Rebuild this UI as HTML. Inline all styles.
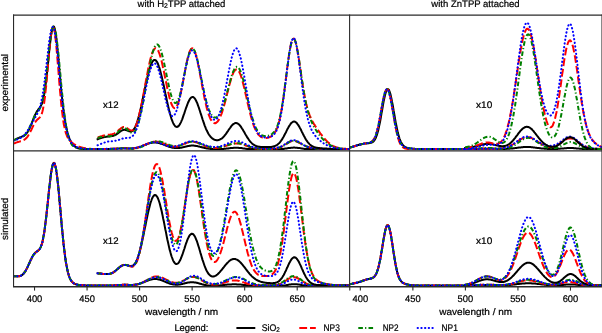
<!DOCTYPE html>
<html><head><meta charset="utf-8"><style>
html,body{margin:0;padding:0;background:#fff;width:602px;height:333px;overflow:hidden}
svg{display:block;will-change:transform}
text{font-family:"Liberation Sans",sans-serif;text-rendering:geometricPrecision}
</style></head><body>
<svg width="602" height="333" viewBox="0 0 602 333">
<defs>
<clipPath id="cTL"><rect x="13.55" y="15" width="336.05" height="135.95"/></clipPath>
<clipPath id="cBL"><rect x="13.55" y="150.95" width="336.05" height="135.5"/></clipPath>
<clipPath id="cTR"><rect x="349.6" y="15" width="252.4" height="135.95"/></clipPath>
<clipPath id="cBR"><rect x="349.6" y="150.95" width="252.4" height="135.5"/></clipPath>
</defs>
<rect width="602" height="333" fill="#fff"/>
<path d="M13.5,140.5 14.0,140.2 14.6,139.9 15.1,139.6 15.6,139.4 16.1,139.1 16.7,138.8 17.2,138.6 17.7,138.3 18.2,138.1 18.8,137.9 19.3,137.7 19.8,137.5 20.3,137.3 20.9,137.1 21.4,136.9 21.9,136.6 22.4,136.4 23.0,136.2 23.5,135.9 24.0,135.6 24.5,135.2 25.1,134.8 25.6,134.4 26.1,133.8 26.6,133.2 27.2,132.6 27.7,131.8 28.2,130.9 28.7,130.0 29.3,129.0 29.8,127.9 30.3,126.7 30.8,125.5 31.4,124.2 31.9,122.8 32.4,121.5 32.9,120.1 33.5,118.8 34.0,117.5 34.5,116.2 35.0,115.0 35.6,113.9 36.1,112.9 36.6,112.0 37.1,111.1 37.7,110.3 38.2,109.6 38.7,108.9 39.2,108.3 39.8,107.6 40.3,106.8 40.8,105.9 41.3,104.9 41.9,103.6 42.4,102.1 42.9,100.3 43.4,98.1 44.0,95.6 44.5,92.6 45.0,89.2 45.5,85.4 46.1,81.3 46.6,76.7 47.1,71.9 47.7,66.8 48.2,61.6 48.7,56.4 49.2,51.2 49.8,46.2 50.3,41.6 50.8,37.4 51.3,33.7 51.9,30.7 52.4,28.4 52.9,27.0 53.4,26.4 54.0,26.7 54.5,27.9 55.0,29.9 55.5,32.7 56.1,36.3 56.6,40.5 57.1,45.3 57.6,50.5 58.2,56.0 58.7,61.8 59.2,67.6 59.7,73.5 60.3,79.3 60.8,85.0 61.3,90.5 61.8,95.7 62.4,100.6 62.9,105.2 63.4,109.5 63.9,113.5 64.5,117.1 65.0,120.4 65.5,123.4 66.0,126.1 66.6,128.6 67.1,130.9 67.6,132.9 68.1,134.7 68.7,136.3 69.2,137.8 69.7,139.1 70.2,140.3 70.8,141.3 71.3,142.3 71.8,143.1 72.3,143.9 72.9,144.6 73.4,145.2 73.9,145.7 74.4,146.2 75.0,146.6 75.5,146.9 76.0,147.3 76.5,147.5 77.1,147.8 77.6,148.0 78.1,148.2 78.6,148.3 79.2,148.4 79.7,148.6 80.2,148.7 80.8,148.7 81.3,148.8 81.8,148.9 82.3,148.9 82.9,148.9 83.4,149.0 83.9,149.0 84.4,149.0 85.0,149.0 85.5,149.0 86.0,149.1 86.5,149.1 87.1,149.1 87.6,149.1 88.1,149.1 88.6,149.1 89.2,149.1 89.7,149.1 90.2,149.1 90.7,149.1 91.3,149.1 91.8,149.1 92.3,149.1 92.8,149.1 93.4,149.1 93.9,149.1 94.4,149.1 94.9,149.1 95.5,149.1 96.0,149.1 96.5,149.1 97.0,149.1 97.6,149.1 98.1,149.1 98.6,149.1 99.1,149.1 99.7,149.0 100.2,149.0 100.7,149.0 101.2,149.0 101.8,149.0 102.3,149.0 102.8,149.0 103.3,148.9 103.9,148.9 104.4,148.9 104.9,148.9 105.4,148.9 106.0,148.9 106.5,148.9 107.0,148.9 107.5,148.9 108.1,148.9 108.6,148.9 109.1,148.9 109.6,148.9 110.2,148.9 110.7,148.9 111.2,148.9 111.7,148.8 112.3,148.8 112.8,148.8 113.3,148.8 113.9,148.8 114.4,148.8 114.9,148.8 115.4,148.7 116.0,148.7 116.5,148.7 117.0,148.7 117.5,148.6 118.1,148.6 118.6,148.6 119.1,148.5 119.6,148.5 120.2,148.5 120.7,148.4 121.2,148.4 121.7,148.4 122.3,148.4 122.8,148.3 123.3,148.3 123.8,148.3 124.4,148.3 124.9,148.3 125.4,148.3 125.9,148.3 126.5,148.4 127.0,148.4 127.5,148.4 128.0,148.4 128.6,148.4 129.1,148.4 129.6,148.4 130.1,148.5 130.7,148.5 131.2,148.4 131.7,148.4 132.2,148.4 132.8,148.4 133.3,148.3 133.8,148.3 134.3,148.2 134.9,148.1 135.4,148.1 135.9,148.0 136.4,147.8 137.0,147.7 137.5,147.6 138.0,147.4 138.5,147.3 139.1,147.1 139.6,146.9 140.1,146.8 140.6,146.6 141.2,146.4 141.7,146.2 142.2,146.0 142.7,145.8 143.3,145.6 143.8,145.3 144.3,145.1 144.8,144.9 145.4,144.7 145.9,144.5 146.4,144.3 147.0,144.1 147.5,143.9 148.0,143.7 148.5,143.6 149.1,143.4 149.6,143.2 150.1,143.1 150.6,143.0 151.2,142.9 151.7,142.8 152.2,142.7 152.7,142.6 153.3,142.5 153.8,142.5 154.3,142.5 154.8,142.5 155.4,142.5 155.9,142.5 156.4,142.6 156.9,142.7 157.5,142.7 158.0,142.8 158.5,142.9 159.0,143.1 159.6,143.2 160.1,143.4 160.6,143.5 161.1,143.7 161.7,143.9 162.2,144.1 162.7,144.2 163.2,144.4 163.8,144.6 164.3,144.9 164.8,145.1 165.3,145.3 165.9,145.5 166.4,145.7 166.9,145.9 167.4,146.1 168.0,146.3 168.5,146.5 169.0,146.7 169.5,146.8 170.1,147.0 170.6,147.1 171.1,147.3 171.6,147.4 172.2,147.5 172.7,147.7 173.2,147.8 173.7,147.8 174.3,147.9 174.8,148.0 175.3,148.0 175.8,148.1 176.4,148.1 176.9,148.1 177.4,148.1 178.0,148.0 178.5,148.0 179.0,148.0 179.5,147.9 180.1,147.8 180.6,147.7 181.1,147.7 181.6,147.5 182.2,147.4 182.7,147.3 183.2,147.2 183.7,147.1 184.3,146.9 184.8,146.8 185.3,146.7 185.8,146.6 186.4,146.4 186.9,146.3 187.4,146.2 187.9,146.1 188.5,146.0 189.0,145.9 189.5,145.8 190.0,145.7 190.6,145.7 191.1,145.6 191.6,145.6 192.1,145.6 192.7,145.6 193.2,145.6 193.7,145.6 194.2,145.7 194.8,145.7 195.3,145.8 195.8,145.9 196.3,145.9 196.9,146.0 197.4,146.1 197.9,146.3 198.4,146.4 199.0,146.5 199.5,146.6 200.0,146.8 200.5,146.9 201.1,147.0 201.6,147.2 202.1,147.3 202.6,147.5 203.2,147.6 203.7,147.7 204.2,147.8 204.7,148.0 205.3,148.1 205.8,148.2 206.3,148.3 206.8,148.4 207.4,148.5 207.9,148.6 208.4,148.6 208.9,148.7 209.5,148.8 210.0,148.8 210.5,148.9 211.1,148.9 211.6,149.0 212.1,149.0 212.6,149.1 213.2,149.1 213.7,149.1 214.2,149.1 214.7,149.1 215.3,149.1 215.8,149.1 216.3,149.1 216.8,149.1 217.4,149.1 217.9,149.1 218.4,149.1 218.9,149.1 219.5,149.1 220.0,149.1 220.5,149.1 221.0,149.1 221.6,149.0 222.1,149.0 222.6,149.0 223.1,148.9 223.7,148.9 224.2,148.8 224.7,148.8 225.2,148.7 225.8,148.7 226.3,148.6 226.8,148.6 227.3,148.5 227.9,148.4 228.4,148.4 228.9,148.3 229.4,148.2 230.0,148.2 230.5,148.1 231.0,148.0 231.5,148.0 232.1,147.9 232.6,147.9 233.1,147.9 233.6,147.8 234.2,147.8 234.7,147.8 235.2,147.8 235.7,147.8 236.3,147.8 236.8,147.8 237.3,147.8 237.8,147.8 238.4,147.8 238.9,147.9 239.4,147.9 239.9,148.0 240.5,148.0 241.0,148.1 241.5,148.1 242.0,148.2 242.6,148.3 243.1,148.4 243.6,148.4 244.2,148.5 244.7,148.6 245.2,148.7 245.7,148.7 246.3,148.8 246.8,148.9 247.3,149.0 247.8,149.0 248.4,149.1 248.9,149.1 249.4,149.1 249.9,149.1 250.5,149.1 251.0,149.1 251.5,149.1 252.0,149.1 252.6,149.1 253.1,149.1 253.6,149.1 254.1,149.1 254.7,149.1 255.2,149.1 255.7,149.1 256.2,149.1 256.8,149.1 257.3,149.1 257.8,149.1 258.3,149.1 258.9,149.1 259.4,149.1 259.9,149.1 260.4,149.1 261.0,149.1 261.5,149.1 262.0,149.1 262.5,149.1 263.1,149.1 263.6,149.1 264.1,149.1 264.6,149.1 265.2,149.1 265.7,149.1 266.2,149.1 266.7,149.1 267.3,149.1 267.8,149.1 268.3,149.1 268.8,149.1 269.4,149.1 269.9,149.1 270.4,149.1 270.9,149.1 271.5,149.1 272.0,149.1 272.5,149.1 273.0,149.1 273.6,149.1 274.1,149.1 274.6,149.1 275.1,149.1 275.7,149.1 276.2,149.1 276.7,149.1 277.3,149.1 277.8,149.1 278.3,149.1 278.8,149.1 279.4,149.1 279.9,149.1 280.4,149.1 280.9,149.1 281.5,149.1 282.0,149.1 282.5,149.0 283.0,149.0 283.6,148.9 284.1,148.8 284.6,148.7 285.1,148.6 285.7,148.6 286.2,148.5 286.7,148.4 287.2,148.3 287.8,148.2 288.3,148.1 288.8,148.1 289.3,148.0 289.9,147.9 290.4,147.9 290.9,147.8 291.4,147.7 292.0,147.7 292.5,147.7 293.0,147.7 293.5,147.6 294.1,147.6 294.6,147.6 295.1,147.7 295.6,147.7 296.2,147.7 296.7,147.8 297.2,147.8 297.7,147.9 298.3,147.9 298.8,148.0 299.3,148.1 299.8,148.1 300.4,148.2 300.9,148.3 301.4,148.4 301.9,148.5 302.5,148.6 303.0,148.7 303.5,148.8 304.0,148.8 304.6,148.9 305.1,149.0 305.6,149.1 306.1,149.1 306.7,149.1 307.2,149.1 307.7,149.1 308.2,149.1 308.8,149.1 309.3,149.1 309.8,149.1 310.4,149.1 310.9,149.1 311.4,149.1 311.9,149.1 312.5,149.1 313.0,149.1 313.5,149.1 314.0,149.1 314.6,149.1 315.1,149.1 315.6,149.1 316.1,149.1 316.7,149.1 317.2,149.1 317.7,149.1 318.2,149.1 318.8,149.1 319.3,149.1 319.8,149.1 320.3,149.1 320.9,149.1 321.4,149.1 321.9,149.1 322.4,149.1 323.0,149.1 323.5,149.1 324.0,149.1 324.5,149.1 325.1,149.1 325.6,149.1 326.1,149.1 326.6,149.1 327.2,149.1 327.7,149.1 328.2,149.1 328.7,149.1 329.3,149.1 329.8,149.1 330.3,149.1 330.8,149.1 331.4,149.1 331.9,149.1 332.4,149.1 332.9,149.1 333.5,149.1 334.0,149.1 334.5,149.1 335.0,149.1 335.6,149.1 336.1,149.1 336.6,149.1 337.1,149.1 337.7,149.1 338.2,149.1 338.7,149.1 339.2,149.1 339.8,149.1 340.3,149.1 340.8,149.1 341.3,149.1 341.9,149.1 342.4,149.1 342.9,149.1 343.5,149.1 344.0,149.1 344.5,149.1 345.0,149.1 345.6,149.1 346.1,149.1 346.6,149.1 347.1,149.1 347.7,149.1 348.2,149.1 348.7,149.1 349.2,149.1 349.8,149.1" stroke="#000000" stroke-width="2.0" fill="none" stroke-linecap="square" stroke-linejoin="round" clip-path="url(#cTL)"/>
<path d="M13.5,143.6 14.0,143.4 14.6,143.2 15.1,143.0 15.6,142.8 16.1,142.6 16.7,142.4 17.2,142.2 17.7,142.1 18.2,141.9 18.8,141.8 19.3,141.6 19.8,141.5 20.3,141.3 20.9,141.2 21.4,141.0 21.9,140.8 22.4,140.6 23.0,140.4 23.5,140.2 24.0,139.9 24.5,139.5 25.1,139.2 25.6,138.7 26.1,138.2 26.6,137.7 27.2,137.1 27.7,136.4 28.2,135.6 28.7,134.7 29.3,133.8 29.8,132.9 30.3,131.8 30.8,130.8 31.4,129.7 31.9,128.6 32.4,127.5 32.9,126.4 33.5,125.3 34.0,124.3 34.5,123.4 35.0,122.5 35.6,121.7 36.1,121.0 36.6,120.4 37.1,119.8 37.7,119.3 38.2,118.9 38.7,118.4 39.2,117.9 39.8,117.4 40.3,116.7 40.8,115.8 41.3,114.7 41.9,113.4 42.4,111.6 42.9,109.5 43.4,106.9 44.0,103.9 44.5,100.3 45.0,96.3 45.5,91.7 46.1,86.7 46.6,81.3 47.1,75.6 47.7,69.6 48.2,63.5 48.7,57.5 49.2,51.6 49.8,46.0 50.3,41.0 50.8,36.5 51.3,32.8 51.9,30.0 52.4,28.1 52.9,27.3 53.4,27.5 54.0,28.8 54.5,31.2 55.0,34.4 55.5,38.6 56.1,43.5 56.6,49.1 57.1,55.1 57.6,61.5 58.2,68.0 58.7,74.6 59.2,81.2 59.7,87.6 60.3,93.6 60.8,99.4 61.3,104.7 61.8,109.6 62.4,114.1 62.9,118.1 63.4,121.6 63.9,124.7 64.5,127.4 65.0,129.8 65.5,131.8 66.0,133.5 66.6,135.0 67.1,136.3 67.6,137.4 68.1,138.3 68.7,139.2 69.2,139.9 69.7,140.5 70.2,141.1 70.8,141.6 71.3,142.1 71.8,142.5 72.3,143.0 72.9,143.3 73.4,143.7 73.9,144.1 74.4,144.4 75.0,144.7 75.5,145.0 76.0,145.3 76.5,145.5 77.1,145.8 77.6,146.0 78.1,146.3 78.6,146.5 79.2,146.7 79.7,146.9 80.2,147.1 80.8,147.2 81.3,147.4 81.8,147.5 82.3,147.7 82.9,147.8 83.4,147.9 83.9,148.0 84.4,148.1 85.0,148.2 85.5,148.3 86.0,148.4 86.5,148.4 87.1,148.5 87.6,148.6 88.1,148.6 88.6,148.7 89.2,148.7 89.7,148.8 90.2,148.8 90.7,148.8 91.3,148.9 91.8,148.9 92.3,148.9 92.8,148.9 93.4,149.0 93.9,149.0 94.4,149.0 94.9,149.0 95.5,149.0 96.0,149.0 96.5,149.0 97.0,149.0 97.6,149.1 98.1,149.0 98.6,149.0 99.1,149.0 99.7,149.0 100.2,149.0 100.7,149.0 101.2,149.0 101.8,149.0 102.3,148.9 102.8,148.9 103.3,148.9 103.9,148.9 104.4,148.9 104.9,148.9 105.4,148.9 106.0,148.9 106.5,148.9 107.0,148.9 107.5,148.9 108.1,148.9 108.6,148.9 109.1,148.9 109.6,148.8 110.2,148.8 110.7,148.8 111.2,148.8 111.7,148.8 112.3,148.8 112.8,148.8 113.3,148.8 113.9,148.8 114.4,148.7 114.9,148.7 115.4,148.7 116.0,148.7 116.5,148.6 117.0,148.6 117.5,148.6 118.1,148.5 118.6,148.5 119.1,148.4 119.6,148.4 120.2,148.4 120.7,148.3 121.2,148.3 121.7,148.3 122.3,148.3 122.8,148.2 123.3,148.2 123.8,148.2 124.4,148.2 124.9,148.2 125.4,148.2 125.9,148.3 126.5,148.3 127.0,148.3 127.5,148.3 128.0,148.4 128.6,148.4 129.1,148.4 129.6,148.5 130.1,148.5 130.7,148.5 131.2,148.5 131.7,148.5 132.2,148.5 132.8,148.5 133.3,148.4 133.8,148.4 134.3,148.3 134.9,148.3 135.4,148.2 135.9,148.1 136.4,148.0 137.0,147.9 137.5,147.7 138.0,147.6 138.5,147.4 139.1,147.3 139.6,147.1 140.1,146.9 140.6,146.7 141.2,146.5 141.7,146.3 142.2,146.0 142.7,145.8 143.3,145.6 143.8,145.3 144.3,145.1 144.8,144.9 145.4,144.6 145.9,144.4 146.4,144.1 147.0,143.9 147.5,143.7 148.0,143.5 148.5,143.2 149.1,143.0 149.6,142.8 150.1,142.7 150.6,142.5 151.2,142.3 151.7,142.2 152.2,142.1 152.7,141.9 153.3,141.8 153.8,141.8 154.3,141.7 154.8,141.7 155.4,141.6 155.9,141.6 156.4,141.7 156.9,141.7 157.5,141.7 158.0,141.8 158.5,141.9 159.0,142.0 159.6,142.1 160.1,142.3 160.6,142.4 161.1,142.6 161.7,142.8 162.2,142.9 162.7,143.1 163.2,143.3 163.8,143.5 164.3,143.8 164.8,144.0 165.3,144.2 165.9,144.4 166.4,144.6 166.9,144.8 167.4,145.0 168.0,145.2 168.5,145.4 169.0,145.6 169.5,145.8 170.1,145.9 170.6,146.1 171.1,146.2 171.6,146.3 172.2,146.4 172.7,146.5 173.2,146.6 173.7,146.6 174.3,146.6 174.8,146.6 175.3,146.6 175.8,146.6 176.4,146.5 176.9,146.5 177.4,146.4 178.0,146.3 178.5,146.1 179.0,146.0 179.5,145.8 180.1,145.7 180.6,145.5 181.1,145.3 181.6,145.0 182.2,144.8 182.7,144.6 183.2,144.4 183.7,144.1 184.3,143.9 184.8,143.7 185.3,143.4 185.8,143.2 186.4,143.0 186.9,142.8 187.4,142.6 187.9,142.4 188.5,142.2 189.0,142.1 189.5,142.0 190.0,141.9 190.6,141.8 191.1,141.7 191.6,141.7 192.1,141.7 192.7,141.7 193.2,141.7 193.7,141.7 194.2,141.8 194.8,141.9 195.3,142.0 195.8,142.2 196.3,142.3 196.9,142.5 197.4,142.7 197.9,142.9 198.4,143.1 199.0,143.3 199.5,143.6 200.0,143.8 200.5,144.0 201.1,144.3 201.6,144.5 202.1,144.8 202.6,145.0 203.2,145.2 203.7,145.5 204.2,145.7 204.7,145.9 205.3,146.1 205.8,146.3 206.3,146.5 206.8,146.6 207.4,146.8 207.9,147.0 208.4,147.1 208.9,147.2 209.5,147.3 210.0,147.4 210.5,147.5 211.1,147.6 211.6,147.7 212.1,147.8 212.6,147.8 213.2,147.8 213.7,147.9 214.2,147.9 214.7,147.9 215.3,147.9 215.8,147.9 216.3,147.9 216.8,147.8 217.4,147.8 217.9,147.7 218.4,147.7 218.9,147.6 219.5,147.5 220.0,147.4 220.5,147.3 221.0,147.2 221.6,147.1 222.1,147.0 222.6,146.8 223.1,146.7 223.7,146.6 224.2,146.4 224.7,146.2 225.2,146.1 225.8,145.9 226.3,145.7 226.8,145.6 227.3,145.4 227.9,145.2 228.4,145.0 228.9,144.9 229.4,144.7 230.0,144.5 230.5,144.4 231.0,144.2 231.5,144.1 232.1,144.0 232.6,143.9 233.1,143.7 233.6,143.7 234.2,143.6 234.7,143.5 235.2,143.5 235.7,143.4 236.3,143.4 236.8,143.4 237.3,143.4 237.8,143.5 238.4,143.5 238.9,143.6 239.4,143.6 239.9,143.7 240.5,143.9 241.0,144.0 241.5,144.1 242.0,144.3 242.6,144.4 243.1,144.6 243.6,144.8 244.2,144.9 244.7,145.1 245.2,145.3 245.7,145.5 246.3,145.7 246.8,145.9 247.3,146.1 247.8,146.3 248.4,146.5 248.9,146.7 249.4,146.8 249.9,147.0 250.5,147.2 251.0,147.3 251.5,147.5 252.0,147.7 252.6,147.8 253.1,147.9 253.6,148.1 254.1,148.2 254.7,148.3 255.2,148.4 255.7,148.5 256.2,148.6 256.8,148.6 257.3,148.7 257.8,148.8 258.3,148.8 258.9,148.9 259.4,148.9 259.9,149.0 260.4,149.0 261.0,149.0 261.5,149.1 262.0,149.1 262.5,149.1 263.1,149.1 263.6,149.1 264.1,149.1 264.6,149.1 265.2,149.1 265.7,149.1 266.2,149.1 266.7,149.1 267.3,149.1 267.8,149.1 268.3,149.1 268.8,149.1 269.4,149.1 269.9,149.0 270.4,149.0 270.9,149.0 271.5,149.0 272.0,148.9 272.5,148.9 273.0,148.9 273.6,148.8 274.1,148.8 274.6,148.7 275.1,148.6 275.7,148.6 276.2,148.5 276.7,148.4 277.3,148.3 277.8,148.1 278.3,148.0 278.8,147.8 279.4,147.7 279.9,147.5 280.4,147.3 280.9,147.1 281.5,146.8 282.0,146.6 282.5,146.3 283.0,146.0 283.6,145.7 284.1,145.4 284.6,145.0 285.1,144.7 285.7,144.3 286.2,144.0 286.7,143.6 287.2,143.3 287.8,143.0 288.3,142.6 288.8,142.3 289.3,142.0 289.9,141.8 290.4,141.5 290.9,141.3 291.4,141.2 292.0,141.0 292.5,140.9 293.0,140.9 293.5,140.8 294.1,140.9 294.6,140.9 295.1,141.0 295.6,141.1 296.2,141.3 296.7,141.5 297.2,141.7 297.7,142.0 298.3,142.2 298.8,142.5 299.3,142.8 299.8,143.1 300.4,143.4 300.9,143.7 301.4,144.0 301.9,144.3 302.5,144.6 303.0,144.9 303.5,145.1 304.0,145.4 304.6,145.6 305.1,145.8 305.6,146.0 306.1,146.2 306.7,146.4 307.2,146.6 307.7,146.8 308.2,146.9 308.8,147.0 309.3,147.2 309.8,147.3 310.4,147.4 310.9,147.5 311.4,147.6 311.9,147.7 312.5,147.7 313.0,147.8 313.5,147.9 314.0,148.0 314.6,148.0 315.1,148.1 315.6,148.2 316.1,148.2 316.7,148.3 317.2,148.4 317.7,148.4 318.2,148.5 318.8,148.6 319.3,148.6 319.8,148.7 320.3,148.7 320.9,148.8 321.4,148.9 321.9,148.9 322.4,149.0 323.0,149.0 323.5,149.1 324.0,149.1 324.5,149.1 325.1,149.1 325.6,149.1 326.1,149.1 326.6,149.1 327.2,149.1 327.7,149.1 328.2,149.1 328.7,149.1 329.3,149.1 329.8,149.1 330.3,149.1 330.8,149.1 331.4,149.1 331.9,149.1 332.4,149.1 332.9,149.1 333.5,149.1 334.0,149.1 334.5,149.1 335.0,149.1 335.6,149.1 336.1,149.1 336.6,149.1 337.1,149.1 337.7,149.1 338.2,149.1 338.7,149.1 339.2,149.1 339.8,149.1 340.3,149.1 340.8,149.1 341.3,149.1 341.9,149.1 342.4,149.1 342.9,149.1 343.5,149.1 344.0,149.1 344.5,149.1 345.0,149.1 345.6,149.1 346.1,149.1 346.6,149.1 347.1,149.1 347.7,149.1 348.2,149.1 348.7,149.1 349.2,149.1 349.8,149.1" stroke="#ff0000" stroke-width="2.0" fill="none" stroke-dasharray="7.8 2.9" stroke-linecap="butt" clip-path="url(#cTL)"/>
<path d="M13.5,140.4 14.0,140.1 14.6,139.8 15.1,139.6 15.6,139.4 16.1,139.2 16.7,139.0 17.2,138.8 17.7,138.6 18.2,138.4 18.8,138.2 19.3,138.1 19.8,137.9 20.3,137.7 20.9,137.5 21.4,137.4 21.9,137.1 22.4,136.9 23.0,136.6 23.5,136.3 24.0,135.9 24.5,135.5 25.1,135.0 25.6,134.5 26.1,133.8 26.6,133.1 27.2,132.3 27.7,131.4 28.2,130.4 28.7,129.4 29.3,128.3 29.8,127.1 30.3,125.9 30.8,124.7 31.4,123.4 31.9,122.1 32.4,120.9 32.9,119.7 33.5,118.5 34.0,117.4 34.5,116.4 35.0,115.5 35.6,114.6 36.1,113.8 36.6,113.1 37.1,112.4 37.7,111.8 38.2,111.1 38.7,110.4 39.2,109.6 39.8,108.8 40.3,107.7 40.8,106.4 41.3,104.9 41.9,103.2 42.4,101.1 42.9,98.7 43.4,95.9 44.0,92.8 44.5,89.3 45.0,85.4 45.5,81.3 46.1,76.9 46.6,72.3 47.1,67.5 47.7,62.7 48.2,57.8 48.7,53.0 49.2,48.3 49.8,43.9 50.3,39.9 50.8,36.2 51.3,33.1 51.9,30.5 52.4,28.5 52.9,27.3 53.4,26.7 54.0,26.8 54.5,27.6 55.0,29.2 55.5,31.5 56.1,34.4 56.6,37.9 57.1,42.0 57.6,46.5 58.2,51.4 58.7,56.7 59.2,62.2 59.7,67.8 60.3,73.5 60.8,79.3 61.3,85.0 61.8,90.5 62.4,95.9 62.9,101.0 63.4,105.9 63.9,110.5 64.5,114.8 65.0,118.7 65.5,122.4 66.0,125.7 66.6,128.7 67.1,131.3 67.6,133.7 68.1,135.8 68.7,137.7 69.2,139.3 69.7,140.7 70.2,141.9 70.8,142.9 71.3,143.8 71.8,144.6 72.3,145.2 72.9,145.8 73.4,146.2 73.9,146.6 74.4,146.9 75.0,147.2 75.5,147.4 76.0,147.6 76.5,147.8 77.1,148.0 77.6,148.1 78.1,148.2 78.6,148.3 79.2,148.4 79.7,148.5 80.2,148.5 80.8,148.6 81.3,148.6 81.8,148.7 82.3,148.7 82.9,148.8 83.4,148.8 83.9,148.8 84.4,148.9 85.0,148.9 85.5,148.9 86.0,148.9 86.5,148.9 87.1,149.0 87.6,149.0 88.1,149.0 88.6,149.0 89.2,149.0 89.7,149.0 90.2,149.0 90.7,149.0 91.3,149.0 91.8,149.1 92.3,149.1 92.8,149.1 93.4,149.1 93.9,149.1 94.4,149.1 94.9,149.1 95.5,149.1 96.0,149.1 96.5,149.1 97.0,149.1 97.6,149.1 98.1,149.1 98.6,149.1 99.1,149.1 99.7,149.0 100.2,149.0 100.7,149.0 101.2,149.0 101.8,149.0 102.3,149.0 102.8,149.0 103.3,149.0 103.9,149.0 104.4,149.0 104.9,149.0 105.4,149.0 106.0,149.0 106.5,149.0 107.0,149.0 107.5,149.0 108.1,149.0 108.6,149.0 109.1,148.9 109.6,148.9 110.2,148.9 110.7,148.9 111.2,148.9 111.7,148.9 112.3,148.9 112.8,148.9 113.3,148.9 113.9,148.9 114.4,148.8 114.9,148.8 115.4,148.8 116.0,148.7 116.5,148.7 117.0,148.7 117.5,148.6 118.1,148.6 118.6,148.5 119.1,148.5 119.6,148.5 120.2,148.4 120.7,148.4 121.2,148.3 121.7,148.3 122.3,148.3 122.8,148.3 123.3,148.3 123.8,148.3 124.4,148.3 124.9,148.3 125.4,148.3 125.9,148.3 126.5,148.3 127.0,148.4 127.5,148.4 128.0,148.4 128.6,148.5 129.1,148.5 129.6,148.6 130.1,148.6 130.7,148.6 131.2,148.6 131.7,148.7 132.2,148.7 132.8,148.7 133.3,148.7 133.8,148.6 134.3,148.6 134.9,148.5 135.4,148.5 135.9,148.4 136.4,148.3 137.0,148.2 137.5,148.1 138.0,148.0 138.5,147.8 139.1,147.7 139.6,147.5 140.1,147.3 140.6,147.1 141.2,146.9 141.7,146.7 142.2,146.5 142.7,146.3 143.3,146.1 143.8,145.8 144.3,145.6 144.8,145.3 145.4,145.1 145.9,144.8 146.4,144.6 147.0,144.3 147.5,144.1 148.0,143.8 148.5,143.6 149.1,143.3 149.6,143.1 150.1,142.9 150.6,142.7 151.2,142.5 151.7,142.3 152.2,142.1 152.7,142.0 153.3,141.8 153.8,141.7 154.3,141.6 154.8,141.5 155.4,141.4 155.9,141.4 156.4,141.3 156.9,141.3 157.5,141.3 158.0,141.3 158.5,141.4 159.0,141.4 159.6,141.5 160.1,141.6 160.6,141.7 161.1,141.9 161.7,142.0 162.2,142.2 162.7,142.3 163.2,142.5 163.8,142.7 164.3,142.9 164.8,143.1 165.3,143.3 165.9,143.6 166.4,143.8 166.9,144.0 167.4,144.2 168.0,144.4 168.5,144.6 169.0,144.8 169.5,145.0 170.1,145.2 170.6,145.4 171.1,145.5 171.6,145.7 172.2,145.8 172.7,145.9 173.2,146.0 173.7,146.1 174.3,146.1 174.8,146.2 175.3,146.2 175.8,146.2 176.4,146.2 176.9,146.1 177.4,146.0 178.0,146.0 178.5,145.9 179.0,145.7 179.5,145.6 180.1,145.4 180.6,145.3 181.1,145.1 181.6,144.9 182.2,144.7 182.7,144.5 183.2,144.3 183.7,144.1 184.3,143.8 184.8,143.6 185.3,143.4 185.8,143.2 186.4,143.0 186.9,142.8 187.4,142.6 187.9,142.4 188.5,142.2 189.0,142.1 189.5,142.0 190.0,141.9 190.6,141.8 191.1,141.7 191.6,141.7 192.1,141.6 192.7,141.6 193.2,141.7 193.7,141.7 194.2,141.8 194.8,141.9 195.3,142.0 195.8,142.1 196.3,142.2 196.9,142.4 197.4,142.6 197.9,142.8 198.4,143.0 199.0,143.2 199.5,143.4 200.0,143.6 200.5,143.8 201.1,144.0 201.6,144.3 202.1,144.5 202.6,144.7 203.2,144.9 203.7,145.1 204.2,145.3 204.7,145.5 205.3,145.7 205.8,145.9 206.3,146.1 206.8,146.2 207.4,146.4 207.9,146.5 208.4,146.6 208.9,146.7 209.5,146.9 210.0,146.9 210.5,147.0 211.1,147.1 211.6,147.2 212.1,147.2 212.6,147.3 213.2,147.3 213.7,147.4 214.2,147.4 214.7,147.4 215.3,147.4 215.8,147.4 216.3,147.4 216.8,147.4 217.4,147.3 217.9,147.3 218.4,147.2 218.9,147.2 219.5,147.1 220.0,147.0 220.5,147.0 221.0,146.9 221.6,146.8 222.1,146.7 222.6,146.6 223.1,146.4 223.7,146.3 224.2,146.2 224.7,146.0 225.2,145.9 225.8,145.7 226.3,145.6 226.8,145.4 227.3,145.2 227.9,145.1 228.4,144.9 228.9,144.7 229.4,144.6 230.0,144.4 230.5,144.2 231.0,144.1 231.5,144.0 232.1,143.8 232.6,143.7 233.1,143.6 233.6,143.5 234.2,143.4 234.7,143.3 235.2,143.3 235.7,143.2 236.3,143.2 236.8,143.2 237.3,143.2 237.8,143.2 238.4,143.2 238.9,143.3 239.4,143.3 239.9,143.4 240.5,143.5 241.0,143.6 241.5,143.8 242.0,143.9 242.6,144.1 243.1,144.2 243.6,144.4 244.2,144.6 244.7,144.8 245.2,144.9 245.7,145.1 246.3,145.3 246.8,145.5 247.3,145.7 247.8,145.9 248.4,146.1 248.9,146.3 249.4,146.5 249.9,146.7 250.5,146.9 251.0,147.0 251.5,147.2 252.0,147.3 252.6,147.5 253.1,147.6 253.6,147.8 254.1,147.9 254.7,148.0 255.2,148.1 255.7,148.2 256.2,148.3 256.8,148.4 257.3,148.5 257.8,148.5 258.3,148.6 258.9,148.7 259.4,148.7 259.9,148.7 260.4,148.8 261.0,148.8 261.5,148.8 262.0,148.9 262.5,148.9 263.1,148.9 263.6,148.9 264.1,148.9 264.6,148.9 265.2,148.9 265.7,148.9 266.2,148.9 266.7,148.9 267.3,148.9 267.8,148.9 268.3,148.9 268.8,148.9 269.4,148.9 269.9,148.9 270.4,148.8 270.9,148.8 271.5,148.8 272.0,148.8 272.5,148.7 273.0,148.7 273.6,148.6 274.1,148.6 274.6,148.5 275.1,148.5 275.7,148.4 276.2,148.3 276.7,148.2 277.3,148.1 277.8,148.0 278.3,147.9 278.8,147.7 279.4,147.5 279.9,147.4 280.4,147.2 280.9,147.0 281.5,146.7 282.0,146.5 282.5,146.2 283.0,145.9 283.6,145.6 284.1,145.3 284.6,145.0 285.1,144.6 285.7,144.3 286.2,144.0 286.7,143.6 287.2,143.3 287.8,142.9 288.3,142.6 288.8,142.3 289.3,142.0 289.9,141.8 290.4,141.5 290.9,141.3 291.4,141.2 292.0,141.0 292.5,140.9 293.0,140.8 293.5,140.8 294.1,140.8 294.6,140.9 295.1,141.0 295.6,141.1 296.2,141.3 296.7,141.4 297.2,141.7 297.7,141.9 298.3,142.2 298.8,142.4 299.3,142.7 299.8,143.0 300.4,143.3 300.9,143.6 301.4,143.9 301.9,144.2 302.5,144.5 303.0,144.8 303.5,145.1 304.0,145.3 304.6,145.6 305.1,145.8 305.6,146.1 306.1,146.3 306.7,146.5 307.2,146.6 307.7,146.8 308.2,147.0 308.8,147.1 309.3,147.3 309.8,147.4 310.4,147.5 310.9,147.6 311.4,147.7 311.9,147.8 312.5,147.9 313.0,148.0 313.5,148.1 314.0,148.2 314.6,148.2 315.1,148.3 315.6,148.4 316.1,148.5 316.7,148.5 317.2,148.6 317.7,148.6 318.2,148.7 318.8,148.8 319.3,148.8 319.8,148.9 320.3,148.9 320.9,149.0 321.4,149.0 321.9,149.1 322.4,149.1 323.0,149.1 323.5,149.1 324.0,149.1 324.5,149.1 325.1,149.1 325.6,149.1 326.1,149.1 326.6,149.1 327.2,149.1 327.7,149.1 328.2,149.1 328.7,149.1 329.3,149.1 329.8,149.1 330.3,149.1 330.8,149.1 331.4,149.1 331.9,149.1 332.4,149.1 332.9,149.1 333.5,149.1 334.0,149.1 334.5,149.1 335.0,149.1 335.6,149.1 336.1,149.1 336.6,149.1 337.1,149.1 337.7,149.1 338.2,149.1 338.7,149.1 339.2,149.1 339.8,149.1 340.3,149.1 340.8,149.1 341.3,149.1 341.9,149.1 342.4,149.1 342.9,149.1 343.5,149.1 344.0,149.1 344.5,149.1 345.0,149.1 345.6,149.1 346.1,149.1 346.6,149.1 347.1,149.1 347.7,149.1 348.2,149.1 348.7,149.1 349.2,149.1 349.8,149.1" stroke="#008000" stroke-width="2.0" fill="none" stroke-dasharray="4.6 2.2 1.2 2.2" stroke-linecap="butt" clip-path="url(#cTL)"/>
<path d="M13.5,140.7 14.0,140.6 14.6,140.4 15.1,140.2 15.6,140.1 16.1,139.9 16.7,139.7 17.2,139.5 17.7,139.3 18.2,139.1 18.8,138.9 19.3,138.7 19.8,138.4 20.3,138.1 20.9,137.8 21.4,137.5 21.9,137.1 22.4,136.7 23.0,136.3 23.5,135.8 24.0,135.3 24.5,134.7 25.1,134.1 25.6,133.5 26.1,132.8 26.6,132.1 27.2,131.3 27.7,130.5 28.2,129.6 28.7,128.8 29.3,127.9 29.8,126.9 30.3,126.0 30.8,125.1 31.4,124.1 31.9,123.2 32.4,122.3 32.9,121.3 33.5,120.4 34.0,119.5 34.5,118.6 35.0,117.7 35.6,116.8 36.1,115.9 36.6,115.0 37.1,114.0 37.7,112.9 38.2,111.7 38.7,110.4 39.2,109.0 39.8,107.4 40.3,105.6 40.8,103.6 41.3,101.3 41.9,98.7 42.4,95.9 42.9,92.7 43.4,89.3 44.0,85.6 44.5,81.6 45.0,77.4 45.5,73.0 46.1,68.4 46.6,63.7 47.1,58.9 47.7,54.3 48.2,49.7 48.7,45.3 49.2,41.2 49.8,37.5 50.3,34.3 50.8,31.5 51.3,29.4 51.9,27.9 52.4,27.1 52.9,26.9 53.4,27.5 54.0,28.9 54.5,30.9 55.0,33.6 55.5,36.9 56.1,40.7 56.6,45.1 57.1,49.9 57.6,55.0 58.2,60.3 58.7,65.8 59.2,71.4 59.7,77.0 60.3,82.5 60.8,88.0 61.3,93.2 61.8,98.2 62.4,103.0 62.9,107.5 63.4,111.6 63.9,115.5 64.5,119.0 65.0,122.3 65.5,125.2 66.0,127.9 66.6,130.2 67.1,132.4 67.6,134.2 68.1,135.9 68.7,137.4 69.2,138.7 69.7,139.9 70.2,140.9 70.8,141.8 71.3,142.6 71.8,143.3 72.3,143.9 72.9,144.5 73.4,145.0 73.9,145.4 74.4,145.8 75.0,146.2 75.5,146.5 76.0,146.8 76.5,147.0 77.1,147.3 77.6,147.5 78.1,147.7 78.6,147.8 79.2,148.0 79.7,148.1 80.2,148.2 80.8,148.3 81.3,148.4 81.8,148.5 82.3,148.6 82.9,148.7 83.4,148.7 83.9,148.8 84.4,148.8 85.0,148.9 85.5,148.9 86.0,148.9 86.5,148.9 87.1,149.0 87.6,149.0 88.1,149.0 88.6,149.0 89.2,149.0 89.7,149.0 90.2,149.1 90.7,149.1 91.3,149.1 91.8,149.1 92.3,149.1 92.8,149.1 93.4,149.1 93.9,149.1 94.4,149.1 94.9,149.1 95.5,149.1 96.0,149.1 96.5,149.1 97.0,149.1 97.6,149.1 98.1,149.1 98.6,149.1 99.1,149.0 99.7,149.0 100.2,149.0 100.7,149.0 101.2,149.0 101.8,149.0 102.3,148.9 102.8,148.9 103.3,148.9 103.9,148.9 104.4,148.9 104.9,148.9 105.4,148.8 106.0,148.8 106.5,148.8 107.0,148.8 107.5,148.8 108.1,148.8 108.6,148.8 109.1,148.8 109.6,148.8 110.2,148.8 110.7,148.8 111.2,148.8 111.7,148.8 112.3,148.8 112.8,148.8 113.3,148.7 113.9,148.7 114.4,148.7 114.9,148.7 115.4,148.7 116.0,148.7 116.5,148.7 117.0,148.7 117.5,148.7 118.1,148.7 118.6,148.7 119.1,148.6 119.6,148.6 120.2,148.6 120.7,148.6 121.2,148.6 121.7,148.6 122.3,148.5 122.8,148.5 123.3,148.5 123.8,148.5 124.4,148.5 124.9,148.5 125.4,148.5 125.9,148.5 126.5,148.5 127.0,148.5 127.5,148.5 128.0,148.5 128.6,148.5 129.1,148.5 129.6,148.5 130.1,148.5 130.7,148.4 131.2,148.4 131.7,148.4 132.2,148.4 132.8,148.3 133.3,148.3 133.8,148.2 134.3,148.1 134.9,148.1 135.4,148.0 135.9,147.9 136.4,147.8 137.0,147.6 137.5,147.5 138.0,147.4 138.5,147.2 139.1,147.1 139.6,146.9 140.1,146.7 140.6,146.5 141.2,146.3 141.7,146.1 142.2,145.9 142.7,145.7 143.3,145.5 143.8,145.2 144.3,145.0 144.8,144.8 145.4,144.6 145.9,144.4 146.4,144.1 147.0,143.9 147.5,143.7 148.0,143.5 148.5,143.3 149.1,143.2 149.6,143.0 150.1,142.9 150.6,142.7 151.2,142.6 151.7,142.5 152.2,142.4 152.7,142.4 153.3,142.3 153.8,142.3 154.3,142.3 154.8,142.3 155.4,142.3 155.9,142.3 156.4,142.4 156.9,142.5 157.5,142.6 158.0,142.7 158.5,142.8 159.0,142.9 159.6,143.1 160.1,143.3 160.6,143.4 161.1,143.6 161.7,143.8 162.2,144.0 162.7,144.2 163.2,144.4 163.8,144.6 164.3,144.8 164.8,145.0 165.3,145.2 165.9,145.4 166.4,145.5 166.9,145.7 167.4,145.9 168.0,146.0 168.5,146.1 169.0,146.3 169.5,146.4 170.1,146.5 170.6,146.5 171.1,146.6 171.6,146.6 172.2,146.7 172.7,146.7 173.2,146.7 173.7,146.6 174.3,146.6 174.8,146.5 175.3,146.4 175.8,146.3 176.4,146.2 176.9,146.1 177.4,146.0 178.0,145.8 178.5,145.6 179.0,145.4 179.5,145.2 180.1,145.0 180.6,144.8 181.1,144.6 181.6,144.4 182.2,144.1 182.7,143.9 183.2,143.7 183.7,143.5 184.3,143.2 184.8,143.0 185.3,142.8 185.8,142.6 186.4,142.4 186.9,142.2 187.4,142.0 187.9,141.9 188.5,141.7 189.0,141.6 189.5,141.5 190.0,141.4 190.6,141.3 191.1,141.2 191.6,141.2 192.1,141.2 192.7,141.2 193.2,141.2 193.7,141.3 194.2,141.3 194.8,141.4 195.3,141.5 195.8,141.6 196.3,141.8 196.9,141.9 197.4,142.1 197.9,142.3 198.4,142.4 199.0,142.6 199.5,142.8 200.0,143.0 200.5,143.3 201.1,143.5 201.6,143.7 202.1,143.9 202.6,144.1 203.2,144.3 203.7,144.5 204.2,144.7 204.7,144.9 205.3,145.1 205.8,145.3 206.3,145.5 206.8,145.7 207.4,145.8 207.9,146.0 208.4,146.1 208.9,146.3 209.5,146.4 210.0,146.5 210.5,146.6 211.1,146.7 211.6,146.8 212.1,146.8 212.6,146.9 213.2,146.9 213.7,146.9 214.2,147.0 214.7,147.0 215.3,147.0 215.8,147.0 216.3,146.9 216.8,146.9 217.4,146.8 217.9,146.8 218.4,146.7 218.9,146.6 219.5,146.5 220.0,146.4 220.5,146.2 221.0,146.1 221.6,145.9 222.1,145.8 222.6,145.6 223.1,145.4 223.7,145.2 224.2,145.0 224.7,144.8 225.2,144.5 225.8,144.3 226.3,144.1 226.8,143.8 227.3,143.6 227.9,143.4 228.4,143.1 228.9,142.9 229.4,142.7 230.0,142.4 230.5,142.2 231.0,142.0 231.5,141.9 232.1,141.7 232.6,141.5 233.1,141.4 233.6,141.3 234.2,141.2 234.7,141.1 235.2,141.1 235.7,141.0 236.3,141.0 236.8,141.0 237.3,141.1 237.8,141.1 238.4,141.2 238.9,141.3 239.4,141.4 239.9,141.6 240.5,141.8 241.0,141.9 241.5,142.1 242.0,142.4 242.6,142.6 243.1,142.8 243.6,143.1 244.2,143.3 244.7,143.6 245.2,143.8 245.7,144.1 246.3,144.3 246.8,144.6 247.3,144.9 247.8,145.1 248.4,145.4 248.9,145.6 249.4,145.8 249.9,146.0 250.5,146.3 251.0,146.5 251.5,146.6 252.0,146.8 252.6,147.0 253.1,147.1 253.6,147.3 254.1,147.4 254.7,147.5 255.2,147.7 255.7,147.8 256.2,147.9 256.8,147.9 257.3,148.0 257.8,148.1 258.3,148.1 258.9,148.2 259.4,148.2 259.9,148.3 260.4,148.3 261.0,148.3 261.5,148.4 262.0,148.4 262.5,148.4 263.1,148.4 263.6,148.4 264.1,148.4 264.6,148.4 265.2,148.4 265.7,148.4 266.2,148.4 266.7,148.4 267.3,148.4 267.8,148.4 268.3,148.4 268.8,148.4 269.4,148.4 269.9,148.4 270.4,148.4 270.9,148.4 271.5,148.3 272.0,148.3 272.5,148.3 273.0,148.3 273.6,148.2 274.1,148.2 274.6,148.1 275.1,148.1 275.7,148.0 276.2,147.9 276.7,147.8 277.3,147.7 277.8,147.6 278.3,147.5 278.8,147.3 279.4,147.2 279.9,147.0 280.4,146.8 280.9,146.5 281.5,146.3 282.0,146.0 282.5,145.8 283.0,145.5 283.6,145.2 284.1,144.8 284.6,144.5 285.1,144.1 285.7,143.8 286.2,143.4 286.7,143.1 287.2,142.7 287.8,142.4 288.3,142.0 288.8,141.7 289.3,141.4 289.9,141.1 290.4,140.9 290.9,140.7 291.4,140.5 292.0,140.3 292.5,140.2 293.0,140.2 293.5,140.2 294.1,140.2 294.6,140.2 295.1,140.4 295.6,140.5 296.2,140.7 296.7,140.9 297.2,141.1 297.7,141.4 298.3,141.7 298.8,142.0 299.3,142.3 299.8,142.6 300.4,143.0 300.9,143.3 301.4,143.7 301.9,144.0 302.5,144.3 303.0,144.6 303.5,145.0 304.0,145.3 304.6,145.5 305.1,145.8 305.6,146.0 306.1,146.3 306.7,146.5 307.2,146.7 307.7,146.9 308.2,147.0 308.8,147.2 309.3,147.3 309.8,147.5 310.4,147.6 310.9,147.7 311.4,147.8 311.9,147.9 312.5,148.0 313.0,148.0 313.5,148.1 314.0,148.2 314.6,148.2 315.1,148.3 315.6,148.3 316.1,148.4 316.7,148.4 317.2,148.5 317.7,148.5 318.2,148.6 318.8,148.6 319.3,148.7 319.8,148.7 320.3,148.7 320.9,148.8 321.4,148.8 321.9,148.8 322.4,148.9 323.0,148.9 323.5,148.9 324.0,149.0 324.5,149.0 325.1,149.0 325.6,149.0 326.1,149.1 326.6,149.1 327.2,149.1 327.7,149.1 328.2,149.1 328.7,149.1 329.3,149.1 329.8,149.1 330.3,149.1 330.8,149.1 331.4,149.1 331.9,149.1 332.4,149.1 332.9,149.1 333.5,149.1 334.0,149.1 334.5,149.1 335.0,149.1 335.6,149.1 336.1,149.1 336.6,149.1 337.1,149.1 337.7,149.1 338.2,149.1 338.7,149.1 339.2,149.1 339.8,149.1 340.3,149.1 340.8,149.1 341.3,149.1 341.9,149.1 342.4,149.1 342.9,149.1 343.5,149.1 344.0,149.1 344.5,149.1 345.0,149.1 345.6,149.1 346.1,149.1 346.6,149.1 347.1,149.1 347.7,149.1 348.2,149.1 348.7,149.1 349.2,149.1 349.8,149.1" stroke="#0000ff" stroke-width="2.0" fill="none" stroke-dasharray="0.35 3.35" stroke-linecap="round" clip-path="url(#cTL)"/>
<path d="M97.6,139.2 98.1,139.0 98.6,138.8 99.1,138.6 99.7,138.4 100.2,138.3 100.7,138.1 101.2,137.9 101.8,137.8 102.3,137.6 102.8,137.5 103.3,137.3 103.9,137.2 104.4,137.1 104.9,137.0 105.4,136.9 106.0,136.8 106.5,136.7 107.0,136.7 107.5,136.6 108.1,136.6 108.6,136.5 109.1,136.5 109.6,136.4 110.2,136.3 110.7,136.3 111.2,136.2 111.7,136.1 112.3,136.0 112.8,135.9 113.3,135.8 113.9,135.6 114.4,135.4 114.9,135.2 115.4,134.9 116.0,134.6 116.5,134.3 117.0,133.9 117.5,133.6 118.1,133.2 118.6,132.8 119.1,132.4 119.6,131.9 120.2,131.6 120.7,131.2 121.2,130.8 121.7,130.5 122.3,130.3 122.8,130.1 123.3,129.9 123.8,129.8 124.4,129.8 124.9,129.8 125.4,129.9 125.9,130.0 126.5,130.2 127.0,130.4 127.5,130.6 128.0,130.8 128.6,131.0 129.1,131.2 129.6,131.3 130.1,131.4 130.7,131.5 131.2,131.4 131.7,131.2 132.2,131.0 132.8,130.6 133.3,130.0 133.8,129.4 134.3,128.6 134.9,127.7 135.4,126.6 135.9,125.4 136.4,124.1 137.0,122.6 137.5,121.0 138.0,119.2 138.5,117.4 139.1,115.4 139.6,113.3 140.1,111.1 140.6,108.9 141.2,106.5 141.7,104.1 142.2,101.7 142.7,99.1 143.3,96.6 143.8,94.1 144.3,91.5 144.8,89.0 145.4,86.4 145.9,84.0 146.4,81.5 147.0,79.2 147.5,76.9 148.0,74.7 148.5,72.6 149.1,70.6 149.6,68.8 150.1,67.1 150.6,65.6 151.2,64.2 151.7,63.0 152.2,62.0 152.7,61.2 153.3,60.6 153.8,60.2 154.3,59.9 154.8,59.9 155.4,60.1 155.9,60.5 156.4,61.1 156.9,61.8 157.5,62.8 158.0,64.0 158.5,65.3 159.0,66.8 159.6,68.4 160.1,70.2 160.6,72.2 161.1,74.2 161.7,76.4 162.2,78.6 162.7,80.9 163.2,83.3 163.8,85.8 164.3,88.2 164.8,90.7 165.3,93.2 165.9,95.7 166.4,98.2 166.9,100.7 167.4,103.1 168.0,105.4 168.5,107.7 169.0,109.8 169.5,111.9 170.1,113.9 170.6,115.8 171.1,117.5 171.6,119.1 172.2,120.6 172.7,121.9 173.2,123.1 173.7,124.1 174.3,125.0 174.8,125.7 175.3,126.3 175.8,126.6 176.4,126.8 176.9,126.9 177.4,126.8 178.0,126.5 178.5,126.1 179.0,125.5 179.5,124.8 180.1,123.9 180.6,122.9 181.1,121.8 181.6,120.6 182.2,119.3 182.7,117.9 183.2,116.4 183.7,114.9 184.3,113.4 184.8,111.8 185.3,110.3 185.8,108.7 186.4,107.2 186.9,105.7 187.4,104.3 187.9,103.0 188.5,101.8 189.0,100.7 189.5,99.7 190.0,98.9 190.6,98.2 191.1,97.6 191.6,97.3 192.1,97.0 192.7,97.0 193.2,97.1 193.7,97.4 194.2,97.9 194.8,98.5 195.3,99.3 195.8,100.2 196.3,101.3 196.9,102.4 197.4,103.7 197.9,105.1 198.4,106.5 199.0,108.1 199.5,109.7 200.0,111.3 200.5,112.9 201.1,114.6 201.6,116.3 202.1,117.9 202.6,119.5 203.2,121.1 203.7,122.7 204.2,124.1 204.7,125.6 205.3,127.0 205.8,128.3 206.3,129.5 206.8,130.6 207.4,131.7 207.9,132.7 208.4,133.7 208.9,134.5 209.5,135.3 210.0,136.0 210.5,136.7 211.1,137.3 211.6,137.8 212.1,138.3 212.6,138.7 213.2,139.0 213.7,139.3 214.2,139.6 214.7,139.8 215.3,140.0 215.8,140.1 216.3,140.2 216.8,140.2 217.4,140.2 217.9,140.2 218.4,140.1 218.9,139.9 219.5,139.7 220.0,139.5 220.5,139.2 221.0,138.9 221.6,138.6 222.1,138.2 222.6,137.7 223.1,137.2 223.7,136.7 224.2,136.1 224.7,135.4 225.2,134.8 225.8,134.1 226.3,133.4 226.8,132.6 227.3,131.9 227.9,131.1 228.4,130.3 228.9,129.5 229.4,128.8 230.0,128.0 230.5,127.3 231.0,126.6 231.5,125.9 232.1,125.3 232.6,124.8 233.1,124.3 233.6,123.9 234.2,123.6 234.7,123.3 235.2,123.1 235.7,123.1 236.3,123.1 236.8,123.2 237.3,123.3 237.8,123.6 238.4,124.0 238.9,124.4 239.4,124.9 239.9,125.5 240.5,126.2 241.0,126.9 241.5,127.7 242.0,128.5 242.6,129.3 243.1,130.2 243.6,131.1 244.2,132.0 244.7,132.9 245.2,133.9 245.7,134.8 246.3,135.7 246.8,136.6 247.3,137.4 247.8,138.2 248.4,139.0 248.9,139.8 249.4,140.5 249.9,141.2 250.5,141.8 251.0,142.4 251.5,142.9 252.0,143.4 252.6,143.9 253.1,144.3 253.6,144.7 254.1,145.0 254.7,145.3 255.2,145.6 255.7,145.8 256.2,146.0 256.8,146.2 257.3,146.4 257.8,146.5 258.3,146.6 258.9,146.7 259.4,146.8 259.9,146.8 260.4,146.9 261.0,146.9 261.5,147.0 262.0,147.0 262.5,147.0 263.1,147.0 263.6,147.1 264.1,147.1 264.6,147.1 265.2,147.1 265.7,147.1 266.2,147.1 266.7,147.1 267.3,147.1 267.8,147.1 268.3,147.1 268.8,147.0 269.4,147.0 269.9,147.0 270.4,147.0 270.9,146.9 271.5,146.9 272.0,146.8 272.5,146.7 273.0,146.6 273.6,146.5 274.1,146.3 274.6,146.1 275.1,145.9 275.7,145.7 276.2,145.4 276.7,145.1 277.3,144.8 277.8,144.4 278.3,143.9 278.8,143.4 279.4,142.9 279.9,142.3 280.4,141.7 280.9,141.0 281.5,140.2 282.0,139.4 282.5,138.6 283.0,137.7 283.6,136.8 284.1,135.8 284.6,134.8 285.1,133.8 285.7,132.7 286.2,131.7 286.7,130.6 287.2,129.6 287.8,128.6 288.3,127.6 288.8,126.7 289.3,125.8 289.9,125.0 290.4,124.2 290.9,123.5 291.4,122.9 292.0,122.5 292.5,122.1 293.0,121.8 293.5,121.6 294.1,121.6 294.6,121.6 295.1,121.8 295.6,122.1 296.2,122.5 296.7,123.0 297.2,123.6 297.7,124.3 298.3,125.1 298.8,125.9 299.3,126.8 299.8,127.7 300.4,128.7 300.9,129.8 301.4,130.8 301.9,131.9 302.5,132.9 303.0,134.0 303.5,135.0 304.0,136.0 304.6,137.0 305.1,138.0 305.6,138.9 306.1,139.8 306.7,140.6 307.2,141.3 307.7,142.1 308.2,142.7 308.8,143.3 309.3,143.9 309.8,144.4 310.4,144.9 310.9,145.3 311.4,145.7 311.9,146.0 312.5,146.3 313.0,146.6 313.5,146.8 314.0,147.0 314.6,147.2 315.1,147.4 315.6,147.5 316.1,147.6 316.7,147.7 317.2,147.8 317.7,147.9 318.2,148.0 318.8,148.1 319.3,148.1 319.8,148.2 320.3,148.2 320.9,148.3 321.4,148.3 321.9,148.3 322.4,148.4 323.0,148.4 323.5,148.5 324.0,148.5 324.5,148.5 325.1,148.6 325.6,148.6 326.1,148.6 326.6,148.6 327.2,148.7 327.7,148.7 328.2,148.7 328.7,148.8 329.3,148.8 329.8,148.8 330.3,148.8 330.8,148.9 331.4,148.9 331.9,148.9 332.4,148.9 332.9,148.9 333.5,148.9 334.0,149.0 334.5,149.0 335.0,149.0 335.6,149.0 336.1,149.0 336.6,149.0 337.1,149.0 337.7,149.0 338.2,149.0 338.7,149.1 339.2,149.1 339.8,149.1 340.3,149.1 340.8,149.1 341.3,149.1 341.9,149.1 342.4,149.1 342.9,149.1 343.5,149.1 344.0,149.1 344.5,149.1 345.0,149.1 345.6,149.1 346.1,149.1 346.6,149.1 347.1,149.1 347.7,149.1 348.2,149.1 348.7,149.1 349.2,149.1 349.8,149.1" stroke="#000000" stroke-width="2.0" fill="none" stroke-linecap="square" stroke-linejoin="round" clip-path="url(#cTL)"/>
<path d="M97.6,137.7 98.1,137.5 98.6,137.2 99.1,137.0 99.7,136.8 100.2,136.7 100.7,136.5 101.2,136.3 101.8,136.1 102.3,136.0 102.8,135.8 103.3,135.7 103.9,135.5 104.4,135.4 104.9,135.3 105.4,135.2 106.0,135.1 106.5,135.0 107.0,135.0 107.5,134.9 108.1,134.8 108.6,134.8 109.1,134.7 109.6,134.7 110.2,134.6 110.7,134.5 111.2,134.5 111.7,134.4 112.3,134.2 112.8,134.1 113.3,133.9 113.9,133.7 114.4,133.5 114.9,133.2 115.4,132.9 116.0,132.5 116.5,132.1 117.0,131.7 117.5,131.3 118.1,130.8 118.6,130.3 119.1,129.8 119.6,129.4 120.2,128.9 120.7,128.5 121.2,128.1 121.7,127.8 122.3,127.5 122.8,127.3 123.3,127.1 123.8,127.1 124.4,127.1 124.9,127.2 125.4,127.3 125.9,127.5 126.5,127.8 127.0,128.1 127.5,128.5 128.0,128.9 128.6,129.2 129.1,129.6 129.6,129.9 130.1,130.2 130.7,130.4 131.2,130.5 131.7,130.5 132.2,130.4 132.8,130.1 133.3,129.7 133.8,129.2 134.3,128.6 134.9,127.7 135.4,126.7 135.9,125.6 136.4,124.3 137.0,122.8 137.5,121.2 138.0,119.4 138.5,117.5 139.1,115.5 139.6,113.3 140.1,111.0 140.6,108.6 141.2,106.1 141.7,103.5 142.2,100.8 142.7,98.1 143.3,95.3 143.8,92.4 144.3,89.6 144.8,86.7 145.4,83.8 145.9,80.9 146.4,78.1 147.0,75.3 147.5,72.6 148.0,69.9 148.5,67.3 149.1,64.9 149.6,62.5 150.1,60.3 150.6,58.3 151.2,56.4 151.7,54.6 152.2,53.1 152.7,51.8 153.3,50.6 153.8,49.7 154.3,49.0 154.8,48.5 155.4,48.2 155.9,48.2 156.4,48.4 156.9,48.8 157.5,49.5 158.0,50.3 158.5,51.4 159.0,52.6 159.6,54.1 160.1,55.7 160.6,57.5 161.1,59.4 161.7,61.5 162.2,63.7 162.7,66.1 163.2,68.5 163.8,71.0 164.3,73.5 164.8,76.1 165.3,78.6 165.9,81.2 166.4,83.8 166.9,86.3 167.4,88.8 168.0,91.1 168.5,93.4 169.0,95.6 169.5,97.7 170.1,99.6 170.6,101.3 171.1,102.9 171.6,104.3 172.2,105.5 172.7,106.5 173.2,107.2 173.7,107.8 174.3,108.1 174.8,108.2 175.3,108.0 175.8,107.6 176.4,107.0 176.9,106.1 177.4,105.0 178.0,103.7 178.5,102.1 179.0,100.4 179.5,98.5 180.1,96.3 180.6,94.1 181.1,91.6 181.6,89.1 182.2,86.4 182.7,83.7 183.2,80.9 183.7,78.0 184.3,75.2 184.8,72.4 185.3,69.6 185.8,66.9 186.4,64.3 186.9,61.8 187.4,59.4 187.9,57.3 188.5,55.3 189.0,53.5 189.5,52.0 190.0,50.7 190.6,49.7 191.1,48.9 191.6,48.5 192.1,48.3 192.7,48.4 193.2,48.7 193.7,49.4 194.2,50.3 194.8,51.5 195.3,52.9 195.8,54.5 196.3,56.4 196.9,58.5 197.4,60.7 197.9,63.1 198.4,65.7 199.0,68.3 199.5,71.1 200.0,73.9 200.5,76.8 201.1,79.7 201.6,82.6 202.1,85.5 202.6,88.3 203.2,91.1 203.7,93.9 204.2,96.5 204.7,99.1 205.3,101.5 205.8,103.9 206.3,106.1 206.8,108.2 207.4,110.1 207.9,112.0 208.4,113.7 208.9,115.2 209.5,116.6 210.0,117.9 210.5,119.0 211.1,120.0 211.6,120.8 212.1,121.5 212.6,122.1 213.2,122.6 213.7,122.9 214.2,123.1 214.7,123.2 215.3,123.2 215.8,123.0 216.3,122.7 216.8,122.3 217.4,121.8 217.9,121.2 218.4,120.4 218.9,119.6 219.5,118.6 220.0,117.5 220.5,116.3 221.0,115.0 221.6,113.6 222.1,112.1 222.6,110.5 223.1,108.9 223.7,107.1 224.2,105.3 224.7,103.4 225.2,101.4 225.8,99.4 226.3,97.3 226.8,95.2 227.3,93.1 227.9,91.1 228.4,89.0 228.9,86.9 229.4,84.9 230.0,83.0 230.5,81.1 231.0,79.3 231.5,77.7 232.1,76.1 232.6,74.7 233.1,73.4 233.6,72.3 234.2,71.3 234.7,70.6 235.2,70.0 235.7,69.6 236.3,69.4 236.8,69.4 237.3,69.5 237.8,69.9 238.4,70.5 238.9,71.3 239.4,72.3 239.9,73.4 240.5,74.7 241.0,76.2 241.5,77.8 242.0,79.6 242.6,81.4 243.1,83.4 243.6,85.5 244.2,87.7 244.7,89.9 245.2,92.2 245.7,94.5 246.3,96.8 246.8,99.2 247.3,101.5 247.8,103.8 248.4,106.1 248.9,108.3 249.4,110.5 249.9,112.6 250.5,114.7 251.0,116.6 251.5,118.5 252.0,120.3 252.6,122.0 253.1,123.6 253.6,125.1 254.1,126.6 254.7,127.9 255.2,129.1 255.7,130.2 256.2,131.2 256.8,132.2 257.3,133.0 257.8,133.8 258.3,134.5 258.9,135.1 259.4,135.6 259.9,136.1 260.4,136.5 261.0,136.9 261.5,137.2 262.0,137.4 262.5,137.6 263.1,137.8 263.6,137.9 264.1,138.0 264.6,138.0 265.2,138.1 265.7,138.0 266.2,138.0 266.7,138.0 267.3,137.9 267.8,137.7 268.3,137.6 268.8,137.4 269.4,137.2 269.9,137.0 270.4,136.8 270.9,136.5 271.5,136.1 272.0,135.8 272.5,135.3 273.0,134.8 273.6,134.3 274.1,133.6 274.6,132.9 275.1,132.1 275.7,131.1 276.2,130.1 276.7,128.9 277.3,127.6 277.8,126.1 278.3,124.4 278.8,122.6 279.4,120.5 279.9,118.3 280.4,115.8 280.9,113.2 281.5,110.3 282.0,107.2 282.5,103.9 283.0,100.4 283.6,96.7 284.1,92.9 284.6,88.9 285.1,84.8 285.7,80.6 286.2,76.4 286.7,72.2 287.2,68.1 287.8,64.1 288.3,60.2 288.8,56.4 289.3,53.0 289.9,49.8 290.4,47.0 290.9,44.5 291.4,42.4 292.0,40.8 292.5,39.6 293.0,38.9 293.5,38.6 294.1,38.8 294.6,39.5 295.1,40.7 295.6,42.2 296.2,44.2 296.7,46.5 297.2,49.1 297.7,52.1 298.3,55.2 298.8,58.5 299.3,62.0 299.8,65.6 300.4,69.2 300.9,72.8 301.4,76.4 301.9,79.9 302.5,83.4 303.0,86.7 303.5,89.9 304.0,92.9 304.6,95.8 305.1,98.5 305.6,101.0 306.1,103.4 306.7,105.6 307.2,107.7 307.7,109.5 308.2,111.3 308.8,112.9 309.3,114.4 309.8,115.7 310.4,117.0 310.9,118.2 311.4,119.3 311.9,120.4 312.5,121.4 313.0,122.3 313.5,123.2 314.0,124.1 314.6,124.9 315.1,125.8 315.6,126.6 316.1,127.4 316.7,128.1 317.2,128.9 317.7,129.7 318.2,130.4 318.8,131.2 319.3,131.9 319.8,132.6 320.3,133.3 320.9,134.0 321.4,134.7 321.9,135.4 322.4,136.1 323.0,136.8 323.5,137.4 324.0,138.0 324.5,138.7 325.1,139.3 325.6,139.8 326.1,140.4 326.6,140.9 327.2,141.5 327.7,142.0 328.2,142.4 328.7,142.9 329.3,143.3 329.8,143.8 330.3,144.1 330.8,144.5 331.4,144.9 331.9,145.2 332.4,145.5 332.9,145.8 333.5,146.1 334.0,146.3 334.5,146.6 335.0,146.8 335.6,147.0 336.1,147.2 336.6,147.4 337.1,147.5 337.7,147.7 338.2,147.8 338.7,147.9 339.2,148.1 339.8,148.2 340.3,148.3 340.8,148.3 341.3,148.4 341.9,148.5 342.4,148.6 342.9,148.6 343.5,148.7 344.0,148.7 344.5,148.8 345.0,148.8 345.6,148.8 346.1,148.9 346.6,148.9 347.1,148.9 347.7,148.9 348.2,149.0 348.7,149.0 349.2,149.0 349.8,149.0" stroke="#ff0000" stroke-width="2.0" fill="none" stroke-dasharray="7.8 2.9" stroke-linecap="butt" clip-path="url(#cTL)"/>
<path d="M97.6,138.0 98.1,137.9 98.6,137.7 99.1,137.6 99.7,137.5 100.2,137.3 100.7,137.2 101.2,137.1 101.8,137.0 102.3,136.9 102.8,136.8 103.3,136.7 103.9,136.7 104.4,136.6 104.9,136.5 105.4,136.5 106.0,136.4 106.5,136.4 107.0,136.4 107.5,136.3 108.1,136.3 108.6,136.3 109.1,136.2 109.6,136.2 110.2,136.2 110.7,136.1 111.2,136.0 111.7,135.9 112.3,135.8 112.8,135.6 113.3,135.4 113.9,135.2 114.4,134.9 114.9,134.6 115.4,134.2 116.0,133.8 116.5,133.4 117.0,132.9 117.5,132.4 118.1,131.9 118.6,131.4 119.1,130.9 119.6,130.4 120.2,129.9 120.7,129.4 121.2,129.0 121.7,128.6 122.3,128.3 122.8,128.1 123.3,128.0 123.8,127.9 124.4,127.9 124.9,128.0 125.4,128.2 125.9,128.5 126.5,128.9 127.0,129.3 127.5,129.7 128.0,130.2 128.6,130.7 129.1,131.1 129.6,131.6 130.1,132.0 130.7,132.4 131.2,132.6 131.7,132.8 132.2,132.9 132.8,132.9 133.3,132.7 133.8,132.4 134.3,131.9 134.9,131.3 135.4,130.6 135.9,129.7 136.4,128.6 137.0,127.3 137.5,125.9 138.0,124.4 138.5,122.7 139.1,120.8 139.6,118.8 140.1,116.7 140.6,114.4 141.2,112.1 141.7,109.6 142.2,107.0 142.7,104.3 143.3,101.5 143.8,98.7 144.3,95.7 144.8,92.8 145.4,89.8 145.9,86.8 146.4,83.7 147.0,80.7 147.5,77.7 148.0,74.7 148.5,71.8 149.1,69.0 149.6,66.2 150.1,63.6 150.6,61.0 151.2,58.6 151.7,56.4 152.2,54.3 152.7,52.3 153.3,50.6 153.8,49.1 154.3,47.7 154.8,46.6 155.4,45.7 155.9,45.1 156.4,44.7 156.9,44.5 157.5,44.5 158.0,44.8 158.5,45.3 159.0,46.1 159.6,47.1 160.1,48.2 160.6,49.6 161.1,51.2 161.7,53.0 162.2,54.9 162.7,57.0 163.2,59.2 163.8,61.5 164.3,63.9 164.8,66.4 165.3,68.9 165.9,71.5 166.4,74.2 166.9,76.8 167.4,79.3 168.0,81.9 168.5,84.4 169.0,86.8 169.5,89.1 170.1,91.2 170.6,93.3 171.1,95.1 171.6,96.8 172.2,98.4 172.7,99.7 173.2,100.8 173.7,101.7 174.3,102.4 174.8,102.8 175.3,103.0 175.8,103.0 176.4,102.7 176.9,102.2 177.4,101.4 178.0,100.4 178.5,99.2 179.0,97.7 179.5,96.1 180.1,94.2 180.6,92.2 181.1,90.0 181.6,87.7 182.2,85.3 182.7,82.7 183.2,80.1 183.7,77.5 184.3,74.8 184.8,72.1 185.3,69.5 185.8,66.9 186.4,64.4 186.9,62.0 187.4,59.7 187.9,57.6 188.5,55.7 189.0,54.0 189.5,52.5 190.0,51.2 190.6,50.2 191.1,49.4 191.6,48.9 192.1,48.6 192.7,48.6 193.2,48.9 193.7,49.5 194.2,50.3 194.8,51.3 195.3,52.6 195.8,54.1 196.3,55.8 196.9,57.7 197.4,59.8 197.9,62.0 198.4,64.4 199.0,66.8 199.5,69.4 200.0,72.0 200.5,74.6 201.1,77.3 201.6,80.0 202.1,82.6 202.6,85.2 203.2,87.8 203.7,90.3 204.2,92.7 204.7,95.1 205.3,97.3 205.8,99.4 206.3,101.5 206.8,103.4 207.4,105.2 207.9,106.8 208.4,108.4 208.9,109.8 209.5,111.1 210.0,112.2 210.5,113.3 211.1,114.2 211.6,115.0 212.1,115.7 212.6,116.3 213.2,116.7 213.7,117.1 214.2,117.4 214.7,117.5 215.3,117.6 215.8,117.5 216.3,117.4 216.8,117.1 217.4,116.7 217.9,116.3 218.4,115.7 218.9,115.1 219.5,114.3 220.0,113.4 220.5,112.4 221.0,111.3 221.6,110.2 222.1,108.9 222.6,107.5 223.1,106.0 223.7,104.4 224.2,102.8 224.7,101.1 225.2,99.3 225.8,97.4 226.3,95.5 226.8,93.5 227.3,91.6 227.9,89.6 228.4,87.5 228.9,85.6 229.4,83.6 230.0,81.7 230.5,79.8 231.0,78.0 231.5,76.3 232.1,74.7 232.6,73.2 233.1,71.8 233.6,70.6 234.2,69.5 234.7,68.6 235.2,67.9 235.7,67.3 236.3,67.0 236.8,66.8 237.3,66.9 237.8,67.1 238.4,67.5 238.9,68.2 239.4,69.0 239.9,70.0 240.5,71.2 241.0,72.6 241.5,74.1 242.0,75.7 242.6,77.6 243.1,79.5 243.6,81.5 244.2,83.6 244.7,85.8 245.2,88.1 245.7,90.4 246.3,92.8 246.8,95.1 247.3,97.5 247.8,99.9 248.4,102.2 248.9,104.5 249.4,106.7 249.9,108.9 250.5,111.1 251.0,113.1 251.5,115.1 252.0,117.0 252.6,118.7 253.1,120.4 253.6,122.0 254.1,123.5 254.7,124.9 255.2,126.2 255.7,127.4 256.2,128.5 256.8,129.5 257.3,130.5 257.8,131.3 258.3,132.0 258.9,132.7 259.4,133.3 259.9,133.8 260.4,134.3 261.0,134.7 261.5,135.0 262.0,135.3 262.5,135.5 263.1,135.7 263.6,135.8 264.1,135.9 264.6,136.0 265.2,136.1 265.7,136.1 266.2,136.0 266.7,136.0 267.3,135.9 267.8,135.8 268.3,135.7 268.8,135.6 269.4,135.4 269.9,135.2 270.4,134.9 270.9,134.7 271.5,134.3 272.0,134.0 272.5,133.6 273.0,133.1 273.6,132.6 274.1,132.0 274.6,131.3 275.1,130.5 275.7,129.6 276.2,128.6 276.7,127.4 277.3,126.2 277.8,124.7 278.3,123.1 278.8,121.3 279.4,119.4 279.9,117.2 280.4,114.8 280.9,112.3 281.5,109.5 282.0,106.5 282.5,103.2 283.0,99.8 283.6,96.3 284.1,92.5 284.6,88.6 285.1,84.6 285.7,80.5 286.2,76.4 286.7,72.3 287.2,68.2 287.8,64.2 288.3,60.4 288.8,56.7 289.3,53.2 289.9,50.1 290.4,47.2 290.9,44.8 291.4,42.7 292.0,41.0 292.5,39.8 293.0,39.0 293.5,38.7 294.1,38.9 294.6,39.5 295.1,40.6 295.6,42.1 296.2,44.0 296.7,46.2 297.2,48.8 297.7,51.7 298.3,54.8 298.8,58.1 299.3,61.6 299.8,65.1 300.4,68.8 300.9,72.4 301.4,76.0 301.9,79.6 302.5,83.1 303.0,86.6 303.5,89.8 304.0,93.0 304.6,96.0 305.1,98.8 305.6,101.5 306.1,104.0 306.7,106.3 307.2,108.5 307.7,110.6 308.2,112.5 308.8,114.2 309.3,115.9 309.8,117.4 310.4,118.8 310.9,120.2 311.4,121.4 311.9,122.6 312.5,123.7 313.0,124.8 313.5,125.8 314.0,126.7 314.6,127.7 315.1,128.6 315.6,129.4 316.1,130.3 316.7,131.1 317.2,131.9 317.7,132.6 318.2,133.4 318.8,134.1 319.3,134.8 319.8,135.5 320.3,136.2 320.9,136.8 321.4,137.4 321.9,138.1 322.4,138.6 323.0,139.2 323.5,139.8 324.0,140.3 324.5,140.8 325.1,141.3 325.6,141.8 326.1,142.2 326.6,142.7 327.2,143.1 327.7,143.5 328.2,143.9 328.7,144.2 329.3,144.6 329.8,144.9 330.3,145.2 330.8,145.5 331.4,145.8 331.9,146.0 332.4,146.2 332.9,146.5 333.5,146.7 334.0,146.9 334.5,147.1 335.0,147.2 335.6,147.4 336.1,147.5 336.6,147.7 337.1,147.8 337.7,147.9 338.2,148.0 338.7,148.1 339.2,148.2 339.8,148.3 340.3,148.4 340.8,148.4 341.3,148.5 341.9,148.6 342.4,148.6 342.9,148.7 343.5,148.7 344.0,148.8 344.5,148.8 345.0,148.8 345.6,148.9 346.1,148.9 346.6,148.9 347.1,148.9 347.7,148.9 348.2,149.0 348.7,149.0 349.2,149.0 349.8,149.0" stroke="#008000" stroke-width="2.0" fill="none" stroke-dasharray="4.6 2.2 1.2 2.2" stroke-linecap="butt" clip-path="url(#cTL)"/>
<path d="M97.6,145.3 98.1,145.1 98.6,144.9 99.1,144.7 99.7,144.4 100.2,144.2 100.7,144.0 101.2,143.8 101.8,143.6 102.3,143.4 102.8,143.2 103.3,143.0 103.9,142.8 104.4,142.6 104.9,142.4 105.4,142.3 106.0,142.1 106.5,142.0 107.0,141.9 107.5,141.7 108.1,141.6 108.6,141.6 109.1,141.5 109.6,141.4 110.2,141.3 110.7,141.3 111.2,141.2 111.7,141.2 112.3,141.2 112.8,141.1 113.3,141.1 113.9,141.0 114.4,140.9 114.9,140.9 115.4,140.8 116.0,140.7 116.5,140.6 117.0,140.4 117.5,140.3 118.1,140.1 118.6,140.0 119.1,139.8 119.6,139.6 120.2,139.4 120.7,139.2 121.2,139.0 121.7,138.8 122.3,138.7 122.8,138.5 123.3,138.4 123.8,138.3 124.4,138.2 124.9,138.1 125.4,138.0 125.9,138.0 126.5,137.9 127.0,137.9 127.5,137.9 128.0,137.9 128.6,137.9 129.1,137.8 129.6,137.7 130.1,137.6 130.7,137.4 131.2,137.2 131.7,136.8 132.2,136.4 132.8,135.9 133.3,135.3 133.8,134.6 134.3,133.8 134.9,132.9 135.4,131.8 135.9,130.6 136.4,129.3 137.0,127.8 137.5,126.2 138.0,124.5 138.5,122.7 139.1,120.7 139.6,118.7 140.1,116.5 140.6,114.2 141.2,111.8 141.7,109.4 142.2,106.9 142.7,104.3 143.3,101.7 143.8,99.0 144.3,96.3 144.8,93.7 145.4,91.0 145.9,88.4 146.4,85.8 147.0,83.3 147.5,80.9 148.0,78.5 148.5,76.3 149.1,74.2 149.6,72.3 150.1,70.5 150.6,68.9 151.2,67.4 151.7,66.2 152.2,65.1 152.7,64.3 153.3,63.7 153.8,63.3 154.3,63.2 154.8,63.3 155.4,63.6 155.9,64.1 156.4,64.8 156.9,65.8 157.5,66.9 158.0,68.2 158.5,69.8 159.0,71.4 159.6,73.3 160.1,75.2 160.6,77.3 161.1,79.5 161.7,81.7 162.2,84.1 162.7,86.4 163.2,88.8 163.8,91.2 164.3,93.6 164.8,95.9 165.3,98.2 165.9,100.4 166.4,102.5 166.9,104.5 167.4,106.4 168.0,108.2 168.5,109.8 169.0,111.3 169.5,112.6 170.1,113.7 170.6,114.6 171.1,115.3 171.6,115.8 172.2,116.1 172.7,116.2 173.2,116.1 173.7,115.7 174.3,115.2 174.8,114.4 175.3,113.4 175.8,112.3 176.4,110.9 176.9,109.3 177.4,107.6 178.0,105.7 178.5,103.6 179.0,101.4 179.5,99.0 180.1,96.6 180.6,94.0 181.1,91.4 181.6,88.6 182.2,85.9 182.7,83.1 183.2,80.3 183.7,77.5 184.3,74.8 184.8,72.1 185.3,69.5 185.8,67.0 186.4,64.6 186.9,62.4 187.4,60.3 187.9,58.3 188.5,56.6 189.0,55.0 189.5,53.7 190.0,52.6 190.6,51.7 191.1,51.0 191.6,50.6 192.1,50.5 192.7,50.5 193.2,50.9 193.7,51.4 194.2,52.2 194.8,53.2 195.3,54.4 195.8,55.8 196.3,57.4 196.9,59.2 197.4,61.1 197.9,63.2 198.4,65.4 199.0,67.7 199.5,70.1 200.0,72.6 200.5,75.1 201.1,77.7 201.6,80.3 202.1,82.9 202.6,85.5 203.2,88.0 203.7,90.5 204.2,93.0 204.7,95.4 205.3,97.7 205.8,99.9 206.3,102.1 206.8,104.1 207.4,106.0 207.9,107.9 208.4,109.6 208.9,111.2 209.5,112.6 210.0,113.9 210.5,115.1 211.1,116.2 211.6,117.1 212.1,117.9 212.6,118.6 213.2,119.1 213.7,119.5 214.2,119.7 214.7,119.8 215.3,119.8 215.8,119.6 216.3,119.2 216.8,118.7 217.4,118.0 217.9,117.2 218.4,116.3 218.9,115.1 219.5,113.9 220.0,112.4 220.5,110.8 221.0,109.1 221.6,107.2 222.1,105.2 222.6,103.0 223.1,100.7 223.7,98.3 224.2,95.8 224.7,93.2 225.2,90.5 225.8,87.8 226.3,84.9 226.8,82.1 227.3,79.2 227.9,76.4 228.4,73.5 228.9,70.8 229.4,68.0 230.0,65.4 230.5,62.9 231.0,60.5 231.5,58.3 232.1,56.3 232.6,54.4 233.1,52.8 233.6,51.4 234.2,50.2 234.7,49.3 235.2,48.7 235.7,48.4 236.3,48.3 236.8,48.5 237.3,48.9 237.8,49.7 238.4,50.7 238.9,52.0 239.4,53.5 239.9,55.3 240.5,57.2 241.0,59.4 241.5,61.8 242.0,64.4 242.6,67.1 243.1,69.9 243.6,72.8 244.2,75.8 244.7,78.9 245.2,82.0 245.7,85.1 246.3,88.2 246.8,91.3 247.3,94.4 247.8,97.4 248.4,100.3 248.9,103.2 249.4,105.9 249.9,108.6 250.5,111.1 251.0,113.5 251.5,115.8 252.0,118.0 252.6,120.0 253.1,121.9 253.6,123.6 254.1,125.2 254.7,126.7 255.2,128.1 255.7,129.3 256.2,130.4 256.8,131.4 257.3,132.3 257.8,133.1 258.3,133.8 258.9,134.5 259.4,135.0 259.9,135.5 260.4,135.9 261.0,136.2 261.5,136.5 262.0,136.8 262.5,136.9 263.1,137.1 263.6,137.2 264.1,137.3 264.6,137.4 265.2,137.4 265.7,137.4 266.2,137.4 266.7,137.4 267.3,137.4 267.8,137.3 268.3,137.2 268.8,137.1 269.4,137.0 269.9,136.9 270.4,136.7 270.9,136.5 271.5,136.3 272.0,136.0 272.5,135.7 273.0,135.3 273.6,134.8 274.1,134.3 274.6,133.7 275.1,132.9 275.7,132.1 276.2,131.2 276.7,130.1 277.3,128.8 277.8,127.4 278.3,125.8 278.8,124.0 279.4,122.0 279.9,119.8 280.4,117.4 280.9,114.7 281.5,111.8 282.0,108.7 282.5,105.3 283.0,101.8 283.6,98.0 284.1,94.1 284.6,90.1 285.1,85.9 285.7,81.6 286.2,77.3 286.7,72.9 287.2,68.7 287.8,64.5 288.3,60.4 288.8,56.6 289.3,53.0 289.9,49.7 290.4,46.7 290.9,44.1 291.4,42.0 292.0,40.3 292.5,39.0 293.0,38.3 293.5,38.0 294.1,38.3 294.6,39.1 295.1,40.3 295.6,42.0 296.2,44.2 296.7,46.7 297.2,49.6 297.7,52.8 298.3,56.3 298.8,60.0 299.3,63.9 299.8,67.8 300.4,71.9 300.9,76.0 301.4,80.1 301.9,84.1 302.5,88.1 303.0,91.9 303.5,95.6 304.0,99.1 304.6,102.5 305.1,105.6 305.6,108.6 306.1,111.3 306.7,113.9 307.2,116.3 307.7,118.5 308.2,120.5 308.8,122.4 309.3,124.0 309.8,125.6 310.4,127.0 310.9,128.3 311.4,129.5 311.9,130.6 312.5,131.5 313.0,132.5 313.5,133.3 314.0,134.1 314.6,134.9 315.1,135.5 315.6,136.2 316.1,136.8 316.7,137.4 317.2,138.0 317.7,138.5 318.2,139.0 318.8,139.5 319.3,140.0 319.8,140.4 320.3,140.9 320.9,141.3 321.4,141.7 321.9,142.1 322.4,142.5 323.0,142.9 323.5,143.2 324.0,143.6 324.5,143.9 325.1,144.2 325.6,144.5 326.1,144.8 326.6,145.1 327.2,145.3 327.7,145.6 328.2,145.8 328.7,146.0 329.3,146.3 329.8,146.5 330.3,146.7 330.8,146.8 331.4,147.0 331.9,147.2 332.4,147.3 332.9,147.4 333.5,147.6 334.0,147.7 334.5,147.8 335.0,147.9 335.6,148.0 336.1,148.1 336.6,148.2 337.1,148.3 337.7,148.3 338.2,148.4 338.7,148.5 339.2,148.5 339.8,148.6 340.3,148.6 340.8,148.7 341.3,148.7 341.9,148.8 342.4,148.8 342.9,148.8 343.5,148.9 344.0,148.9 344.5,148.9 345.0,148.9 345.6,148.9 346.1,149.0 346.6,149.0 347.1,149.0 347.7,149.0 348.2,149.0 348.7,149.0 349.2,149.0 349.8,149.0" stroke="#0000ff" stroke-width="2.0" fill="none" stroke-dasharray="0.35 3.35" stroke-linecap="round" clip-path="url(#cTL)"/>
<path d="M13.5,276.2 14.0,276.2 14.6,276.2 15.1,276.2 15.6,276.2 16.1,276.3 16.7,276.3 17.2,276.3 17.7,276.3 18.2,276.3 18.8,276.3 19.3,276.2 19.8,276.1 20.3,275.9 20.9,275.7 21.4,275.4 21.9,275.1 22.4,274.7 23.0,274.3 23.5,273.7 24.0,273.1 24.5,272.4 25.1,271.6 25.6,270.8 26.1,269.9 26.6,268.9 27.2,267.8 27.7,266.7 28.2,265.6 28.7,264.4 29.3,263.3 29.8,262.1 30.3,260.9 30.8,259.8 31.4,258.7 31.9,257.6 32.4,256.7 32.9,255.8 33.5,254.9 34.0,254.2 34.5,253.6 35.0,253.0 35.6,252.5 36.1,252.1 36.6,251.7 37.1,251.3 37.7,250.9 38.2,250.5 38.7,250.1 39.2,249.5 39.8,248.8 40.3,247.9 40.8,246.8 41.3,245.5 41.9,243.8 42.4,241.9 42.9,239.6 43.4,236.9 44.0,233.9 44.5,230.5 45.0,226.7 45.5,222.6 46.1,218.2 46.6,213.5 47.1,208.6 47.7,203.6 48.2,198.5 48.7,193.5 49.2,188.5 49.8,183.7 50.3,179.3 50.8,175.2 51.3,171.6 51.9,168.5 52.4,166.0 52.9,164.3 53.4,163.2 54.0,162.9 54.5,163.4 55.0,164.7 55.5,166.6 56.1,169.3 56.6,172.7 57.1,176.7 57.6,181.2 58.2,186.2 58.7,191.5 59.2,197.1 59.7,203.0 60.3,208.9 60.8,214.8 61.3,220.7 61.8,226.5 62.4,232.1 62.9,237.4 63.4,242.5 63.9,247.2 64.5,251.6 65.0,255.7 65.5,259.4 66.0,262.8 66.6,265.9 67.1,268.6 67.6,270.9 68.1,273.0 68.7,274.9 69.2,276.5 69.7,277.8 70.2,279.0 70.8,280.0 71.3,280.8 71.8,281.5 72.3,282.1 72.9,282.6 73.4,283.1 73.9,283.4 74.4,283.7 75.0,283.9 75.5,284.2 76.0,284.3 76.5,284.5 77.1,284.6 77.6,284.7 78.1,284.8 78.6,284.9 79.2,284.9 79.7,285.0 80.2,285.1 80.8,285.1 81.3,285.1 81.8,285.2 82.3,285.2 82.9,285.2 83.4,285.3 83.9,285.3 84.4,285.3 85.0,285.3 85.5,285.4 86.0,285.4 86.5,285.4 87.1,285.4 87.6,285.4 88.1,285.4 88.6,285.4 89.2,285.4 89.7,285.4 90.2,285.4 90.7,285.4 91.3,285.4 91.8,285.5 92.3,285.5 92.8,285.5 93.4,285.5 93.9,285.5 94.4,285.5 94.9,285.5 95.5,285.5 96.0,285.5 96.5,285.5 97.0,285.5 97.6,285.5 98.1,285.5 98.6,285.5 99.1,285.5 99.7,285.5 100.2,285.5 100.7,285.5 101.2,285.5 101.8,285.5 102.3,285.5 102.8,285.5 103.3,285.5 103.9,285.5 104.4,285.5 104.9,285.5 105.4,285.5 106.0,285.5 106.5,285.5 107.0,285.5 107.5,285.5 108.1,285.5 108.6,285.5 109.1,285.5 109.6,285.5 110.2,285.5 110.7,285.5 111.2,285.5 111.7,285.5 112.3,285.5 112.8,285.4 113.3,285.4 113.9,285.4 114.4,285.4 114.9,285.3 115.4,285.3 116.0,285.3 116.5,285.2 117.0,285.2 117.5,285.1 118.1,285.1 118.6,285.1 119.1,285.0 119.6,285.0 120.2,285.0 120.7,284.9 121.2,284.9 121.7,284.9 122.3,284.8 122.8,284.8 123.3,284.8 123.8,284.8 124.4,284.8 124.9,284.8 125.4,284.8 125.9,284.8 126.5,284.8 127.0,284.8 127.5,284.8 128.0,284.8 128.6,284.9 129.1,284.9 129.6,284.9 130.1,284.9 130.7,284.9 131.2,284.9 131.7,284.9 132.2,284.9 132.8,284.9 133.3,284.8 133.8,284.8 134.3,284.8 134.9,284.7 135.4,284.6 135.9,284.6 136.4,284.5 137.0,284.4 137.5,284.3 138.0,284.1 138.5,284.0 139.1,283.9 139.6,283.7 140.1,283.6 140.6,283.4 141.2,283.2 141.7,283.0 142.2,282.8 142.7,282.6 143.3,282.4 143.8,282.2 144.3,282.0 144.8,281.8 145.4,281.5 145.9,281.3 146.4,281.1 147.0,280.9 147.5,280.7 148.0,280.5 148.5,280.3 149.1,280.1 149.6,279.9 150.1,279.8 150.6,279.6 151.2,279.5 151.7,279.4 152.2,279.2 152.7,279.2 153.3,279.1 153.8,279.0 154.3,279.0 154.8,279.0 155.4,279.0 155.9,279.0 156.4,279.0 156.9,279.1 157.5,279.2 158.0,279.3 158.5,279.4 159.0,279.5 159.6,279.6 160.1,279.8 160.6,280.0 161.1,280.1 161.7,280.3 162.2,280.5 162.7,280.7 163.2,280.9 163.8,281.2 164.3,281.4 164.8,281.6 165.3,281.8 165.9,282.1 166.4,282.3 166.9,282.5 167.4,282.7 168.0,282.9 168.5,283.1 169.0,283.3 169.5,283.5 170.1,283.7 170.6,283.8 171.1,284.0 171.6,284.1 172.2,284.2 172.7,284.3 173.2,284.4 173.7,284.5 174.3,284.6 174.8,284.6 175.3,284.7 175.8,284.7 176.4,284.7 176.9,284.7 177.4,284.7 178.0,284.7 178.5,284.6 179.0,284.6 179.5,284.5 180.1,284.4 180.6,284.3 181.1,284.2 181.6,284.1 182.2,284.0 182.7,283.9 183.2,283.7 183.7,283.6 184.3,283.5 184.8,283.3 185.3,283.2 185.8,283.1 186.4,283.0 186.9,282.8 187.4,282.7 187.9,282.6 188.5,282.5 189.0,282.4 189.5,282.4 190.0,282.3 190.6,282.3 191.1,282.2 191.6,282.2 192.1,282.2 192.7,282.2 193.2,282.3 193.7,282.3 194.2,282.4 194.8,282.4 195.3,282.5 195.8,282.6 196.3,282.7 196.9,282.8 197.4,283.0 197.9,283.1 198.4,283.2 199.0,283.4 199.5,283.5 200.0,283.7 200.5,283.8 201.1,284.0 201.6,284.1 202.1,284.3 202.6,284.4 203.2,284.5 203.7,284.7 204.2,284.8 204.7,284.9 205.3,285.0 205.8,285.1 206.3,285.2 206.8,285.3 207.4,285.4 207.9,285.5 208.4,285.5 208.9,285.5 209.5,285.5 210.0,285.5 210.5,285.5 211.1,285.5 211.6,285.5 212.1,285.5 212.6,285.5 213.2,285.5 213.7,285.5 214.2,285.5 214.7,285.5 215.3,285.5 215.8,285.5 216.3,285.5 216.8,285.5 217.4,285.5 217.9,285.5 218.4,285.5 218.9,285.5 219.5,285.4 220.0,285.4 220.5,285.3 221.0,285.3 221.6,285.2 222.1,285.2 222.6,285.1 223.1,285.1 223.7,285.0 224.2,284.9 224.7,284.9 225.2,284.8 225.8,284.8 226.3,284.7 226.8,284.7 227.3,284.6 227.9,284.6 228.4,284.5 228.9,284.5 229.4,284.5 230.0,284.4 230.5,284.4 231.0,284.4 231.5,284.4 232.1,284.3 232.6,284.3 233.1,284.3 233.6,284.3 234.2,284.3 234.7,284.3 235.2,284.3 235.7,284.3 236.3,284.3 236.8,284.4 237.3,284.4 237.8,284.4 238.4,284.4 238.9,284.5 239.4,284.5 239.9,284.6 240.5,284.6 241.0,284.6 241.5,284.7 242.0,284.7 242.6,284.8 243.1,284.9 243.6,284.9 244.2,285.0 244.7,285.0 245.2,285.1 245.7,285.1 246.3,285.2 246.8,285.3 247.3,285.3 247.8,285.4 248.4,285.4 248.9,285.5 249.4,285.5 249.9,285.5 250.5,285.5 251.0,285.5 251.5,285.5 252.0,285.5 252.6,285.5 253.1,285.5 253.6,285.5 254.1,285.5 254.7,285.5 255.2,285.5 255.7,285.5 256.2,285.5 256.8,285.5 257.3,285.5 257.8,285.5 258.3,285.5 258.9,285.5 259.4,285.5 259.9,285.5 260.4,285.5 261.0,285.5 261.5,285.5 262.0,285.5 262.5,285.5 263.1,285.5 263.6,285.5 264.1,285.5 264.6,285.5 265.2,285.5 265.7,285.5 266.2,285.5 266.7,285.5 267.3,285.5 267.8,285.5 268.3,285.5 268.8,285.5 269.4,285.5 269.9,285.5 270.4,285.5 270.9,285.5 271.5,285.5 272.0,285.5 272.5,285.5 273.0,285.5 273.6,285.5 274.1,285.5 274.6,285.5 275.1,285.5 275.7,285.5 276.2,285.5 276.7,285.5 277.3,285.5 277.8,285.5 278.3,285.5 278.8,285.5 279.4,285.5 279.9,285.5 280.4,285.5 280.9,285.5 281.5,285.5 282.0,285.5 282.5,285.5 283.0,285.5 283.6,285.5 284.1,285.5 284.6,285.5 285.1,285.4 285.7,285.3 286.2,285.2 286.7,285.1 287.2,285.0 287.8,284.9 288.3,284.8 288.8,284.7 289.3,284.6 289.9,284.6 290.4,284.5 290.9,284.4 291.4,284.3 292.0,284.3 292.5,284.2 293.0,284.2 293.5,284.2 294.1,284.2 294.6,284.2 295.1,284.2 295.6,284.2 296.2,284.2 296.7,284.3 297.2,284.3 297.7,284.4 298.3,284.5 298.8,284.5 299.3,284.6 299.8,284.7 300.4,284.8 300.9,284.9 301.4,285.0 301.9,285.1 302.5,285.2 303.0,285.3 303.5,285.4 304.0,285.5 304.6,285.5 305.1,285.5 305.6,285.5 306.1,285.5 306.7,285.5 307.2,285.5 307.7,285.5 308.2,285.5 308.8,285.5 309.3,285.5 309.8,285.5 310.4,285.5 310.9,285.5 311.4,285.5 311.9,285.5 312.5,285.5 313.0,285.5 313.5,285.5 314.0,285.5 314.6,285.5 315.1,285.5 315.6,285.5 316.1,285.5 316.7,285.5 317.2,285.5 317.7,285.5 318.2,285.5 318.8,285.5 319.3,285.5 319.8,285.5 320.3,285.5 320.9,285.5 321.4,285.5 321.9,285.5 322.4,285.5 323.0,285.5 323.5,285.5 324.0,285.5 324.5,285.5 325.1,285.5 325.6,285.5 326.1,285.5 326.6,285.5 327.2,285.5 327.7,285.5 328.2,285.5 328.7,285.5 329.3,285.5 329.8,285.5 330.3,285.5 330.8,285.5 331.4,285.5 331.9,285.5 332.4,285.5 332.9,285.5 333.5,285.5 334.0,285.5 334.5,285.5 335.0,285.5 335.6,285.5 336.1,285.5 336.6,285.5 337.1,285.5 337.7,285.5 338.2,285.5 338.7,285.5 339.2,285.5 339.8,285.5 340.3,285.5 340.8,285.5 341.3,285.5 341.9,285.5 342.4,285.5 342.9,285.5 343.5,285.5 344.0,285.5 344.5,285.5 345.0,285.5 345.6,285.5 346.1,285.5 346.6,285.5 347.1,285.5 347.7,285.5 348.2,285.5 348.7,285.5 349.2,285.5 349.8,285.5" stroke="#000000" stroke-width="2.0" fill="none" stroke-linecap="square" stroke-linejoin="round" clip-path="url(#cBL)"/>
<path d="M13.5,276.2 14.0,276.2 14.6,276.2 15.1,276.2 15.6,276.2 16.1,276.3 16.7,276.3 17.2,276.3 17.7,276.3 18.2,276.3 18.8,276.3 19.3,276.2 19.8,276.1 20.3,275.9 20.9,275.7 21.4,275.4 21.9,275.1 22.4,274.7 23.0,274.3 23.5,273.7 24.0,273.1 24.5,272.4 25.1,271.6 25.6,270.8 26.1,269.9 26.6,268.9 27.2,267.8 27.7,266.7 28.2,265.6 28.7,264.4 29.3,263.3 29.8,262.1 30.3,260.9 30.8,259.8 31.4,258.7 31.9,257.6 32.4,256.7 32.9,255.8 33.5,254.9 34.0,254.2 34.5,253.6 35.0,253.0 35.6,252.5 36.1,252.1 36.6,251.7 37.1,251.3 37.7,250.9 38.2,250.5 38.7,250.1 39.2,249.5 39.8,248.8 40.3,247.9 40.8,246.8 41.3,245.5 41.9,243.8 42.4,241.9 42.9,239.6 43.4,236.9 44.0,233.9 44.5,230.5 45.0,226.7 45.5,222.6 46.1,218.2 46.6,213.5 47.1,208.6 47.7,203.6 48.2,198.5 48.7,193.5 49.2,188.5 49.8,183.7 50.3,179.3 50.8,175.2 51.3,171.6 51.9,168.5 52.4,166.0 52.9,164.3 53.4,163.2 54.0,162.9 54.5,163.4 55.0,164.7 55.5,166.6 56.1,169.3 56.6,172.7 57.1,176.7 57.6,181.2 58.2,186.2 58.7,191.5 59.2,197.1 59.7,203.0 60.3,208.9 60.8,214.8 61.3,220.7 61.8,226.5 62.4,232.1 62.9,237.4 63.4,242.5 63.9,247.2 64.5,251.6 65.0,255.7 65.5,259.4 66.0,262.8 66.6,265.9 67.1,268.6 67.6,270.9 68.1,273.0 68.7,274.9 69.2,276.5 69.7,277.8 70.2,279.0 70.8,280.0 71.3,280.8 71.8,281.5 72.3,282.1 72.9,282.6 73.4,283.1 73.9,283.4 74.4,283.7 75.0,283.9 75.5,284.2 76.0,284.3 76.5,284.5 77.1,284.6 77.6,284.7 78.1,284.8 78.6,284.9 79.2,284.9 79.7,285.0 80.2,285.1 80.8,285.1 81.3,285.1 81.8,285.2 82.3,285.2 82.9,285.2 83.4,285.3 83.9,285.3 84.4,285.3 85.0,285.3 85.5,285.4 86.0,285.4 86.5,285.4 87.1,285.4 87.6,285.4 88.1,285.4 88.6,285.4 89.2,285.4 89.7,285.4 90.2,285.4 90.7,285.4 91.3,285.4 91.8,285.4 92.3,285.5 92.8,285.5 93.4,285.5 93.9,285.5 94.4,285.5 94.9,285.5 95.5,285.5 96.0,285.5 96.5,285.5 97.0,285.5 97.6,285.5 98.1,285.5 98.6,285.5 99.1,285.5 99.7,285.5 100.2,285.5 100.7,285.5 101.2,285.5 101.8,285.5 102.3,285.5 102.8,285.5 103.3,285.5 103.9,285.5 104.4,285.5 104.9,285.5 105.4,285.5 106.0,285.5 106.5,285.5 107.0,285.5 107.5,285.5 108.1,285.5 108.6,285.5 109.1,285.5 109.6,285.5 110.2,285.5 110.7,285.5 111.2,285.5 111.7,285.5 112.3,285.5 112.8,285.5 113.3,285.4 113.9,285.4 114.4,285.4 114.9,285.3 115.4,285.3 116.0,285.3 116.5,285.2 117.0,285.2 117.5,285.2 118.1,285.1 118.6,285.1 119.1,285.0 119.6,285.0 120.2,285.0 120.7,284.9 121.2,284.9 121.7,284.9 122.3,284.8 122.8,284.8 123.3,284.8 123.8,284.8 124.4,284.8 124.9,284.8 125.4,284.8 125.9,284.8 126.5,284.8 127.0,284.8 127.5,284.8 128.0,284.8 128.6,284.9 129.1,284.9 129.6,284.9 130.1,284.9 130.7,284.9 131.2,284.9 131.7,285.0 132.2,285.0 132.8,284.9 133.3,284.9 133.8,284.9 134.3,284.9 134.9,284.8 135.4,284.8 135.9,284.7 136.4,284.6 137.0,284.5 137.5,284.4 138.0,284.3 138.5,284.1 139.1,284.0 139.6,283.8 140.1,283.6 140.6,283.4 141.2,283.2 141.7,282.9 142.2,282.7 142.7,282.4 143.3,282.2 143.8,281.9 144.3,281.6 144.8,281.3 145.4,281.0 145.9,280.7 146.4,280.4 147.0,280.1 147.5,279.8 148.0,279.5 148.5,279.2 149.1,278.9 149.6,278.6 150.1,278.3 150.6,278.0 151.2,277.8 151.7,277.6 152.2,277.3 152.7,277.1 153.3,277.0 153.8,276.8 154.3,276.7 154.8,276.6 155.4,276.5 155.9,276.4 156.4,276.4 156.9,276.4 157.5,276.4 158.0,276.5 158.5,276.5 159.0,276.6 159.6,276.8 160.1,276.9 160.6,277.1 161.1,277.2 161.7,277.4 162.2,277.7 162.7,277.9 163.2,278.1 163.8,278.4 164.3,278.6 164.8,278.9 165.3,279.2 165.9,279.5 166.4,279.7 166.9,280.0 167.4,280.3 168.0,280.5 168.5,280.8 169.0,281.0 169.5,281.3 170.1,281.5 170.6,281.7 171.1,281.9 171.6,282.1 172.2,282.2 172.7,282.4 173.2,282.5 173.7,282.6 174.3,282.7 174.8,282.8 175.3,282.8 175.8,282.8 176.4,282.8 176.9,282.8 177.4,282.7 178.0,282.6 178.5,282.5 179.0,282.4 179.5,282.2 180.1,282.1 180.6,281.9 181.1,281.7 181.6,281.5 182.2,281.2 182.7,281.0 183.2,280.7 183.7,280.4 184.3,280.1 184.8,279.8 185.3,279.6 185.8,279.3 186.4,279.0 186.9,278.7 187.4,278.4 187.9,278.2 188.5,278.0 189.0,277.7 189.5,277.5 190.0,277.4 190.6,277.2 191.1,277.1 191.6,277.0 192.1,276.9 192.7,276.9 193.2,276.9 193.7,276.9 194.2,277.0 194.8,277.1 195.3,277.2 195.8,277.3 196.3,277.5 196.9,277.7 197.4,277.9 197.9,278.2 198.4,278.4 199.0,278.7 199.5,279.0 200.0,279.3 200.5,279.6 201.1,279.9 201.6,280.2 202.1,280.6 202.6,280.9 203.2,281.2 203.7,281.5 204.2,281.8 204.7,282.0 205.3,282.3 205.8,282.6 206.3,282.8 206.8,283.0 207.4,283.3 207.9,283.5 208.4,283.6 208.9,283.8 209.5,283.9 210.0,284.1 210.5,284.2 211.1,284.3 211.6,284.4 212.1,284.4 212.6,284.5 213.2,284.5 213.7,284.6 214.2,284.6 214.7,284.6 215.3,284.6 215.8,284.5 216.3,284.5 216.8,284.4 217.4,284.4 217.9,284.3 218.4,284.2 218.9,284.1 219.5,284.0 220.0,283.9 220.5,283.8 221.0,283.7 221.6,283.5 222.1,283.4 222.6,283.2 223.1,283.1 223.7,282.9 224.2,282.7 224.7,282.6 225.2,282.4 225.8,282.2 226.3,282.0 226.8,281.9 227.3,281.7 227.9,281.5 228.4,281.4 228.9,281.2 229.4,281.1 230.0,281.0 230.5,280.8 231.0,280.7 231.5,280.6 232.1,280.6 232.6,280.5 233.1,280.4 233.6,280.4 234.2,280.4 234.7,280.4 235.2,280.4 235.7,280.4 236.3,280.5 236.8,280.5 237.3,280.6 237.8,280.7 238.4,280.8 238.9,280.9 239.4,281.0 239.9,281.2 240.5,281.3 241.0,281.5 241.5,281.7 242.0,281.8 242.6,282.0 243.1,282.2 243.6,282.4 244.2,282.6 244.7,282.8 245.2,283.0 245.7,283.2 246.3,283.3 246.8,283.5 247.3,283.7 247.8,283.9 248.4,284.0 248.9,284.2 249.4,284.3 249.9,284.5 250.5,284.6 251.0,284.7 251.5,284.8 252.0,284.9 252.6,285.0 253.1,285.1 253.6,285.2 254.1,285.3 254.7,285.3 255.2,285.4 255.7,285.4 256.2,285.5 256.8,285.5 257.3,285.5 257.8,285.5 258.3,285.5 258.9,285.5 259.4,285.5 259.9,285.5 260.4,285.5 261.0,285.5 261.5,285.5 262.0,285.5 262.5,285.5 263.1,285.5 263.6,285.5 264.1,285.5 264.6,285.5 265.2,285.5 265.7,285.5 266.2,285.5 266.7,285.5 267.3,285.5 267.8,285.5 268.3,285.5 268.8,285.5 269.4,285.5 269.9,285.5 270.4,285.5 270.9,285.5 271.5,285.5 272.0,285.5 272.5,285.5 273.0,285.5 273.6,285.5 274.1,285.4 274.6,285.4 275.1,285.3 275.7,285.2 276.2,285.1 276.7,285.0 277.3,284.9 277.8,284.7 278.3,284.6 278.8,284.4 279.4,284.2 279.9,284.0 280.4,283.8 280.9,283.6 281.5,283.3 282.0,283.0 282.5,282.7 283.0,282.4 283.6,282.1 284.1,281.8 284.6,281.4 285.1,281.1 285.7,280.7 286.2,280.4 286.7,280.0 287.2,279.7 287.8,279.3 288.3,279.0 288.8,278.7 289.3,278.4 289.9,278.2 290.4,277.9 290.9,277.7 291.4,277.5 292.0,277.4 292.5,277.3 293.0,277.2 293.5,277.2 294.1,277.2 294.6,277.2 295.1,277.3 295.6,277.4 296.2,277.6 296.7,277.8 297.2,278.0 297.7,278.2 298.3,278.5 298.8,278.8 299.3,279.1 299.8,279.4 300.4,279.8 300.9,280.1 301.4,280.5 301.9,280.9 302.5,281.2 303.0,281.6 303.5,281.9 304.0,282.2 304.6,282.6 305.1,282.9 305.6,283.2 306.1,283.4 306.7,283.7 307.2,284.0 307.7,284.2 308.2,284.4 308.8,284.6 309.3,284.8 309.8,284.9 310.4,285.1 310.9,285.2 311.4,285.4 311.9,285.5 312.5,285.5 313.0,285.5 313.5,285.5 314.0,285.5 314.6,285.5 315.1,285.5 315.6,285.5 316.1,285.5 316.7,285.5 317.2,285.5 317.7,285.5 318.2,285.5 318.8,285.5 319.3,285.5 319.8,285.5 320.3,285.5 320.9,285.5 321.4,285.5 321.9,285.5 322.4,285.5 323.0,285.5 323.5,285.5 324.0,285.5 324.5,285.5 325.1,285.5 325.6,285.5 326.1,285.5 326.6,285.5 327.2,285.5 327.7,285.5 328.2,285.5 328.7,285.5 329.3,285.5 329.8,285.5 330.3,285.5 330.8,285.5 331.4,285.5 331.9,285.5 332.4,285.5 332.9,285.5 333.5,285.5 334.0,285.5 334.5,285.5 335.0,285.5 335.6,285.5 336.1,285.5 336.6,285.5 337.1,285.5 337.7,285.5 338.2,285.5 338.7,285.5 339.2,285.5 339.8,285.5 340.3,285.5 340.8,285.5 341.3,285.5 341.9,285.5 342.4,285.5 342.9,285.5 343.5,285.5 344.0,285.5 344.5,285.5 345.0,285.5 345.6,285.5 346.1,285.5 346.6,285.5 347.1,285.5 347.7,285.5 348.2,285.5 348.7,285.5 349.2,285.5 349.8,285.5" stroke="#ff0000" stroke-width="2.0" fill="none" stroke-dasharray="7.8 2.9" stroke-linecap="butt" clip-path="url(#cBL)"/>
<path d="M13.5,276.2 14.0,276.2 14.6,276.2 15.1,276.2 15.6,276.2 16.1,276.3 16.7,276.3 17.2,276.3 17.7,276.3 18.2,276.3 18.8,276.3 19.3,276.2 19.8,276.1 20.3,275.9 20.9,275.7 21.4,275.4 21.9,275.1 22.4,274.7 23.0,274.3 23.5,273.7 24.0,273.1 24.5,272.4 25.1,271.6 25.6,270.8 26.1,269.9 26.6,268.9 27.2,267.8 27.7,266.7 28.2,265.6 28.7,264.4 29.3,263.3 29.8,262.1 30.3,260.9 30.8,259.8 31.4,258.7 31.9,257.6 32.4,256.7 32.9,255.8 33.5,254.9 34.0,254.2 34.5,253.6 35.0,253.0 35.6,252.5 36.1,252.1 36.6,251.7 37.1,251.3 37.7,250.9 38.2,250.5 38.7,250.1 39.2,249.5 39.8,248.8 40.3,247.9 40.8,246.8 41.3,245.5 41.9,243.8 42.4,241.9 42.9,239.6 43.4,236.9 44.0,233.9 44.5,230.5 45.0,226.7 45.5,222.6 46.1,218.2 46.6,213.5 47.1,208.6 47.7,203.6 48.2,198.5 48.7,193.5 49.2,188.5 49.8,183.7 50.3,179.3 50.8,175.2 51.3,171.6 51.9,168.5 52.4,166.0 52.9,164.3 53.4,163.2 54.0,162.9 54.5,163.4 55.0,164.7 55.5,166.6 56.1,169.3 56.6,172.7 57.1,176.7 57.6,181.2 58.2,186.2 58.7,191.5 59.2,197.1 59.7,203.0 60.3,208.9 60.8,214.8 61.3,220.7 61.8,226.5 62.4,232.1 62.9,237.4 63.4,242.5 63.9,247.2 64.5,251.6 65.0,255.7 65.5,259.4 66.0,262.8 66.6,265.9 67.1,268.6 67.6,270.9 68.1,273.0 68.7,274.9 69.2,276.5 69.7,277.8 70.2,279.0 70.8,280.0 71.3,280.8 71.8,281.5 72.3,282.1 72.9,282.6 73.4,283.1 73.9,283.4 74.4,283.7 75.0,283.9 75.5,284.2 76.0,284.3 76.5,284.5 77.1,284.6 77.6,284.7 78.1,284.8 78.6,284.9 79.2,284.9 79.7,285.0 80.2,285.1 80.8,285.1 81.3,285.1 81.8,285.2 82.3,285.2 82.9,285.2 83.4,285.3 83.9,285.3 84.4,285.3 85.0,285.3 85.5,285.4 86.0,285.4 86.5,285.4 87.1,285.4 87.6,285.4 88.1,285.4 88.6,285.4 89.2,285.4 89.7,285.4 90.2,285.4 90.7,285.4 91.3,285.4 91.8,285.5 92.3,285.5 92.8,285.5 93.4,285.5 93.9,285.5 94.4,285.5 94.9,285.5 95.5,285.5 96.0,285.5 96.5,285.5 97.0,285.5 97.6,285.5 98.1,285.5 98.6,285.5 99.1,285.5 99.7,285.5 100.2,285.5 100.7,285.5 101.2,285.5 101.8,285.5 102.3,285.5 102.8,285.5 103.3,285.5 103.9,285.5 104.4,285.5 104.9,285.5 105.4,285.5 106.0,285.5 106.5,285.5 107.0,285.5 107.5,285.5 108.1,285.5 108.6,285.5 109.1,285.5 109.6,285.5 110.2,285.5 110.7,285.5 111.2,285.5 111.7,285.5 112.3,285.5 112.8,285.4 113.3,285.4 113.9,285.4 114.4,285.4 114.9,285.3 115.4,285.3 116.0,285.3 116.5,285.2 117.0,285.2 117.5,285.1 118.1,285.1 118.6,285.1 119.1,285.0 119.6,285.0 120.2,285.0 120.7,284.9 121.2,284.9 121.7,284.9 122.3,284.8 122.8,284.8 123.3,284.8 123.8,284.8 124.4,284.8 124.9,284.8 125.4,284.8 125.9,284.8 126.5,284.8 127.0,284.8 127.5,284.8 128.0,284.9 128.6,284.9 129.1,284.9 129.6,284.9 130.1,284.9 130.7,284.9 131.2,284.9 131.7,284.9 132.2,284.9 132.8,284.9 133.3,284.9 133.8,284.8 134.3,284.8 134.9,284.7 135.4,284.7 135.9,284.6 136.4,284.5 137.0,284.4 137.5,284.3 138.0,284.2 138.5,284.0 139.1,283.9 139.6,283.7 140.1,283.5 140.6,283.3 141.2,283.1 141.7,282.9 142.2,282.7 142.7,282.4 143.3,282.2 143.8,281.9 144.3,281.7 144.8,281.4 145.4,281.1 145.9,280.9 146.4,280.6 147.0,280.3 147.5,280.0 148.0,279.7 148.5,279.5 149.1,279.2 149.6,279.0 150.1,278.7 150.6,278.5 151.2,278.3 151.7,278.1 152.2,277.9 152.7,277.7 153.3,277.5 153.8,277.4 154.3,277.3 154.8,277.2 155.4,277.1 155.9,277.1 156.4,277.1 156.9,277.1 157.5,277.1 158.0,277.1 158.5,277.2 159.0,277.3 159.6,277.4 160.1,277.6 160.6,277.7 161.1,277.9 161.7,278.1 162.2,278.3 162.7,278.5 163.2,278.7 163.8,279.0 164.3,279.2 164.8,279.5 165.3,279.7 165.9,280.0 166.4,280.3 166.9,280.5 167.4,280.8 168.0,281.0 168.5,281.3 169.0,281.5 169.5,281.7 170.1,282.0 170.6,282.2 171.1,282.3 171.6,282.5 172.2,282.7 172.7,282.8 173.2,282.9 173.7,283.0 174.3,283.1 174.8,283.1 175.3,283.1 175.8,283.1 176.4,283.1 176.9,283.0 177.4,282.9 178.0,282.8 178.5,282.7 179.0,282.6 179.5,282.4 180.1,282.2 180.6,282.0 181.1,281.8 181.6,281.5 182.2,281.3 182.7,281.0 183.2,280.7 183.7,280.4 184.3,280.1 184.8,279.8 185.3,279.5 185.8,279.2 186.4,278.9 186.9,278.7 187.4,278.4 187.9,278.1 188.5,277.9 189.0,277.7 189.5,277.5 190.0,277.3 190.6,277.2 191.1,277.0 191.6,277.0 192.1,276.9 192.7,276.9 193.2,276.9 193.7,276.9 194.2,276.9 194.8,277.0 195.3,277.1 195.8,277.3 196.3,277.4 196.9,277.6 197.4,277.8 197.9,278.1 198.4,278.3 199.0,278.6 199.5,278.8 200.0,279.1 200.5,279.4 201.1,279.7 201.6,280.0 202.1,280.3 202.6,280.6 203.2,280.9 203.7,281.2 204.2,281.5 204.7,281.7 205.3,282.0 205.8,282.2 206.3,282.5 206.8,282.7 207.4,282.9 207.9,283.1 208.4,283.2 208.9,283.4 209.5,283.5 210.0,283.7 210.5,283.8 211.1,283.9 211.6,283.9 212.1,284.0 212.6,284.0 213.2,284.0 213.7,284.1 214.2,284.0 214.7,284.0 215.3,284.0 215.8,283.9 216.3,283.9 216.8,283.8 217.4,283.7 217.9,283.6 218.4,283.4 218.9,283.3 219.5,283.1 220.0,283.0 220.5,282.8 221.0,282.6 221.6,282.4 222.1,282.2 222.6,282.0 223.1,281.7 223.7,281.5 224.2,281.2 224.7,281.0 225.2,280.7 225.8,280.5 226.3,280.2 226.8,279.9 227.3,279.7 227.9,279.4 228.4,279.1 228.9,278.9 229.4,278.7 230.0,278.4 230.5,278.2 231.0,278.0 231.5,277.8 232.1,277.6 232.6,277.5 233.1,277.3 233.6,277.2 234.2,277.1 234.7,277.0 235.2,277.0 235.7,276.9 236.3,276.9 236.8,276.9 237.3,277.0 237.8,277.0 238.4,277.1 238.9,277.2 239.4,277.3 239.9,277.5 240.5,277.7 241.0,277.8 241.5,278.0 242.0,278.3 242.6,278.5 243.1,278.7 243.6,279.0 244.2,279.2 244.7,279.5 245.2,279.8 245.7,280.1 246.3,280.3 246.8,280.6 247.3,280.9 247.8,281.1 248.4,281.4 248.9,281.7 249.4,281.9 249.9,282.2 250.5,282.4 251.0,282.6 251.5,282.8 252.0,283.1 252.6,283.3 253.1,283.4 253.6,283.6 254.1,283.8 254.7,283.9 255.2,284.1 255.7,284.2 256.2,284.3 256.8,284.4 257.3,284.5 257.8,284.6 258.3,284.7 258.9,284.8 259.4,284.9 259.9,284.9 260.4,285.0 261.0,285.0 261.5,285.1 262.0,285.1 262.5,285.1 263.1,285.2 263.6,285.2 264.1,285.2 264.6,285.2 265.2,285.3 265.7,285.3 266.2,285.3 266.7,285.3 267.3,285.3 267.8,285.3 268.3,285.3 268.8,285.3 269.4,285.3 269.9,285.3 270.4,285.3 270.9,285.3 271.5,285.3 272.0,285.3 272.5,285.3 273.0,285.2 273.6,285.2 274.1,285.1 274.6,285.0 275.1,285.0 275.7,284.9 276.2,284.8 276.7,284.6 277.3,284.5 277.8,284.4 278.3,284.2 278.8,284.0 279.4,283.8 279.9,283.5 280.4,283.3 280.9,283.0 281.5,282.7 282.0,282.4 282.5,282.1 283.0,281.8 283.6,281.4 284.1,281.0 284.6,280.7 285.1,280.3 285.7,279.9 286.2,279.5 286.7,279.1 287.2,278.7 287.8,278.4 288.3,278.0 288.8,277.7 289.3,277.4 289.9,277.1 290.4,276.9 290.9,276.7 291.4,276.5 292.0,276.3 292.5,276.2 293.0,276.2 293.5,276.1 294.1,276.2 294.6,276.2 295.1,276.4 295.6,276.5 296.2,276.7 296.7,276.9 297.2,277.2 297.7,277.5 298.3,277.8 298.8,278.1 299.3,278.5 299.8,278.9 300.4,279.2 300.9,279.6 301.4,280.0 301.9,280.4 302.5,280.8 303.0,281.2 303.5,281.6 304.0,282.0 304.6,282.4 305.1,282.7 305.6,283.0 306.1,283.3 306.7,283.6 307.2,283.9 307.7,284.2 308.2,284.4 308.8,284.6 309.3,284.8 309.8,285.0 310.4,285.2 310.9,285.3 311.4,285.4 311.9,285.5 312.5,285.5 313.0,285.5 313.5,285.5 314.0,285.5 314.6,285.5 315.1,285.5 315.6,285.5 316.1,285.5 316.7,285.5 317.2,285.5 317.7,285.5 318.2,285.5 318.8,285.5 319.3,285.5 319.8,285.5 320.3,285.5 320.9,285.5 321.4,285.5 321.9,285.5 322.4,285.5 323.0,285.5 323.5,285.5 324.0,285.5 324.5,285.5 325.1,285.5 325.6,285.5 326.1,285.5 326.6,285.5 327.2,285.5 327.7,285.5 328.2,285.5 328.7,285.5 329.3,285.5 329.8,285.5 330.3,285.5 330.8,285.5 331.4,285.5 331.9,285.5 332.4,285.5 332.9,285.5 333.5,285.5 334.0,285.5 334.5,285.5 335.0,285.5 335.6,285.5 336.1,285.5 336.6,285.5 337.1,285.5 337.7,285.5 338.2,285.5 338.7,285.5 339.2,285.5 339.8,285.5 340.3,285.5 340.8,285.5 341.3,285.5 341.9,285.5 342.4,285.5 342.9,285.5 343.5,285.5 344.0,285.5 344.5,285.5 345.0,285.5 345.6,285.5 346.1,285.5 346.6,285.5 347.1,285.5 347.7,285.5 348.2,285.5 348.7,285.5 349.2,285.5 349.8,285.5" stroke="#008000" stroke-width="2.0" fill="none" stroke-dasharray="4.6 2.2 1.2 2.2" stroke-linecap="butt" clip-path="url(#cBL)"/>
<path d="M13.5,276.2 14.0,276.2 14.6,276.2 15.1,276.2 15.6,276.2 16.1,276.3 16.7,276.3 17.2,276.3 17.7,276.3 18.2,276.3 18.8,276.3 19.3,276.2 19.8,276.1 20.3,275.9 20.9,275.7 21.4,275.4 21.9,275.1 22.4,274.7 23.0,274.3 23.5,273.7 24.0,273.1 24.5,272.4 25.1,271.6 25.6,270.8 26.1,269.9 26.6,268.9 27.2,267.8 27.7,266.7 28.2,265.6 28.7,264.4 29.3,263.3 29.8,262.1 30.3,260.9 30.8,259.8 31.4,258.7 31.9,257.6 32.4,256.7 32.9,255.8 33.5,254.9 34.0,254.2 34.5,253.6 35.0,253.0 35.6,252.5 36.1,252.1 36.6,251.7 37.1,251.3 37.7,250.9 38.2,250.5 38.7,250.1 39.2,249.5 39.8,248.8 40.3,247.9 40.8,246.8 41.3,245.5 41.9,243.8 42.4,241.9 42.9,239.6 43.4,236.9 44.0,233.9 44.5,230.5 45.0,226.7 45.5,222.6 46.1,218.2 46.6,213.5 47.1,208.6 47.7,203.6 48.2,198.5 48.7,193.5 49.2,188.5 49.8,183.7 50.3,179.3 50.8,175.2 51.3,171.6 51.9,168.5 52.4,166.0 52.9,164.3 53.4,163.2 54.0,162.9 54.5,163.4 55.0,164.7 55.5,166.6 56.1,169.3 56.6,172.7 57.1,176.7 57.6,181.2 58.2,186.2 58.7,191.5 59.2,197.1 59.7,203.0 60.3,208.9 60.8,214.8 61.3,220.7 61.8,226.5 62.4,232.1 62.9,237.4 63.4,242.5 63.9,247.2 64.5,251.6 65.0,255.7 65.5,259.4 66.0,262.8 66.6,265.9 67.1,268.6 67.6,270.9 68.1,273.0 68.7,274.9 69.2,276.5 69.7,277.8 70.2,279.0 70.8,280.0 71.3,280.8 71.8,281.5 72.3,282.1 72.9,282.6 73.4,283.1 73.9,283.4 74.4,283.7 75.0,283.9 75.5,284.2 76.0,284.3 76.5,284.5 77.1,284.6 77.6,284.7 78.1,284.8 78.6,284.9 79.2,284.9 79.7,285.0 80.2,285.1 80.8,285.1 81.3,285.1 81.8,285.2 82.3,285.2 82.9,285.2 83.4,285.3 83.9,285.3 84.4,285.3 85.0,285.3 85.5,285.4 86.0,285.4 86.5,285.4 87.1,285.4 87.6,285.4 88.1,285.4 88.6,285.4 89.2,285.4 89.7,285.4 90.2,285.4 90.7,285.4 91.3,285.4 91.8,285.5 92.3,285.5 92.8,285.5 93.4,285.5 93.9,285.5 94.4,285.5 94.9,285.5 95.5,285.5 96.0,285.5 96.5,285.5 97.0,285.5 97.6,285.5 98.1,285.5 98.6,285.5 99.1,285.5 99.7,285.5 100.2,285.5 100.7,285.5 101.2,285.5 101.8,285.5 102.3,285.5 102.8,285.5 103.3,285.5 103.9,285.5 104.4,285.5 104.9,285.5 105.4,285.5 106.0,285.5 106.5,285.5 107.0,285.5 107.5,285.5 108.1,285.5 108.6,285.5 109.1,285.5 109.6,285.5 110.2,285.5 110.7,285.5 111.2,285.5 111.7,285.5 112.3,285.5 112.8,285.4 113.3,285.4 113.9,285.4 114.4,285.4 114.9,285.3 115.4,285.3 116.0,285.3 116.5,285.2 117.0,285.2 117.5,285.1 118.1,285.1 118.6,285.1 119.1,285.0 119.6,285.0 120.2,284.9 120.7,284.9 121.2,284.9 121.7,284.9 122.3,284.8 122.8,284.8 123.3,284.8 123.8,284.8 124.4,284.8 124.9,284.8 125.4,284.8 125.9,284.8 126.5,284.8 127.0,284.8 127.5,284.8 128.0,284.9 128.6,284.9 129.1,284.9 129.6,284.9 130.1,284.9 130.7,284.9 131.2,284.9 131.7,284.9 132.2,284.9 132.8,284.9 133.3,284.9 133.8,284.8 134.3,284.8 134.9,284.7 135.4,284.7 135.9,284.6 136.4,284.5 137.0,284.4 137.5,284.3 138.0,284.1 138.5,284.0 139.1,283.8 139.6,283.7 140.1,283.5 140.6,283.3 141.2,283.1 141.7,282.9 142.2,282.7 142.7,282.4 143.3,282.2 143.8,281.9 144.3,281.7 144.8,281.4 145.4,281.2 145.9,280.9 146.4,280.6 147.0,280.3 147.5,280.1 148.0,279.8 148.5,279.6 149.1,279.3 149.6,279.1 150.1,278.8 150.6,278.6 151.2,278.4 151.7,278.2 152.2,278.0 152.7,277.9 153.3,277.7 153.8,277.6 154.3,277.5 154.8,277.4 155.4,277.4 155.9,277.3 156.4,277.3 156.9,277.3 157.5,277.3 158.0,277.4 158.5,277.5 159.0,277.6 159.6,277.7 160.1,277.8 160.6,278.0 161.1,278.1 161.7,278.3 162.2,278.5 162.7,278.7 163.2,279.0 163.8,279.2 164.3,279.5 164.8,279.7 165.3,280.0 165.9,280.2 166.4,280.5 166.9,280.8 167.4,281.0 168.0,281.3 168.5,281.5 169.0,281.8 169.5,282.0 170.1,282.2 170.6,282.5 171.1,282.7 171.6,282.9 172.2,283.0 172.7,283.2 173.2,283.3 173.7,283.4 174.3,283.5 174.8,283.6 175.3,283.6 175.8,283.7 176.4,283.7 176.9,283.6 177.4,283.6 178.0,283.5 178.5,283.4 179.0,283.3 179.5,283.1 180.1,282.9 180.6,282.7 181.1,282.4 181.6,282.2 182.2,281.9 182.7,281.6 183.2,281.3 183.7,280.9 184.3,280.6 184.8,280.2 185.3,279.8 185.8,279.4 186.4,279.0 186.9,278.7 187.4,278.3 187.9,277.9 188.5,277.6 189.0,277.3 189.5,277.0 190.0,276.7 190.6,276.4 191.1,276.2 191.6,276.0 192.1,275.9 192.7,275.8 193.2,275.7 193.7,275.7 194.2,275.7 194.8,275.7 195.3,275.8 195.8,275.9 196.3,276.1 196.9,276.3 197.4,276.5 197.9,276.7 198.4,277.0 199.0,277.3 199.5,277.6 200.0,278.0 200.5,278.3 201.1,278.7 201.6,279.0 202.1,279.4 202.6,279.7 203.2,280.1 203.7,280.4 204.2,280.7 204.7,281.1 205.3,281.4 205.8,281.6 206.3,281.9 206.8,282.2 207.4,282.4 207.9,282.6 208.4,282.8 208.9,283.0 209.5,283.2 210.0,283.3 210.5,283.4 211.1,283.5 211.6,283.6 212.1,283.7 212.6,283.8 213.2,283.8 213.7,283.8 214.2,283.8 214.7,283.8 215.3,283.8 215.8,283.8 216.3,283.7 216.8,283.7 217.4,283.6 217.9,283.5 218.4,283.4 218.9,283.3 219.5,283.2 220.0,283.1 220.5,282.9 221.0,282.7 221.6,282.6 222.1,282.4 222.6,282.2 223.1,282.0 223.7,281.7 224.2,281.5 224.7,281.3 225.2,281.0 225.8,280.8 226.3,280.5 226.8,280.2 227.3,280.0 227.9,279.7 228.4,279.5 228.9,279.2 229.4,279.0 230.0,278.7 230.5,278.5 231.0,278.3 231.5,278.1 232.1,277.9 232.6,277.7 233.1,277.6 233.6,277.5 234.2,277.4 234.7,277.3 235.2,277.3 235.7,277.2 236.3,277.2 236.8,277.3 237.3,277.3 237.8,277.4 238.4,277.5 238.9,277.6 239.4,277.8 239.9,278.0 240.5,278.1 241.0,278.4 241.5,278.6 242.0,278.8 242.6,279.1 243.1,279.4 243.6,279.7 244.2,279.9 244.7,280.2 245.2,280.5 245.7,280.8 246.3,281.1 246.8,281.4 247.3,281.7 247.8,282.0 248.4,282.2 248.9,282.5 249.4,282.8 249.9,283.0 250.5,283.2 251.0,283.5 251.5,283.7 252.0,283.9 252.6,284.1 253.1,284.2 253.6,284.4 254.1,284.5 254.7,284.7 255.2,284.8 255.7,284.9 256.2,285.0 256.8,285.1 257.3,285.2 257.8,285.3 258.3,285.3 258.9,285.4 259.4,285.4 259.9,285.5 260.4,285.5 261.0,285.5 261.5,285.5 262.0,285.5 262.5,285.5 263.1,285.5 263.6,285.5 264.1,285.5 264.6,285.5 265.2,285.5 265.7,285.5 266.2,285.5 266.7,285.5 267.3,285.5 267.8,285.5 268.3,285.5 268.8,285.5 269.4,285.5 269.9,285.5 270.4,285.5 270.9,285.5 271.5,285.5 272.0,285.5 272.5,285.5 273.0,285.5 273.6,285.5 274.1,285.5 274.6,285.5 275.1,285.5 275.7,285.5 276.2,285.5 276.7,285.5 277.3,285.4 277.8,285.3 278.3,285.2 278.8,285.1 279.4,285.0 279.9,284.9 280.4,284.7 280.9,284.6 281.5,284.4 282.0,284.2 282.5,284.0 283.0,283.7 283.6,283.5 284.1,283.2 284.6,283.0 285.1,282.7 285.7,282.4 286.2,282.1 286.7,281.8 287.2,281.5 287.8,281.2 288.3,281.0 288.8,280.7 289.3,280.5 289.9,280.3 290.4,280.1 290.9,279.9 291.4,279.8 292.0,279.6 292.5,279.6 293.0,279.5 293.5,279.5 294.1,279.6 294.6,279.7 295.1,279.8 295.6,279.9 296.2,280.1 296.7,280.3 297.2,280.5 297.7,280.7 298.3,281.0 298.8,281.3 299.3,281.5 299.8,281.8 300.4,282.1 300.9,282.4 301.4,282.7 301.9,283.0 302.5,283.3 303.0,283.5 303.5,283.8 304.0,284.0 304.6,284.2 305.1,284.4 305.6,284.6 306.1,284.8 306.7,285.0 307.2,285.1 307.7,285.3 308.2,285.4 308.8,285.5 309.3,285.5 309.8,285.5 310.4,285.5 310.9,285.5 311.4,285.5 311.9,285.5 312.5,285.5 313.0,285.5 313.5,285.5 314.0,285.5 314.6,285.5 315.1,285.5 315.6,285.5 316.1,285.5 316.7,285.5 317.2,285.5 317.7,285.5 318.2,285.5 318.8,285.5 319.3,285.5 319.8,285.5 320.3,285.5 320.9,285.5 321.4,285.5 321.9,285.5 322.4,285.5 323.0,285.5 323.5,285.5 324.0,285.5 324.5,285.5 325.1,285.5 325.6,285.5 326.1,285.5 326.6,285.5 327.2,285.5 327.7,285.5 328.2,285.5 328.7,285.5 329.3,285.5 329.8,285.5 330.3,285.5 330.8,285.5 331.4,285.5 331.9,285.5 332.4,285.5 332.9,285.5 333.5,285.5 334.0,285.5 334.5,285.5 335.0,285.5 335.6,285.5 336.1,285.5 336.6,285.5 337.1,285.5 337.7,285.5 338.2,285.5 338.7,285.5 339.2,285.5 339.8,285.5 340.3,285.5 340.8,285.5 341.3,285.5 341.9,285.5 342.4,285.5 342.9,285.5 343.5,285.5 344.0,285.5 344.5,285.5 345.0,285.5 345.6,285.5 346.1,285.5 346.6,285.5 347.1,285.5 347.7,285.5 348.2,285.5 348.7,285.5 349.2,285.5 349.8,285.5" stroke="#0000ff" stroke-width="2.0" fill="none" stroke-dasharray="0.35 3.35" stroke-linecap="round" clip-path="url(#cBL)"/>
<path d="M97.6,273.3 98.1,273.3 98.6,273.4 99.1,273.4 99.7,273.5 100.2,273.6 100.7,273.6 101.2,273.7 101.8,273.7 102.3,273.8 102.8,273.9 103.3,273.9 103.9,274.0 104.4,274.0 104.9,274.1 105.4,274.1 106.0,274.1 106.5,274.1 107.0,274.1 107.5,274.1 108.1,274.1 108.6,274.0 109.1,273.9 109.6,273.8 110.2,273.7 110.7,273.5 111.2,273.4 111.7,273.1 112.3,272.9 112.8,272.6 113.3,272.3 113.9,272.0 114.4,271.6 114.9,271.2 115.4,270.8 116.0,270.4 116.5,269.9 117.0,269.5 117.5,269.0 118.1,268.5 118.6,268.1 119.1,267.6 119.6,267.2 120.2,266.8 120.7,266.4 121.2,266.1 121.7,265.8 122.3,265.5 122.8,265.3 123.3,265.1 123.8,265.0 124.4,264.9 124.9,264.9 125.4,264.9 125.9,265.0 126.5,265.1 127.0,265.2 127.5,265.3 128.0,265.5 128.6,265.6 129.1,265.8 129.6,265.9 130.1,266.0 130.7,266.0 131.2,266.0 131.7,266.0 132.2,265.8 132.8,265.6 133.3,265.3 133.8,264.9 134.3,264.3 134.9,263.7 135.4,262.9 135.9,262.0 136.4,260.9 137.0,259.8 137.5,258.5 138.0,257.0 138.5,255.4 139.1,253.7 139.6,251.9 140.1,249.9 140.6,247.8 141.2,245.7 141.7,243.4 142.2,241.0 142.7,238.6 143.3,236.1 143.8,233.5 144.3,230.9 144.8,228.3 145.4,225.7 145.9,223.1 146.4,220.5 147.0,217.9 147.5,215.4 148.0,213.0 148.5,210.7 149.1,208.5 149.6,206.4 150.1,204.4 150.6,202.6 151.2,201.0 151.7,199.5 152.2,198.2 152.7,197.2 153.3,196.3 153.8,195.6 154.3,195.2 154.8,195.0 155.4,195.0 155.9,195.3 156.4,195.8 156.9,196.5 157.5,197.4 158.0,198.5 158.5,199.8 159.0,201.3 159.6,203.0 160.1,204.9 160.6,206.9 161.1,209.0 161.7,211.3 162.2,213.7 162.7,216.1 163.2,218.7 163.8,221.3 164.3,223.9 164.8,226.6 165.3,229.3 165.9,231.9 166.4,234.6 166.9,237.2 167.4,239.7 168.0,242.2 168.5,244.6 169.0,246.9 169.5,249.1 170.1,251.1 170.6,253.1 171.1,254.9 171.6,256.5 172.2,258.0 172.7,259.4 173.2,260.6 173.7,261.6 174.3,262.4 174.8,263.1 175.3,263.6 175.8,263.9 176.4,264.0 176.9,264.0 177.4,263.7 178.0,263.4 178.5,262.8 179.0,262.1 179.5,261.3 180.1,260.3 180.6,259.2 181.1,258.0 181.6,256.6 182.2,255.2 182.7,253.7 183.2,252.2 183.7,250.6 184.3,249.0 184.8,247.4 185.3,245.8 185.8,244.2 186.4,242.7 186.9,241.2 187.4,239.9 187.9,238.6 188.5,237.5 189.0,236.5 189.5,235.6 190.0,234.9 190.6,234.4 191.1,234.0 191.6,233.8 192.1,233.8 192.7,233.9 193.2,234.3 193.7,234.8 194.2,235.5 194.8,236.4 195.3,237.4 195.8,238.6 196.3,239.8 196.9,241.2 197.4,242.8 197.9,244.4 198.4,246.0 199.0,247.8 199.5,249.5 200.0,251.3 200.5,253.1 201.1,254.9 201.6,256.7 202.1,258.4 202.6,260.1 203.2,261.7 203.7,263.3 204.2,264.8 204.7,266.2 205.3,267.6 205.8,268.8 206.3,270.0 206.8,271.0 207.4,272.0 207.9,272.9 208.4,273.6 208.9,274.3 209.5,274.9 210.0,275.4 210.5,275.7 211.1,276.1 211.6,276.3 212.1,276.4 212.6,276.5 213.2,276.5 213.7,276.5 214.2,276.3 214.7,276.1 215.3,275.9 215.8,275.6 216.3,275.3 216.8,274.9 217.4,274.5 217.9,274.0 218.4,273.5 218.9,273.0 219.5,272.4 220.0,271.8 220.5,271.2 221.0,270.6 221.6,270.0 222.1,269.3 222.6,268.6 223.1,268.0 223.7,267.3 224.2,266.7 224.7,266.0 225.2,265.4 225.8,264.7 226.3,264.1 226.8,263.5 227.3,262.9 227.9,262.4 228.4,261.9 228.9,261.4 229.4,260.9 230.0,260.5 230.5,260.2 231.0,259.8 231.5,259.6 232.1,259.3 232.6,259.2 233.1,259.0 233.6,259.0 234.2,258.9 234.7,259.0 235.2,259.0 235.7,259.2 236.3,259.4 236.8,259.6 237.3,259.9 237.8,260.2 238.4,260.6 238.9,261.0 239.4,261.4 239.9,261.9 240.5,262.5 241.0,263.0 241.5,263.6 242.0,264.2 242.6,264.9 243.1,265.5 243.6,266.2 244.2,266.9 244.7,267.5 245.2,268.2 245.7,268.9 246.3,269.6 246.8,270.3 247.3,271.0 247.8,271.6 248.4,272.3 248.9,272.9 249.4,273.6 249.9,274.2 250.5,274.8 251.0,275.3 251.5,275.9 252.0,276.4 252.6,276.9 253.1,277.4 253.6,277.8 254.1,278.2 254.7,278.6 255.2,279.0 255.7,279.4 256.2,279.7 256.8,280.0 257.3,280.3 257.8,280.5 258.3,280.8 258.9,281.0 259.4,281.2 259.9,281.4 260.4,281.6 261.0,281.8 261.5,281.9 262.0,282.0 262.5,282.2 263.1,282.3 263.6,282.4 264.1,282.5 264.6,282.6 265.2,282.7 265.7,282.7 266.2,282.8 266.7,282.9 267.3,282.9 267.8,283.0 268.3,283.0 268.8,283.1 269.4,283.1 269.9,283.1 270.4,283.2 270.9,283.2 271.5,283.2 272.0,283.2 272.5,283.2 273.0,283.2 273.6,283.1 274.1,283.1 274.6,283.0 275.1,282.9 275.7,282.7 276.2,282.6 276.7,282.4 277.3,282.2 277.8,281.9 278.3,281.6 278.8,281.2 279.4,280.8 279.9,280.3 280.4,279.7 280.9,279.1 281.5,278.5 282.0,277.8 282.5,277.0 283.0,276.1 283.6,275.2 284.1,274.2 284.6,273.2 285.1,272.1 285.7,271.0 286.2,269.9 286.7,268.7 287.2,267.5 287.8,266.4 288.3,265.2 288.8,264.1 289.3,263.0 289.9,262.0 290.4,261.0 290.9,260.2 291.4,259.4 292.0,258.7 292.5,258.2 293.0,257.8 293.5,257.5 294.1,257.3 294.6,257.3 295.1,257.4 295.6,257.7 296.2,258.1 296.7,258.6 297.2,259.3 297.7,260.0 298.3,260.9 298.8,261.8 299.3,262.8 299.8,263.9 300.4,265.1 300.9,266.2 301.4,267.4 301.9,268.6 302.5,269.8 303.0,271.0 303.5,272.2 304.0,273.3 304.6,274.4 305.1,275.4 305.6,276.4 306.1,277.3 306.7,278.2 307.2,279.0 307.7,279.7 308.2,280.4 308.8,281.0 309.3,281.5 309.8,282.0 310.4,282.5 310.9,282.9 311.4,283.2 311.9,283.5 312.5,283.8 313.0,284.0 313.5,284.2 314.0,284.4 314.6,284.5 315.1,284.6 315.6,284.7 316.1,284.8 316.7,284.9 317.2,285.0 317.7,285.0 318.2,285.1 318.8,285.1 319.3,285.1 319.8,285.2 320.3,285.2 320.9,285.2 321.4,285.2 321.9,285.3 322.4,285.3 323.0,285.3 323.5,285.3 324.0,285.3 324.5,285.3 325.1,285.3 325.6,285.3 326.1,285.4 326.6,285.4 327.2,285.4 327.7,285.4 328.2,285.4 328.7,285.4 329.3,285.4 329.8,285.4 330.3,285.4 330.8,285.4 331.4,285.4 331.9,285.4 332.4,285.4 332.9,285.4 333.5,285.5 334.0,285.5 334.5,285.5 335.0,285.5 335.6,285.5 336.1,285.5 336.6,285.5 337.1,285.5 337.7,285.5 338.2,285.5 338.7,285.5 339.2,285.5 339.8,285.5 340.3,285.5 340.8,285.5 341.3,285.5 341.9,285.5 342.4,285.5 342.9,285.5 343.5,285.5 344.0,285.5 344.5,285.5 345.0,285.5 345.6,285.5 346.1,285.5 346.6,285.5 347.1,285.5 347.7,285.5 348.2,285.5 348.7,285.5 349.2,285.5 349.8,285.5" stroke="#000000" stroke-width="2.0" fill="none" stroke-linecap="square" stroke-linejoin="round" clip-path="url(#cBL)"/>
<path d="M97.6,273.3 98.1,273.3 98.6,273.4 99.1,273.4 99.7,273.5 100.2,273.5 100.7,273.6 101.2,273.7 101.8,273.7 102.3,273.8 102.8,273.9 103.3,273.9 103.9,274.0 104.4,274.0 104.9,274.1 105.4,274.1 106.0,274.2 106.5,274.2 107.0,274.2 107.5,274.2 108.1,274.1 108.6,274.1 109.1,274.0 109.6,273.9 110.2,273.8 110.7,273.7 111.2,273.5 111.7,273.3 112.3,273.1 112.8,272.8 113.3,272.5 113.9,272.2 114.4,271.8 114.9,271.4 115.4,271.0 116.0,270.6 116.5,270.1 117.0,269.6 117.5,269.2 118.1,268.7 118.6,268.2 119.1,267.7 119.6,267.2 120.2,266.8 120.7,266.4 121.2,266.0 121.7,265.7 122.3,265.4 122.8,265.1 123.3,264.9 123.8,264.8 124.4,264.7 124.9,264.7 125.4,264.7 125.9,264.8 126.5,264.9 127.0,265.0 127.5,265.2 128.0,265.4 128.6,265.7 129.1,265.9 129.6,266.1 130.1,266.3 130.7,266.5 131.2,266.6 131.7,266.7 132.2,266.7 132.8,266.6 133.3,266.4 133.8,266.1 134.3,265.6 134.9,265.1 135.4,264.4 135.9,263.5 136.4,262.5 137.0,261.3 137.5,259.9 138.0,258.4 138.5,256.7 139.1,254.8 139.6,252.7 140.1,250.4 140.6,248.0 141.2,245.4 141.7,242.6 142.2,239.7 142.7,236.6 143.3,233.4 143.8,230.1 144.3,226.6 144.8,223.1 145.4,219.5 145.9,215.8 146.4,212.1 147.0,208.4 147.5,204.6 148.0,201.0 148.5,197.3 149.1,193.8 149.6,190.3 150.1,187.0 150.6,183.8 151.2,180.8 151.7,177.9 152.2,175.3 152.7,173.0 153.3,170.8 153.8,169.0 154.3,167.4 154.8,166.1 155.4,165.1 155.9,164.4 156.4,164.1 156.9,164.0 157.5,164.3 158.0,164.8 158.5,165.7 159.0,166.9 159.6,168.3 160.1,170.0 160.6,172.0 161.1,174.2 161.7,176.6 162.2,179.2 162.7,181.9 163.2,184.9 163.8,187.9 164.3,191.0 164.8,194.3 165.3,197.5 165.9,200.8 166.4,204.1 166.9,207.4 167.4,210.6 168.0,213.8 168.5,216.9 169.0,219.8 169.5,222.6 170.1,225.3 170.6,227.9 171.1,230.2 171.6,232.3 172.2,234.3 172.7,236.0 173.2,237.4 173.7,238.7 174.3,239.6 174.8,240.3 175.3,240.8 175.8,240.9 176.4,240.8 176.9,240.4 177.4,239.7 178.0,238.8 178.5,237.5 179.0,236.0 179.5,234.2 180.1,232.2 180.6,229.9 181.1,227.4 181.6,224.7 182.2,221.9 182.7,218.8 183.2,215.6 183.7,212.3 184.3,208.9 184.8,205.5 185.3,202.0 185.8,198.5 186.4,195.1 186.9,191.8 187.4,188.6 187.9,185.6 188.5,182.7 189.0,180.1 189.5,177.7 190.0,175.6 190.6,173.8 191.1,172.3 191.6,171.2 192.1,170.4 192.7,170.0 193.2,170.0 193.7,170.3 194.2,171.1 194.8,172.2 195.3,173.6 195.8,175.4 196.3,177.5 196.9,179.9 197.4,182.5 197.9,185.5 198.4,188.6 199.0,191.9 199.5,195.4 200.0,199.0 200.5,202.7 201.1,206.4 201.6,210.2 202.1,214.0 202.6,217.7 203.2,221.4 203.7,225.0 204.2,228.5 204.7,231.9 205.3,235.1 205.8,238.2 206.3,241.1 206.8,243.8 207.4,246.3 207.9,248.7 208.4,250.8 208.9,252.8 209.5,254.6 210.0,256.1 210.5,257.5 211.1,258.7 211.6,259.7 212.1,260.5 212.6,261.2 213.2,261.7 213.7,262.0 214.2,262.1 214.7,262.1 215.3,261.9 215.8,261.6 216.3,261.1 216.8,260.5 217.4,259.8 217.9,258.9 218.4,257.9 218.9,256.8 219.5,255.6 220.0,254.2 220.5,252.7 221.0,251.2 221.6,249.5 222.1,247.8 222.6,245.9 223.1,244.1 223.7,242.1 224.2,240.1 224.7,238.1 225.2,236.0 225.8,233.9 226.3,231.9 226.8,229.8 227.3,227.8 227.9,225.9 228.4,224.0 228.9,222.2 229.4,220.5 230.0,218.9 230.5,217.4 231.0,216.1 231.5,214.9 232.1,213.9 232.6,213.1 233.1,212.4 233.6,212.0 234.2,211.7 234.7,211.7 235.2,211.8 235.7,212.2 236.3,212.7 236.8,213.4 237.3,214.4 237.8,215.5 238.4,216.8 238.9,218.2 239.4,219.8 239.9,221.5 240.5,223.4 241.0,225.3 241.5,227.4 242.0,229.5 242.6,231.7 243.1,233.9 243.6,236.1 244.2,238.4 244.7,240.7 245.2,242.9 245.7,245.1 246.3,247.3 246.8,249.5 247.3,251.5 247.8,253.5 248.4,255.4 248.9,257.3 249.4,259.0 249.9,260.7 250.5,262.2 251.0,263.7 251.5,265.1 252.0,266.3 252.6,267.5 253.1,268.6 253.6,269.5 254.1,270.4 254.7,271.2 255.2,271.9 255.7,272.6 256.2,273.1 256.8,273.6 257.3,274.1 257.8,274.4 258.3,274.8 258.9,275.0 259.4,275.3 259.9,275.5 260.4,275.6 261.0,275.8 261.5,275.9 262.0,276.0 262.5,276.0 263.1,276.1 263.6,276.1 264.1,276.1 264.6,276.1 265.2,276.1 265.7,276.1 266.2,276.1 266.7,276.0 267.3,276.0 267.8,275.9 268.3,275.9 268.8,275.8 269.4,275.6 269.9,275.5 270.4,275.3 270.9,275.1 271.5,274.8 272.0,274.5 272.5,274.1 273.0,273.6 273.6,273.1 274.1,272.4 274.6,271.7 275.1,270.8 275.7,269.8 276.2,268.6 276.7,267.3 277.3,265.8 277.8,264.2 278.3,262.3 278.8,260.3 279.4,258.0 279.9,255.6 280.4,252.9 280.9,250.0 281.5,246.9 282.0,243.6 282.5,240.1 283.0,236.4 283.6,232.6 284.1,228.6 284.6,224.5 285.1,220.4 285.7,216.1 286.2,211.9 286.7,207.7 287.2,203.5 287.8,199.4 288.3,195.5 288.8,191.8 289.3,188.3 289.9,185.1 290.4,182.2 290.9,179.7 291.4,177.5 292.0,175.7 292.5,174.4 293.0,173.6 293.5,173.2 294.1,173.2 294.6,173.8 295.1,174.8 295.6,176.2 296.2,178.1 296.7,180.4 297.2,183.0 297.7,186.0 298.3,189.3 298.8,192.9 299.3,196.7 299.8,200.7 300.4,204.8 300.9,209.0 301.4,213.3 301.9,217.5 302.5,221.8 303.0,226.0 303.5,230.1 304.0,234.2 304.6,238.0 305.1,241.7 305.6,245.3 306.1,248.6 306.7,251.8 307.2,254.8 307.7,257.5 308.2,260.1 308.8,262.5 309.3,264.6 309.8,266.6 310.4,268.4 310.9,270.0 311.4,271.5 311.9,272.9 312.5,274.1 313.0,275.1 313.5,276.1 314.0,276.9 314.6,277.7 315.1,278.4 315.6,279.0 316.1,279.5 316.7,280.0 317.2,280.4 317.7,280.8 318.2,281.1 318.8,281.5 319.3,281.7 319.8,282.0 320.3,282.2 320.9,282.4 321.4,282.6 321.9,282.8 322.4,283.0 323.0,283.2 323.5,283.3 324.0,283.4 324.5,283.6 325.1,283.7 325.6,283.8 326.1,283.9 326.6,284.0 327.2,284.1 327.7,284.2 328.2,284.3 328.7,284.4 329.3,284.5 329.8,284.5 330.3,284.6 330.8,284.7 331.4,284.7 331.9,284.8 332.4,284.9 332.9,284.9 333.5,285.0 334.0,285.0 334.5,285.0 335.0,285.1 335.6,285.1 336.1,285.1 336.6,285.2 337.1,285.2 337.7,285.2 338.2,285.3 338.7,285.3 339.2,285.3 339.8,285.3 340.3,285.3 340.8,285.3 341.3,285.4 341.9,285.4 342.4,285.4 342.9,285.4 343.5,285.4 344.0,285.4 344.5,285.4 345.0,285.4 345.6,285.4 346.1,285.4 346.6,285.5 347.1,285.5 347.7,285.5 348.2,285.5 348.7,285.5 349.2,285.5 349.8,285.5" stroke="#ff0000" stroke-width="2.0" fill="none" stroke-dasharray="7.8 2.9" stroke-linecap="butt" clip-path="url(#cBL)"/>
<path d="M97.6,273.3 98.1,273.4 98.6,273.4 99.1,273.5 99.7,273.5 100.2,273.6 100.7,273.6 101.2,273.7 101.8,273.8 102.3,273.8 102.8,273.9 103.3,273.9 103.9,274.0 104.4,274.0 104.9,274.1 105.4,274.1 106.0,274.1 106.5,274.2 107.0,274.2 107.5,274.1 108.1,274.1 108.6,274.1 109.1,274.0 109.6,273.9 110.2,273.7 110.7,273.6 111.2,273.4 111.7,273.2 112.3,273.0 112.8,272.7 113.3,272.4 113.9,272.0 114.4,271.7 114.9,271.3 115.4,270.9 116.0,270.4 116.5,270.0 117.0,269.5 117.5,269.0 118.1,268.5 118.6,268.1 119.1,267.6 119.6,267.2 120.2,266.7 120.7,266.4 121.2,266.0 121.7,265.7 122.3,265.4 122.8,265.2 123.3,265.0 123.8,264.9 124.4,264.8 124.9,264.8 125.4,264.8 125.9,264.9 126.5,265.0 127.0,265.2 127.5,265.3 128.0,265.5 128.6,265.7 129.1,265.9 129.6,266.1 130.1,266.2 130.7,266.3 131.2,266.4 131.7,266.4 132.2,266.3 132.8,266.1 133.3,265.8 133.8,265.4 134.3,264.9 134.9,264.3 135.4,263.5 135.9,262.6 136.4,261.5 137.0,260.3 137.5,258.9 138.0,257.4 138.5,255.7 139.1,253.8 139.6,251.8 140.1,249.6 140.6,247.3 141.2,244.8 141.7,242.2 142.2,239.5 142.7,236.6 143.3,233.6 143.8,230.6 144.3,227.4 144.8,224.2 145.4,220.9 145.9,217.6 146.4,214.2 147.0,210.9 147.5,207.6 148.0,204.3 148.5,201.1 149.1,197.9 149.6,194.9 150.1,191.9 150.6,189.1 151.2,186.5 151.7,184.0 152.2,181.7 152.7,179.7 153.3,177.8 153.8,176.2 154.3,174.9 154.8,173.8 155.4,173.0 155.9,172.4 156.4,172.2 156.9,172.2 157.5,172.5 158.0,173.1 158.5,173.9 159.0,175.0 159.6,176.4 160.1,178.0 160.6,179.9 161.1,181.9 161.7,184.2 162.2,186.7 162.7,189.3 163.2,192.1 163.8,195.0 164.3,198.0 164.8,201.0 165.3,204.1 165.9,207.3 166.4,210.5 166.9,213.6 167.4,216.7 168.0,219.7 168.5,222.7 169.0,225.6 169.5,228.3 170.1,230.8 170.6,233.2 171.1,235.5 171.6,237.5 172.2,239.3 172.7,240.8 173.2,242.1 173.7,243.2 174.3,244.0 174.8,244.5 175.3,244.7 175.8,244.6 176.4,244.3 176.9,243.6 177.4,242.7 178.0,241.5 178.5,239.9 179.0,238.2 179.5,236.1 180.1,233.8 180.6,231.3 181.1,228.5 181.6,225.6 182.2,222.5 182.7,219.2 183.2,215.8 183.7,212.3 184.3,208.8 184.8,205.2 185.3,201.6 185.8,198.1 186.4,194.7 186.9,191.3 187.4,188.1 187.9,185.0 188.5,182.2 189.0,179.6 189.5,177.2 190.0,175.1 190.6,173.3 191.1,171.9 191.6,170.8 192.1,170.0 192.7,169.6 193.2,169.5 193.7,169.8 194.2,170.5 194.8,171.5 195.3,172.9 195.8,174.5 196.3,176.5 196.9,178.8 197.4,181.3 197.9,184.1 198.4,187.0 199.0,190.1 199.5,193.4 200.0,196.8 200.5,200.3 201.1,203.9 201.6,207.5 202.1,211.0 202.6,214.6 203.2,218.1 203.7,221.5 204.2,224.9 204.7,228.1 205.3,231.2 205.8,234.1 206.3,236.9 206.8,239.6 207.4,242.0 207.9,244.2 208.4,246.3 208.9,248.2 209.5,249.8 210.0,251.3 210.5,252.5 211.1,253.6 211.6,254.5 212.1,255.1 212.6,255.6 213.2,255.9 213.7,256.0 214.2,255.9 214.7,255.6 215.3,255.1 215.8,254.4 216.3,253.6 216.8,252.6 217.4,251.4 217.9,250.0 218.4,248.5 218.9,246.8 219.5,245.0 220.0,243.0 220.5,240.8 221.0,238.5 221.6,236.1 222.1,233.5 222.6,230.8 223.1,228.0 223.7,225.1 224.2,222.2 224.7,219.1 225.2,216.0 225.8,212.8 226.3,209.6 226.8,206.5 227.3,203.3 227.9,200.1 228.4,197.1 228.9,194.0 229.4,191.1 230.0,188.3 230.5,185.7 231.0,183.2 231.5,180.8 232.1,178.7 232.6,176.8 233.1,175.1 233.6,173.6 234.2,172.4 234.7,171.5 235.2,170.8 235.7,170.4 236.3,170.3 236.8,170.5 237.3,170.9 237.8,171.7 238.4,172.7 238.9,173.9 239.4,175.5 239.9,177.2 240.5,179.2 241.0,181.5 241.5,183.9 242.0,186.5 242.6,189.2 243.1,192.1 243.6,195.1 244.2,198.2 244.7,201.4 245.2,204.7 245.7,207.9 246.3,211.2 246.8,214.5 247.3,217.8 247.8,221.0 248.4,224.2 248.9,227.3 249.4,230.4 249.9,233.3 250.5,236.1 251.0,238.9 251.5,241.5 252.0,244.0 252.6,246.3 253.1,248.5 253.6,250.6 254.1,252.6 254.7,254.4 255.2,256.1 255.7,257.7 256.2,259.1 256.8,260.5 257.3,261.7 257.8,262.8 258.3,263.8 258.9,264.7 259.4,265.6 259.9,266.3 260.4,267.0 261.0,267.6 261.5,268.1 262.0,268.6 262.5,269.0 263.1,269.4 263.6,269.7 264.1,270.0 264.6,270.3 265.2,270.5 265.7,270.8 266.2,270.9 266.7,271.1 267.3,271.2 267.8,271.3 268.3,271.4 268.8,271.4 269.4,271.4 269.9,271.4 270.4,271.3 270.9,271.2 271.5,271.0 272.0,270.7 272.5,270.3 273.0,269.9 273.6,269.3 274.1,268.7 274.6,267.9 275.1,266.9 275.7,265.8 276.2,264.5 276.7,263.1 277.3,261.4 277.8,259.5 278.3,257.5 278.8,255.1 279.4,252.6 279.9,249.8 280.4,246.8 280.9,243.6 281.5,240.1 282.0,236.4 282.5,232.5 283.0,228.4 283.6,224.1 284.1,219.7 284.6,215.2 285.1,210.6 285.7,206.0 286.2,201.3 286.7,196.7 287.2,192.2 287.8,187.9 288.3,183.7 288.8,179.7 289.3,176.1 289.9,172.7 290.4,169.7 290.9,167.1 291.4,164.9 292.0,163.2 292.5,162.0 293.0,161.3 293.5,161.1 294.1,161.4 294.6,162.2 295.1,163.5 295.6,165.3 296.2,167.6 296.7,170.3 297.2,173.4 297.7,176.9 298.3,180.7 298.8,184.8 299.3,189.1 299.8,193.6 300.4,198.3 300.9,203.1 301.4,207.9 301.9,212.7 302.5,217.5 303.0,222.2 303.5,226.8 304.0,231.3 304.6,235.7 305.1,239.8 305.6,243.7 306.1,247.5 306.7,251.0 307.2,254.3 307.7,257.3 308.2,260.1 308.8,262.7 309.3,265.0 309.8,267.2 310.4,269.1 310.9,270.8 311.4,272.4 311.9,273.8 312.5,275.0 313.0,276.1 313.5,277.0 314.0,277.9 314.6,278.6 315.1,279.2 315.6,279.8 316.1,280.3 316.7,280.7 317.2,281.0 317.7,281.3 318.2,281.6 318.8,281.9 319.3,282.1 319.8,282.3 320.3,282.5 320.9,282.6 321.4,282.8 321.9,282.9 322.4,283.0 323.0,283.2 323.5,283.3 324.0,283.4 324.5,283.5 325.1,283.6 325.6,283.8 326.1,283.9 326.6,284.0 327.2,284.1 327.7,284.2 328.2,284.2 328.7,284.3 329.3,284.4 329.8,284.5 330.3,284.6 330.8,284.7 331.4,284.7 331.9,284.8 332.4,284.9 332.9,284.9 333.5,285.0 334.0,285.0 334.5,285.1 335.0,285.1 335.6,285.2 336.1,285.2 336.6,285.2 337.1,285.3 337.7,285.3 338.2,285.3 338.7,285.3 339.2,285.4 339.8,285.4 340.3,285.4 340.8,285.4 341.3,285.4 341.9,285.4 342.4,285.4 342.9,285.4 343.5,285.5 344.0,285.5 344.5,285.5 345.0,285.5 345.6,285.5 346.1,285.5 346.6,285.5 347.1,285.5 347.7,285.5 348.2,285.5 348.7,285.5 349.2,285.5 349.8,285.5" stroke="#008000" stroke-width="2.0" fill="none" stroke-dasharray="4.6 2.2 1.2 2.2" stroke-linecap="butt" clip-path="url(#cBL)"/>
<path d="M97.6,273.3 98.1,273.4 98.6,273.4 99.1,273.5 99.7,273.5 100.2,273.6 100.7,273.6 101.2,273.7 101.8,273.8 102.3,273.8 102.8,273.9 103.3,273.9 103.9,274.0 104.4,274.0 104.9,274.1 105.4,274.1 106.0,274.1 106.5,274.1 107.0,274.1 107.5,274.1 108.1,274.1 108.6,274.0 109.1,273.9 109.6,273.8 110.2,273.7 110.7,273.5 111.2,273.3 111.7,273.1 112.3,272.9 112.8,272.6 113.3,272.3 113.9,271.9 114.4,271.6 114.9,271.2 115.4,270.8 116.0,270.3 116.5,269.9 117.0,269.4 117.5,268.9 118.1,268.5 118.6,268.0 119.1,267.5 119.6,267.1 120.2,266.7 120.7,266.3 121.2,266.0 121.7,265.7 122.3,265.4 122.8,265.2 123.3,265.0 123.8,264.9 124.4,264.9 124.9,264.9 125.4,264.9 125.9,265.0 126.5,265.1 127.0,265.3 127.5,265.4 128.0,265.6 128.6,265.8 129.1,266.0 129.6,266.1 130.1,266.3 130.7,266.3 131.2,266.4 131.7,266.3 132.2,266.2 132.8,266.0 133.3,265.7 133.8,265.3 134.3,264.8 134.9,264.1 135.4,263.3 135.9,262.3 136.4,261.3 137.0,260.0 137.5,258.6 138.0,257.1 138.5,255.4 139.1,253.5 139.6,251.5 140.1,249.3 140.6,247.0 141.2,244.6 141.7,242.0 142.2,239.3 142.7,236.5 143.3,233.5 143.8,230.5 144.3,227.5 144.8,224.3 145.4,221.1 145.9,217.9 146.4,214.7 147.0,211.4 147.5,208.2 148.0,205.1 148.5,202.0 149.1,198.9 149.6,196.0 150.1,193.2 150.6,190.6 151.2,188.1 151.7,185.7 152.2,183.6 152.7,181.7 153.3,180.0 153.8,178.5 154.3,177.3 154.8,176.3 155.4,175.6 155.9,175.1 156.4,174.9 156.9,175.0 157.5,175.4 158.0,176.0 158.5,176.9 159.0,178.0 159.6,179.4 160.1,181.0 160.6,182.9 161.1,185.0 161.7,187.2 162.2,189.7 162.7,192.3 163.2,195.0 163.8,197.9 164.3,200.8 164.8,203.9 165.3,207.0 165.9,210.1 166.4,213.3 166.9,216.5 167.4,219.6 168.0,222.7 168.5,225.7 169.0,228.7 169.5,231.5 170.1,234.3 170.6,236.9 171.1,239.3 171.6,241.5 172.2,243.6 172.7,245.4 173.2,247.0 173.7,248.4 174.3,249.6 174.8,250.4 175.3,251.0 175.8,251.3 176.4,251.2 176.9,250.9 177.4,250.3 178.0,249.3 178.5,248.0 179.0,246.4 179.5,244.4 180.1,242.2 180.6,239.6 181.1,236.7 181.6,233.5 182.2,230.0 182.7,226.3 183.2,222.4 183.7,218.3 184.3,214.0 184.8,209.6 185.3,205.1 185.8,200.5 186.4,195.9 186.9,191.4 187.4,186.9 187.9,182.6 188.5,178.4 189.0,174.5 189.5,170.8 190.0,167.5 190.6,164.4 191.1,161.8 191.6,159.6 192.1,157.8 192.7,156.4 193.2,155.6 193.7,155.2 194.2,155.2 194.8,155.8 195.3,156.8 195.8,158.3 196.3,160.2 196.9,162.5 197.4,165.2 197.9,168.2 198.4,171.5 199.0,175.1 199.5,178.9 200.0,182.9 200.5,187.0 201.1,191.2 201.6,195.4 202.1,199.7 202.6,203.9 203.2,208.1 203.7,212.2 204.2,216.1 204.7,220.0 205.3,223.6 205.8,227.1 206.3,230.3 206.8,233.4 207.4,236.2 207.9,238.8 208.4,241.2 208.9,243.3 209.5,245.3 210.0,247.0 210.5,248.4 211.1,249.7 211.6,250.8 212.1,251.7 212.6,252.4 213.2,252.9 213.7,253.2 214.2,253.3 214.7,253.3 215.3,253.1 215.8,252.7 216.3,252.2 216.8,251.5 217.4,250.6 217.9,249.6 218.4,248.4 218.9,247.1 219.5,245.6 220.0,243.9 220.5,242.1 221.0,240.1 221.6,238.0 222.1,235.8 222.6,233.3 223.1,230.8 223.7,228.1 224.2,225.4 224.7,222.5 225.2,219.5 225.8,216.5 226.3,213.4 226.8,210.3 227.3,207.1 227.9,204.0 228.4,200.9 228.9,197.9 229.4,194.9 230.0,192.0 230.5,189.3 231.0,186.7 231.5,184.4 232.1,182.2 232.6,180.2 233.1,178.5 233.6,177.0 234.2,175.8 234.7,174.9 235.2,174.3 235.7,174.0 236.3,174.1 236.8,174.4 237.3,175.1 237.8,176.0 238.4,177.3 238.9,178.8 239.4,180.7 239.9,182.8 240.5,185.1 241.0,187.7 241.5,190.4 242.0,193.4 242.6,196.5 243.1,199.8 243.6,203.1 244.2,206.6 244.7,210.0 245.2,213.6 245.7,217.1 246.3,220.6 246.8,224.1 247.3,227.6 247.8,231.0 248.4,234.2 248.9,237.4 249.4,240.5 249.9,243.4 250.5,246.2 251.0,248.9 251.5,251.4 252.0,253.8 252.6,256.0 253.1,258.1 253.6,260.0 254.1,261.8 254.7,263.4 255.2,264.9 255.7,266.2 256.2,267.4 256.8,268.5 257.3,269.5 257.8,270.4 258.3,271.2 258.9,271.9 259.4,272.5 259.9,273.0 260.4,273.5 261.0,273.9 261.5,274.3 262.0,274.6 262.5,274.8 263.1,275.0 263.6,275.2 264.1,275.4 264.6,275.5 265.2,275.7 265.7,275.8 266.2,275.8 266.7,275.9 267.3,276.0 267.8,276.0 268.3,276.1 268.8,276.1 269.4,276.1 269.9,276.2 270.4,276.2 270.9,276.1 271.5,276.1 272.0,276.0 272.5,275.9 273.0,275.8 273.6,275.6 274.1,275.3 274.6,275.0 275.1,274.6 275.7,274.2 276.2,273.6 276.7,272.9 277.3,272.1 277.8,271.2 278.3,270.1 278.8,268.9 279.4,267.4 279.9,265.8 280.4,264.0 280.9,262.1 281.5,259.9 282.0,257.5 282.5,254.9 283.0,252.2 283.6,249.2 284.1,246.1 284.6,242.9 285.1,239.5 285.7,236.1 286.2,232.6 286.7,229.1 287.2,225.7 287.8,222.3 288.3,219.0 288.8,215.9 289.3,213.0 289.9,210.4 290.4,208.0 290.9,206.0 291.4,204.4 292.0,203.1 292.5,202.3 293.0,201.8 293.5,201.8 294.1,202.3 294.6,203.2 295.1,204.4 295.6,206.1 296.2,208.1 296.7,210.5 297.2,213.1 297.7,216.1 298.3,219.2 298.8,222.5 299.3,225.9 299.8,229.3 300.4,232.9 300.9,236.4 301.4,239.8 301.9,243.2 302.5,246.5 303.0,249.7 303.5,252.7 304.0,255.5 304.6,258.2 305.1,260.7 305.6,263.0 306.1,265.1 306.7,267.1 307.2,268.8 307.7,270.4 308.2,271.8 308.8,273.1 309.3,274.2 309.8,275.2 310.4,276.1 310.9,276.9 311.4,277.6 311.9,278.3 312.5,278.8 313.0,279.3 313.5,279.7 314.0,280.1 314.6,280.4 315.1,280.7 315.6,281.0 316.1,281.3 316.7,281.5 317.2,281.7 317.7,281.9 318.2,282.1 318.8,282.3 319.3,282.5 319.8,282.6 320.3,282.8 320.9,282.9 321.4,283.1 321.9,283.2 322.4,283.3 323.0,283.4 323.5,283.6 324.0,283.7 324.5,283.8 325.1,283.9 325.6,284.0 326.1,284.1 326.6,284.2 327.2,284.3 327.7,284.3 328.2,284.4 328.7,284.5 329.3,284.6 329.8,284.6 330.3,284.7 330.8,284.8 331.4,284.8 331.9,284.9 332.4,284.9 332.9,285.0 333.5,285.0 334.0,285.0 334.5,285.1 335.0,285.1 335.6,285.1 336.1,285.2 336.6,285.2 337.1,285.2 337.7,285.3 338.2,285.3 338.7,285.3 339.2,285.3 339.8,285.3 340.3,285.3 340.8,285.4 341.3,285.4 341.9,285.4 342.4,285.4 342.9,285.4 343.5,285.4 344.0,285.4 344.5,285.4 345.0,285.4 345.6,285.4 346.1,285.5 346.6,285.5 347.1,285.5 347.7,285.5 348.2,285.5 348.7,285.5 349.2,285.5 349.8,285.5" stroke="#0000ff" stroke-width="2.0" fill="none" stroke-dasharray="0.35 3.35" stroke-linecap="round" clip-path="url(#cBL)"/>
<path d="M349.5,147.6 350.0,147.5 350.6,147.3 351.1,147.2 351.6,147.0 352.1,146.9 352.7,146.7 353.2,146.6 353.7,146.4 354.2,146.3 354.8,146.1 355.3,145.9 355.8,145.8 356.3,145.6 356.9,145.4 357.4,145.3 357.9,145.1 358.4,145.0 359.0,144.8 359.5,144.7 360.0,144.5 360.5,144.4 361.1,144.3 361.6,144.2 362.1,144.0 362.6,143.9 363.2,143.8 363.7,143.7 364.2,143.6 364.7,143.6 365.3,143.5 365.8,143.4 366.3,143.4 366.8,143.3 367.4,143.3 367.9,143.2 368.4,143.2 368.9,143.2 369.5,143.1 370.0,143.0 370.5,142.9 371.0,142.8 371.6,142.6 372.1,142.4 372.6,142.1 373.1,141.7 373.7,141.2 374.2,140.6 374.7,139.8 375.2,138.9 375.8,137.8 376.3,136.5 376.8,135.1 377.3,133.4 377.9,131.5 378.4,129.4 378.9,127.1 379.4,124.7 380.0,122.0 380.5,119.2 381.0,116.3 381.5,113.3 382.1,110.3 382.6,107.3 383.1,104.4 383.6,101.6 384.2,98.9 384.7,96.5 385.2,94.4 385.7,92.5 386.3,91.1 386.8,90.0 387.3,89.4 387.8,89.1 388.4,89.4 388.9,90.0 389.4,91.1 389.9,92.6 390.5,94.4 391.0,96.6 391.5,99.0 392.0,101.7 392.6,104.5 393.1,107.5 393.6,110.5 394.2,113.6 394.7,116.7 395.2,119.7 395.7,122.6 396.3,125.3 396.8,127.9 397.3,130.3 397.8,132.6 398.4,134.7 398.9,136.5 399.4,138.2 399.9,139.7 400.5,141.0 401.0,142.1 401.5,143.1 402.0,144.0 402.6,144.7 403.1,145.3 403.6,145.9 404.1,146.3 404.7,146.7 405.2,147.0 405.7,147.3 406.2,147.5 406.8,147.7 407.3,147.9 407.8,148.0 408.3,148.1 408.9,148.2 409.4,148.3 409.9,148.4 410.4,148.5 411.0,148.5 411.5,148.6 412.0,148.6 412.5,148.7 413.1,148.7 413.6,148.8 414.1,148.8 414.6,148.8 415.2,148.9 415.7,148.9 416.2,148.9 416.7,149.0 417.3,149.0 417.8,149.0 418.3,149.0 418.8,149.0 419.4,149.0 419.9,149.0 420.4,149.1 420.9,149.1 421.5,149.1 422.0,149.1 422.5,149.1 423.0,149.1 423.6,149.1 424.1,149.1 424.6,149.1 425.1,149.1 425.7,149.1 426.2,149.1 426.7,149.1 427.2,149.1 427.8,149.1 428.3,149.1 428.8,149.1 429.3,149.1 429.9,149.1 430.4,149.1 430.9,149.1 431.4,149.1 432.0,149.1 432.5,149.1 433.0,149.1 433.5,149.1 434.1,149.1 434.6,149.1 435.1,149.1 435.6,149.1 436.2,149.1 436.7,149.1 437.2,149.1 437.8,149.1 438.3,149.1 438.8,149.1 439.3,149.1 439.9,149.1 440.4,149.1 440.9,149.1 441.4,149.1 442.0,149.1 442.5,149.1 443.0,149.1 443.5,149.1 444.1,149.1 444.6,149.1 445.1,149.1 445.6,149.1 446.2,149.1 446.7,149.1 447.2,149.1 447.7,149.1 448.3,149.1 448.8,149.1 449.3,149.1 449.8,149.1 450.4,149.1 450.9,149.1 451.4,149.1 451.9,149.1 452.5,149.1 453.0,149.1 453.5,149.1 454.0,149.1 454.6,149.1 455.1,149.1 455.6,149.1 456.1,149.1 456.7,149.1 457.2,149.1 457.7,149.1 458.2,149.1 458.8,149.1 459.3,149.1 459.8,149.1 460.3,149.1 460.9,149.1 461.4,149.1 461.9,149.1 462.4,149.1 463.0,149.1 463.5,149.1 464.0,149.1 464.5,149.1 465.1,149.1 465.6,149.1 466.1,149.1 466.6,149.1 467.2,149.1 467.7,149.1 468.2,149.1 468.7,149.1 469.3,149.1 469.8,149.0 470.3,149.0 470.8,149.0 471.4,149.0 471.9,149.0 472.4,149.0 472.9,149.0 473.5,149.0 474.0,149.0 474.5,149.0 475.0,148.9 475.6,148.9 476.1,148.9 476.6,148.9 477.1,148.9 477.7,148.9 478.2,148.9 478.7,148.9 479.2,148.8 479.8,148.8 480.3,148.8 480.8,148.8 481.4,148.8 481.9,148.8 482.4,148.8 482.9,148.7 483.5,148.7 484.0,148.7 484.5,148.7 485.0,148.7 485.6,148.7 486.1,148.7 486.6,148.7 487.1,148.7 487.7,148.7 488.2,148.7 488.7,148.7 489.2,148.7 489.8,148.7 490.3,148.7 490.8,148.7 491.3,148.7 491.9,148.7 492.4,148.7 492.9,148.7 493.4,148.8 494.0,148.8 494.5,148.8 495.0,148.8 495.5,148.8 496.1,148.8 496.6,148.8 497.1,148.8 497.6,148.9 498.2,148.9 498.7,148.9 499.2,148.9 499.7,148.9 500.3,148.9 500.8,148.9 501.3,148.9 501.8,148.9 502.4,148.9 502.9,148.9 503.4,148.9 503.9,148.9 504.5,148.9 505.0,148.9 505.5,148.9 506.0,148.9 506.6,148.8 507.1,148.8 507.6,148.8 508.1,148.8 508.7,148.7 509.2,148.7 509.7,148.7 510.2,148.6 510.8,148.6 511.3,148.5 511.8,148.5 512.3,148.4 512.9,148.4 513.4,148.3 513.9,148.2 514.4,148.2 515.0,148.1 515.5,148.0 516.0,148.0 516.5,147.9 517.1,147.8 517.6,147.8 518.1,147.7 518.6,147.6 519.2,147.6 519.7,147.5 520.2,147.4 520.7,147.4 521.3,147.3 521.8,147.3 522.3,147.2 522.8,147.2 523.4,147.1 523.9,147.1 524.4,147.0 525.0,147.0 525.5,147.0 526.0,147.0 526.5,147.0 527.1,147.0 527.6,147.0 528.1,147.0 528.6,147.0 529.2,147.0 529.7,147.1 530.2,147.1 530.7,147.1 531.3,147.2 531.8,147.2 532.3,147.3 532.8,147.3 533.4,147.4 533.9,147.5 534.4,147.5 534.9,147.6 535.5,147.7 536.0,147.7 536.5,147.8 537.0,147.9 537.6,147.9 538.1,148.0 538.6,148.1 539.1,148.1 539.7,148.2 540.2,148.3 540.7,148.3 541.2,148.4 541.8,148.4 542.3,148.5 542.8,148.5 543.3,148.6 543.9,148.6 544.4,148.7 544.9,148.7 545.4,148.8 546.0,148.8 546.5,148.8 547.0,148.8 547.5,148.9 548.1,148.9 548.6,148.9 549.1,148.9 549.6,148.9 550.2,149.0 550.7,149.0 551.2,149.0 551.7,149.0 552.3,149.0 552.8,149.0 553.3,149.0 553.8,149.0 554.4,149.0 554.9,149.0 555.4,148.9 555.9,148.9 556.5,148.9 557.0,148.9 557.5,148.9 558.0,148.8 558.6,148.8 559.1,148.8 559.6,148.7 560.1,148.7 560.7,148.6 561.2,148.6 561.7,148.5 562.2,148.5 562.8,148.5 563.3,148.4 563.8,148.4 564.3,148.3 564.9,148.3 565.4,148.2 565.9,148.2 566.4,148.2 567.0,148.1 567.5,148.1 568.0,148.1 568.6,148.1 569.1,148.0 569.6,148.0 570.1,148.0 570.7,148.0 571.2,148.0 571.7,148.1 572.2,148.1 572.8,148.1 573.3,148.1 573.8,148.2 574.3,148.2 574.9,148.2 575.4,148.3 575.9,148.3 576.4,148.4 577.0,148.4 577.5,148.5 578.0,148.5 578.5,148.6 579.1,148.6 579.6,148.7 580.1,148.7 580.6,148.8 581.2,148.8 581.7,148.8 582.2,148.9 582.7,148.9 583.3,148.9 583.8,149.0 584.3,149.0 584.8,149.0 585.4,149.1 585.9,149.1 586.4,149.1 586.9,149.1 587.5,149.1 588.0,149.1 588.5,149.1 589.0,149.1 589.6,149.1 590.1,149.1 590.6,149.1 591.1,149.1 591.7,149.1 592.2,149.1 592.7,149.1 593.2,149.1 593.8,149.1 594.3,149.1 594.8,149.1 595.3,149.1 595.9,149.1 596.4,149.1 596.9,149.1 597.4,149.1 598.0,149.1 598.5,149.1 599.0,149.1 599.5,149.1 600.1,149.1 600.6,149.1 601.1,149.1 601.6,149.1" stroke="#000000" stroke-width="2.0" fill="none" stroke-linecap="square" stroke-linejoin="round" clip-path="url(#cTR)"/>
<path d="M349.5,147.6 350.0,147.5 350.6,147.4 351.1,147.2 351.6,147.1 352.1,146.9 352.7,146.8 353.2,146.6 353.7,146.5 354.2,146.3 354.8,146.2 355.3,146.0 355.8,145.8 356.3,145.7 356.9,145.5 357.4,145.4 357.9,145.2 358.4,145.1 359.0,144.9 359.5,144.8 360.0,144.6 360.5,144.5 361.1,144.3 361.6,144.2 362.1,144.1 362.6,144.0 363.2,143.9 363.7,143.7 364.2,143.6 364.7,143.5 365.3,143.4 365.8,143.4 366.3,143.3 366.8,143.2 367.4,143.1 367.9,143.0 368.4,142.9 368.9,142.8 369.5,142.7 370.0,142.5 370.5,142.3 371.0,142.0 371.6,141.7 372.1,141.3 372.6,140.8 373.1,140.2 373.7,139.5 374.2,138.6 374.7,137.6 375.2,136.4 375.8,135.1 376.3,133.5 376.8,131.8 377.3,129.8 377.9,127.7 378.4,125.4 378.9,122.9 379.4,120.3 380.0,117.5 380.5,114.6 381.0,111.7 381.5,108.8 382.1,105.8 382.6,103.0 383.1,100.3 383.6,97.8 384.2,95.5 384.7,93.5 385.2,91.8 385.7,90.5 386.3,89.6 386.8,89.2 387.3,89.1 387.8,89.6 388.4,90.4 388.9,91.7 389.4,93.4 389.9,95.5 390.5,97.9 391.0,100.5 391.5,103.4 392.0,106.5 392.6,109.6 393.1,112.8 393.6,116.0 394.2,119.2 394.7,122.3 395.2,125.2 395.7,128.0 396.3,130.6 396.8,133.0 397.3,135.2 397.8,137.2 398.4,139.0 398.9,140.6 399.4,142.0 399.9,143.2 400.5,144.2 401.0,145.1 401.5,145.9 402.0,146.5 402.6,147.0 403.1,147.4 403.6,147.8 404.1,148.1 404.7,148.3 405.2,148.5 405.7,148.6 406.2,148.7 406.8,148.8 407.3,148.9 407.8,148.9 408.3,149.0 408.9,149.0 409.4,149.0 409.9,149.1 410.4,149.1 411.0,149.1 411.5,149.1 412.0,149.1 412.5,149.1 413.1,149.1 413.6,149.1 414.1,149.1 414.6,149.1 415.2,149.1 415.7,149.1 416.2,149.1 416.7,149.1 417.3,149.1 417.8,149.1 418.3,149.1 418.8,149.1 419.4,149.1 419.9,149.1 420.4,149.1 420.9,149.1 421.5,149.1 422.0,149.1 422.5,149.1 423.0,149.1 423.6,149.1 424.1,149.1 424.6,149.1 425.1,149.1 425.7,149.1 426.2,149.1 426.7,149.1 427.2,149.1 427.8,149.1 428.3,149.1 428.8,149.1 429.3,149.1 429.9,149.1 430.4,149.1 430.9,149.1 431.4,149.1 432.0,149.1 432.5,149.1 433.0,149.1 433.5,149.1 434.1,149.1 434.6,149.1 435.1,149.1 435.6,149.1 436.2,149.1 436.7,149.1 437.2,149.1 437.8,149.1 438.3,149.1 438.8,149.1 439.3,149.1 439.9,149.1 440.4,149.1 440.9,149.1 441.4,149.1 442.0,149.1 442.5,149.1 443.0,149.1 443.5,149.1 444.1,149.1 444.6,149.1 445.1,149.1 445.6,149.1 446.2,149.1 446.7,149.1 447.2,149.1 447.7,149.1 448.3,149.1 448.8,149.1 449.3,149.1 449.8,149.1 450.4,149.1 450.9,149.1 451.4,149.1 451.9,149.1 452.5,149.1 453.0,149.1 453.5,149.1 454.0,149.1 454.6,149.1 455.1,149.1 455.6,149.1 456.1,149.1 456.7,149.1 457.2,149.1 457.7,149.1 458.2,149.1 458.8,149.1 459.3,149.1 459.8,149.1 460.3,149.1 460.9,149.1 461.4,149.1 461.9,149.1 462.4,149.1 463.0,149.1 463.5,149.1 464.0,149.1 464.5,149.1 465.1,149.1 465.6,149.1 466.1,149.1 466.6,149.1 467.2,149.1 467.7,149.1 468.2,149.1 468.7,149.1 469.3,149.1 469.8,149.0 470.3,149.0 470.8,149.0 471.4,149.0 471.9,149.0 472.4,149.0 472.9,149.0 473.5,149.0 474.0,148.9 474.5,148.9 475.0,148.9 475.6,148.9 476.1,148.9 476.6,148.9 477.1,148.8 477.7,148.8 478.2,148.8 478.7,148.8 479.2,148.8 479.8,148.7 480.3,148.7 480.8,148.7 481.4,148.7 481.9,148.7 482.4,148.6 482.9,148.6 483.5,148.6 484.0,148.6 484.5,148.6 485.0,148.6 485.6,148.6 486.1,148.6 486.6,148.6 487.1,148.6 487.7,148.6 488.2,148.6 488.7,148.6 489.2,148.6 489.8,148.6 490.3,148.6 490.8,148.6 491.3,148.6 491.9,148.6 492.4,148.6 492.9,148.6 493.4,148.7 494.0,148.7 494.5,148.7 495.0,148.7 495.5,148.7 496.1,148.7 496.6,148.7 497.1,148.7 497.6,148.7 498.2,148.7 498.7,148.6 499.2,148.6 499.7,148.6 500.3,148.5 500.8,148.5 501.3,148.4 501.8,148.4 502.4,148.3 502.9,148.2 503.4,148.1 503.9,148.0 504.5,147.9 505.0,147.8 505.5,147.7 506.0,147.5 506.6,147.4 507.1,147.2 507.6,147.0 508.1,146.8 508.7,146.6 509.2,146.4 509.7,146.1 510.2,145.9 510.8,145.6 511.3,145.3 511.8,145.0 512.3,144.7 512.9,144.4 513.4,144.1 513.9,143.7 514.4,143.4 515.0,143.1 515.5,142.7 516.0,142.4 516.5,142.0 517.1,141.6 517.6,141.3 518.1,140.9 518.6,140.6 519.2,140.2 519.7,139.9 520.2,139.6 520.7,139.3 521.3,139.0 521.8,138.7 522.3,138.4 522.8,138.2 523.4,138.0 523.9,137.8 524.4,137.6 525.0,137.5 525.5,137.4 526.0,137.3 526.5,137.2 527.1,137.2 527.6,137.2 528.1,137.2 528.6,137.3 529.2,137.3 529.7,137.5 530.2,137.6 530.7,137.8 531.3,137.9 531.8,138.1 532.3,138.4 532.8,138.6 533.4,138.9 533.9,139.2 534.4,139.5 534.9,139.8 535.5,140.1 536.0,140.5 536.5,140.8 537.0,141.2 537.6,141.5 538.1,141.9 538.6,142.2 539.1,142.6 539.7,142.9 540.2,143.2 540.7,143.6 541.2,143.9 541.8,144.2 542.3,144.5 542.8,144.8 543.3,145.1 543.9,145.3 544.4,145.6 544.9,145.8 545.4,146.0 546.0,146.2 546.5,146.4 547.0,146.5 547.5,146.7 548.1,146.8 548.6,146.9 549.1,147.0 549.6,147.0 550.2,147.0 550.7,147.0 551.2,147.0 551.7,147.0 552.3,146.9 552.8,146.8 553.3,146.7 553.8,146.6 554.4,146.4 554.9,146.2 555.4,146.0 555.9,145.8 556.5,145.5 557.0,145.3 557.5,145.0 558.0,144.6 558.6,144.3 559.1,144.0 559.6,143.6 560.1,143.2 560.7,142.9 561.2,142.5 561.7,142.1 562.2,141.7 562.8,141.4 563.3,141.0 563.8,140.6 564.3,140.3 564.9,140.0 565.4,139.7 565.9,139.4 566.4,139.1 567.0,138.9 567.5,138.7 568.0,138.6 568.6,138.5 569.1,138.4 569.6,138.4 570.1,138.4 570.7,138.4 571.2,138.5 571.7,138.6 572.2,138.7 572.8,138.9 573.3,139.1 573.8,139.4 574.3,139.6 574.9,139.9 575.4,140.2 575.9,140.6 576.4,140.9 577.0,141.3 577.5,141.7 578.0,142.0 578.5,142.4 579.1,142.8 579.6,143.2 580.1,143.5 580.6,143.9 581.2,144.2 581.7,144.6 582.2,144.9 582.7,145.2 583.3,145.5 583.8,145.8 584.3,146.0 584.8,146.3 585.4,146.5 585.9,146.7 586.4,146.9 586.9,147.1 587.5,147.3 588.0,147.4 588.5,147.5 589.0,147.7 589.6,147.8 590.1,147.9 590.6,148.0 591.1,148.1 591.7,148.2 592.2,148.3 592.7,148.3 593.2,148.4 593.8,148.5 594.3,148.5 594.8,148.6 595.3,148.6 595.9,148.7 596.4,148.7 596.9,148.7 597.4,148.8 598.0,148.8 598.5,148.8 599.0,148.9 599.5,148.9 600.1,148.9 600.6,149.0 601.1,149.0 601.6,149.0" stroke="#ff0000" stroke-width="2.0" fill="none" stroke-dasharray="7.8 2.9" stroke-linecap="butt" clip-path="url(#cTR)"/>
<path d="M349.5,147.6 350.0,147.5 350.6,147.3 351.1,147.2 351.6,147.0 352.1,146.9 352.7,146.7 353.2,146.6 353.7,146.4 354.2,146.3 354.8,146.1 355.3,145.9 355.8,145.8 356.3,145.6 356.9,145.4 357.4,145.3 357.9,145.1 358.4,145.0 359.0,144.8 359.5,144.7 360.0,144.5 360.5,144.4 361.1,144.3 361.6,144.1 362.1,144.0 362.6,143.9 363.2,143.8 363.7,143.7 364.2,143.6 364.7,143.5 365.3,143.4 365.8,143.4 366.3,143.3 366.8,143.2 367.4,143.2 367.9,143.1 368.4,143.0 368.9,142.9 369.5,142.8 370.0,142.7 370.5,142.5 371.0,142.2 371.6,141.9 372.1,141.5 372.6,141.1 373.1,140.5 373.7,139.8 374.2,138.9 374.7,137.9 375.2,136.7 375.8,135.3 376.3,133.7 376.8,131.9 377.3,129.9 377.9,127.7 378.4,125.4 378.9,122.8 379.4,120.1 380.0,117.3 380.5,114.3 381.0,111.3 381.5,108.4 382.1,105.4 382.6,102.6 383.1,99.9 383.6,97.4 384.2,95.1 384.7,93.2 385.2,91.6 385.7,90.4 386.3,89.6 386.8,89.2 387.3,89.2 387.8,89.7 388.4,90.7 388.9,92.0 389.4,93.7 389.9,95.7 390.5,98.1 391.0,100.7 391.5,103.4 392.0,106.4 392.6,109.4 393.1,112.5 393.6,115.5 394.2,118.6 394.7,121.5 395.2,124.3 395.7,127.0 396.3,129.5 396.8,131.8 397.3,133.9 397.8,135.8 398.4,137.6 398.9,139.1 399.4,140.5 399.9,141.7 400.5,142.7 401.0,143.6 401.5,144.4 402.0,145.1 402.6,145.6 403.1,146.1 403.6,146.5 404.1,146.8 404.7,147.1 405.2,147.3 405.7,147.5 406.2,147.7 406.8,147.9 407.3,148.0 407.8,148.1 408.3,148.2 408.9,148.3 409.4,148.3 409.9,148.4 410.4,148.5 411.0,148.5 411.5,148.6 412.0,148.6 412.5,148.7 413.1,148.7 413.6,148.8 414.1,148.8 414.6,148.8 415.2,148.9 415.7,148.9 416.2,148.9 416.7,149.0 417.3,149.0 417.8,149.0 418.3,149.0 418.8,149.0 419.4,149.0 419.9,149.0 420.4,149.1 420.9,149.1 421.5,149.1 422.0,149.1 422.5,149.1 423.0,149.1 423.6,149.1 424.1,149.1 424.6,149.1 425.1,149.1 425.7,149.1 426.2,149.1 426.7,149.1 427.2,149.1 427.8,149.1 428.3,149.1 428.8,149.1 429.3,149.1 429.9,149.1 430.4,149.1 430.9,149.1 431.4,149.1 432.0,149.1 432.5,149.1 433.0,149.1 433.5,149.1 434.1,149.1 434.6,149.1 435.1,149.1 435.6,149.1 436.2,149.1 436.7,149.1 437.2,149.1 437.8,149.1 438.3,149.1 438.8,149.1 439.3,149.1 439.9,149.1 440.4,149.1 440.9,149.1 441.4,149.1 442.0,149.1 442.5,149.1 443.0,149.1 443.5,149.1 444.1,149.1 444.6,149.1 445.1,149.1 445.6,149.1 446.2,149.1 446.7,149.1 447.2,149.1 447.7,149.1 448.3,149.1 448.8,149.1 449.3,149.1 449.8,149.1 450.4,149.1 450.9,149.1 451.4,149.1 451.9,149.1 452.5,149.1 453.0,149.1 453.5,149.1 454.0,149.1 454.6,149.1 455.1,149.1 455.6,149.1 456.1,149.1 456.7,149.1 457.2,149.1 457.7,149.1 458.2,149.1 458.8,149.1 459.3,149.1 459.8,149.1 460.3,149.1 460.9,149.1 461.4,149.1 461.9,149.1 462.4,149.1 463.0,149.1 463.5,149.1 464.0,149.1 464.5,149.1 465.1,149.1 465.6,149.1 466.1,149.1 466.6,149.1 467.2,149.1 467.7,149.1 468.2,149.0 468.7,149.0 469.3,149.0 469.8,149.0 470.3,149.0 470.8,149.0 471.4,149.0 471.9,148.9 472.4,148.9 472.9,148.9 473.5,148.9 474.0,148.8 474.5,148.8 475.0,148.8 475.6,148.7 476.1,148.7 476.6,148.7 477.1,148.6 477.7,148.6 478.2,148.6 478.7,148.5 479.2,148.5 479.8,148.4 480.3,148.4 480.8,148.4 481.4,148.3 481.9,148.3 482.4,148.3 482.9,148.2 483.5,148.2 484.0,148.2 484.5,148.1 485.0,148.1 485.6,148.1 486.1,148.1 486.6,148.1 487.1,148.1 487.7,148.0 488.2,148.0 488.7,148.0 489.2,148.0 489.8,148.1 490.3,148.1 490.8,148.1 491.3,148.1 491.9,148.1 492.4,148.2 492.9,148.2 493.4,148.2 494.0,148.3 494.5,148.3 495.0,148.3 495.5,148.4 496.1,148.4 496.6,148.4 497.1,148.5 497.6,148.5 498.2,148.5 498.7,148.6 499.2,148.6 499.7,148.6 500.3,148.6 500.8,148.7 501.3,148.7 501.8,148.7 502.4,148.7 502.9,148.7 503.4,148.6 503.9,148.6 504.5,148.6 505.0,148.5 505.5,148.5 506.0,148.4 506.6,148.3 507.1,148.2 507.6,148.1 508.1,148.0 508.7,147.9 509.2,147.7 509.7,147.6 510.2,147.4 510.8,147.2 511.3,147.0 511.8,146.7 512.3,146.5 512.9,146.2 513.4,145.9 513.9,145.6 514.4,145.3 515.0,145.0 515.5,144.6 516.0,144.3 516.5,143.9 517.1,143.5 517.6,143.2 518.1,142.8 518.6,142.4 519.2,142.0 519.7,141.6 520.2,141.2 520.7,140.8 521.3,140.5 521.8,140.1 522.3,139.8 522.8,139.5 523.4,139.2 523.9,138.9 524.4,138.6 525.0,138.4 525.5,138.2 526.0,138.1 526.5,138.0 527.1,137.9 527.6,137.8 528.1,137.8 528.6,137.8 529.2,137.9 529.7,138.0 530.2,138.1 530.7,138.3 531.3,138.5 531.8,138.7 532.3,138.9 532.8,139.2 533.4,139.5 533.9,139.8 534.4,140.2 534.9,140.5 535.5,140.9 536.0,141.2 536.5,141.6 537.0,142.0 537.6,142.4 538.1,142.7 538.6,143.1 539.1,143.5 539.7,143.8 540.2,144.2 540.7,144.5 541.2,144.8 541.8,145.1 542.3,145.4 542.8,145.7 543.3,146.0 543.9,146.2 544.4,146.5 544.9,146.7 545.4,146.9 546.0,147.0 546.5,147.2 547.0,147.4 547.5,147.5 548.1,147.6 548.6,147.7 549.1,147.8 549.6,147.9 550.2,148.0 550.7,148.0 551.2,148.1 551.7,148.1 552.3,148.1 552.8,148.1 553.3,148.1 553.8,148.1 554.4,148.0 554.9,148.0 555.4,147.9 555.9,147.8 556.5,147.7 557.0,147.5 557.5,147.4 558.0,147.2 558.6,147.0 559.1,146.8 559.6,146.6 560.1,146.4 560.7,146.1 561.2,145.9 561.7,145.6 562.2,145.3 562.8,145.0 563.3,144.7 563.8,144.4 564.3,144.2 564.9,143.9 565.4,143.6 565.9,143.3 566.4,143.1 567.0,142.9 567.5,142.7 568.0,142.5 568.6,142.4 569.1,142.3 569.6,142.2 570.1,142.1 570.7,142.1 571.2,142.2 571.7,142.2 572.2,142.3 572.8,142.5 573.3,142.6 573.8,142.8 574.3,143.0 574.9,143.3 575.4,143.5 575.9,143.8 576.4,144.1 577.0,144.4 577.5,144.7 578.0,145.0 578.5,145.3 579.1,145.6 579.6,145.9 580.1,146.2 580.6,146.5 581.2,146.7 581.7,147.0 582.2,147.2 582.7,147.4 583.3,147.6 583.8,147.8 584.3,148.0 584.8,148.2 585.4,148.3 585.9,148.4 586.4,148.6 586.9,148.7 587.5,148.8 588.0,148.8 588.5,148.9 589.0,149.0 589.6,149.0 590.1,149.1 590.6,149.1 591.1,149.1 591.7,149.1 592.2,149.1 592.7,149.1 593.2,149.1 593.8,149.1 594.3,149.1 594.8,149.1 595.3,149.1 595.9,149.1 596.4,149.1 596.9,149.1 597.4,149.1 598.0,149.1 598.5,149.1 599.0,149.1 599.5,149.1 600.1,149.1 600.6,149.1 601.1,149.1 601.6,149.1" stroke="#008000" stroke-width="2.0" fill="none" stroke-dasharray="4.6 2.2 1.2 2.2" stroke-linecap="butt" clip-path="url(#cTR)"/>
<path d="M349.5,147.6 350.0,147.5 350.6,147.3 351.1,147.2 351.6,147.0 352.1,146.9 352.7,146.7 353.2,146.6 353.7,146.4 354.2,146.3 354.8,146.1 355.3,145.9 355.8,145.8 356.3,145.6 356.9,145.4 357.4,145.3 357.9,145.1 358.4,145.0 359.0,144.8 359.5,144.7 360.0,144.5 360.5,144.4 361.1,144.3 361.6,144.1 362.1,144.0 362.6,143.9 363.2,143.8 363.7,143.7 364.2,143.6 364.7,143.5 365.3,143.4 365.8,143.4 366.3,143.3 366.8,143.2 367.4,143.2 367.9,143.1 368.4,143.0 368.9,142.9 369.5,142.8 370.0,142.7 370.5,142.5 371.0,142.2 371.6,141.9 372.1,141.5 372.6,141.1 373.1,140.5 373.7,139.8 374.2,138.9 374.7,137.9 375.2,136.7 375.8,135.3 376.3,133.7 376.8,131.9 377.3,129.9 377.9,127.7 378.4,125.4 378.9,122.8 379.4,120.1 380.0,117.3 380.5,114.3 381.0,111.3 381.5,108.4 382.1,105.4 382.6,102.6 383.1,99.9 383.6,97.4 384.2,95.1 384.7,93.2 385.2,91.6 385.7,90.4 386.3,89.6 386.8,89.2 387.3,89.2 387.8,89.7 388.4,90.7 388.9,92.0 389.4,93.7 389.9,95.7 390.5,98.1 391.0,100.7 391.5,103.4 392.0,106.4 392.6,109.4 393.1,112.5 393.6,115.5 394.2,118.6 394.7,121.5 395.2,124.3 395.7,127.0 396.3,129.5 396.8,131.8 397.3,133.9 397.8,135.8 398.4,137.6 398.9,139.1 399.4,140.5 399.9,141.7 400.5,142.7 401.0,143.6 401.5,144.4 402.0,145.1 402.6,145.6 403.1,146.1 403.6,146.5 404.1,146.8 404.7,147.1 405.2,147.3 405.7,147.5 406.2,147.7 406.8,147.9 407.3,148.0 407.8,148.1 408.3,148.2 408.9,148.3 409.4,148.3 409.9,148.4 410.4,148.5 411.0,148.5 411.5,148.6 412.0,148.6 412.5,148.7 413.1,148.7 413.6,148.8 414.1,148.8 414.6,148.8 415.2,148.9 415.7,148.9 416.2,148.9 416.7,149.0 417.3,149.0 417.8,149.0 418.3,149.0 418.8,149.0 419.4,149.0 419.9,149.0 420.4,149.1 420.9,149.1 421.5,149.1 422.0,149.1 422.5,149.1 423.0,149.1 423.6,149.1 424.1,149.1 424.6,149.1 425.1,149.1 425.7,149.1 426.2,149.1 426.7,149.1 427.2,149.1 427.8,149.1 428.3,149.1 428.8,149.1 429.3,149.1 429.9,149.1 430.4,149.1 430.9,149.1 431.4,149.1 432.0,149.1 432.5,149.1 433.0,149.1 433.5,149.1 434.1,149.1 434.6,149.1 435.1,149.1 435.6,149.1 436.2,149.1 436.7,149.1 437.2,149.1 437.8,149.1 438.3,149.1 438.8,149.1 439.3,149.1 439.9,149.1 440.4,149.1 440.9,149.1 441.4,149.1 442.0,149.1 442.5,149.1 443.0,149.1 443.5,149.1 444.1,149.1 444.6,149.1 445.1,149.1 445.6,149.1 446.2,149.1 446.7,149.1 447.2,149.1 447.7,149.1 448.3,149.1 448.8,149.1 449.3,149.1 449.8,149.1 450.4,149.1 450.9,149.1 451.4,149.1 451.9,149.1 452.5,149.1 453.0,149.1 453.5,149.1 454.0,149.1 454.6,149.1 455.1,149.1 455.6,149.1 456.1,149.1 456.7,149.1 457.2,149.1 457.7,149.1 458.2,149.1 458.8,149.1 459.3,149.1 459.8,149.1 460.3,149.1 460.9,149.1 461.4,149.1 461.9,149.1 462.4,149.1 463.0,149.1 463.5,149.1 464.0,149.1 464.5,149.1 465.1,149.1 465.6,149.1 466.1,149.1 466.6,149.1 467.2,149.1 467.7,149.1 468.2,149.1 468.7,149.1 469.3,149.1 469.8,149.1 470.3,149.1 470.8,149.0 471.4,149.0 471.9,149.0 472.4,149.0 472.9,149.0 473.5,149.0 474.0,149.0 474.5,149.0 475.0,149.0 475.6,149.0 476.1,148.9 476.6,148.9 477.1,148.9 477.7,148.9 478.2,148.9 478.7,148.9 479.2,148.9 479.8,148.8 480.3,148.8 480.8,148.8 481.4,148.8 481.9,148.8 482.4,148.8 482.9,148.8 483.5,148.8 484.0,148.7 484.5,148.7 485.0,148.7 485.6,148.7 486.1,148.7 486.6,148.7 487.1,148.7 487.7,148.7 488.2,148.7 488.7,148.7 489.2,148.7 489.8,148.7 490.3,148.7 490.8,148.7 491.3,148.7 491.9,148.7 492.4,148.7 492.9,148.7 493.4,148.7 494.0,148.7 494.5,148.7 495.0,148.7 495.5,148.7 496.1,148.7 496.6,148.7 497.1,148.7 497.6,148.7 498.2,148.7 498.7,148.6 499.2,148.6 499.7,148.6 500.3,148.6 500.8,148.5 501.3,148.5 501.8,148.4 502.4,148.3 502.9,148.3 503.4,148.2 503.9,148.1 504.5,148.0 505.0,147.9 505.5,147.7 506.0,147.6 506.6,147.4 507.1,147.3 507.6,147.1 508.1,146.9 508.7,146.7 509.2,146.4 509.7,146.2 510.2,145.9 510.8,145.6 511.3,145.4 511.8,145.0 512.3,144.7 512.9,144.4 513.4,144.0 513.9,143.7 514.4,143.3 515.0,142.9 515.5,142.5 516.0,142.1 516.5,141.7 517.1,141.3 517.6,140.9 518.1,140.5 518.6,140.1 519.2,139.7 519.7,139.4 520.2,139.0 520.7,138.7 521.3,138.3 521.8,138.0 522.3,137.7 522.8,137.5 523.4,137.2 523.9,137.0 524.4,136.9 525.0,136.7 525.5,136.6 526.0,136.5 526.5,136.5 527.1,136.5 527.6,136.5 528.1,136.5 528.6,136.6 529.2,136.8 529.7,136.9 530.2,137.1 530.7,137.3 531.3,137.5 531.8,137.8 532.3,138.0 532.8,138.3 533.4,138.6 533.9,139.0 534.4,139.3 534.9,139.6 535.5,140.0 536.0,140.3 536.5,140.7 537.0,141.0 537.6,141.4 538.1,141.7 538.6,142.0 539.1,142.3 539.7,142.6 540.2,142.9 540.7,143.2 541.2,143.5 541.8,143.7 542.3,144.0 542.8,144.2 543.3,144.4 543.9,144.6 544.4,144.8 544.9,145.0 545.4,145.1 546.0,145.2 546.5,145.4 547.0,145.5 547.5,145.6 548.1,145.6 548.6,145.7 549.1,145.7 549.6,145.7 550.2,145.8 550.7,145.7 551.2,145.7 551.7,145.7 552.3,145.6 552.8,145.5 553.3,145.4 553.8,145.3 554.4,145.1 554.9,145.0 555.4,144.8 555.9,144.6 556.5,144.3 557.0,144.0 557.5,143.8 558.0,143.4 558.6,143.1 559.1,142.8 559.6,142.4 560.1,142.0 560.7,141.6 561.2,141.2 561.7,140.8 562.2,140.4 562.8,140.0 563.3,139.6 563.8,139.2 564.3,138.8 564.9,138.4 565.4,138.1 565.9,137.8 566.4,137.5 567.0,137.2 567.5,137.0 568.0,136.8 568.6,136.7 569.1,136.6 569.6,136.6 570.1,136.6 570.7,136.7 571.2,136.8 571.7,136.9 572.2,137.1 572.8,137.3 573.3,137.6 573.8,137.9 574.3,138.2 574.9,138.6 575.4,139.0 575.9,139.4 576.4,139.8 577.0,140.3 577.5,140.7 578.0,141.2 578.5,141.6 579.1,142.1 579.6,142.5 580.1,142.9 580.6,143.4 581.2,143.8 581.7,144.2 582.2,144.5 582.7,144.9 583.3,145.2 583.8,145.5 584.3,145.8 584.8,146.1 585.4,146.4 585.9,146.6 586.4,146.8 586.9,147.0 587.5,147.2 588.0,147.4 588.5,147.5 589.0,147.6 589.6,147.8 590.1,147.9 590.6,148.0 591.1,148.1 591.7,148.2 592.2,148.2 592.7,148.3 593.2,148.4 593.8,148.4 594.3,148.5 594.8,148.5 595.3,148.6 595.9,148.6 596.4,148.6 596.9,148.7 597.4,148.7 598.0,148.7 598.5,148.8 599.0,148.8 599.5,148.8 600.1,148.9 600.6,148.9 601.1,148.9 601.6,148.9" stroke="#0000ff" stroke-width="2.0" fill="none" stroke-dasharray="0.35 3.35" stroke-linecap="round" clip-path="url(#cTR)"/>
<path d="M465.1,148.0 465.6,147.9 466.1,147.9 466.6,147.8 467.2,147.8 467.7,147.7 468.2,147.6 468.7,147.6 469.3,147.5 469.8,147.4 470.3,147.4 470.8,147.3 471.4,147.2 471.9,147.1 472.4,147.0 472.9,146.9 473.5,146.8 474.0,146.7 474.5,146.6 475.0,146.4 475.6,146.3 476.1,146.2 476.6,146.1 477.1,145.9 477.7,145.8 478.2,145.6 478.7,145.5 479.2,145.4 479.8,145.2 480.3,145.1 480.8,144.9 481.4,144.8 481.9,144.7 482.4,144.6 482.9,144.5 483.5,144.3 484.0,144.3 484.5,144.2 485.0,144.1 485.6,144.0 486.1,144.0 486.6,143.9 487.1,143.9 487.7,143.9 488.2,143.9 488.7,143.9 489.2,143.9 489.8,143.9 490.3,144.0 490.8,144.1 491.3,144.1 491.9,144.2 492.4,144.3 492.9,144.4 493.4,144.5 494.0,144.7 494.5,144.8 495.0,144.9 495.5,145.0 496.1,145.2 496.6,145.3 497.1,145.4 497.6,145.6 498.2,145.7 498.7,145.8 499.2,145.9 499.7,146.0 500.3,146.1 500.8,146.1 501.3,146.2 501.8,146.2 502.4,146.2 502.9,146.2 503.4,146.2 503.9,146.1 504.5,146.0 505.0,145.9 505.5,145.8 506.0,145.6 506.6,145.4 507.1,145.2 507.6,145.0 508.1,144.7 508.7,144.3 509.2,144.0 509.7,143.6 510.2,143.2 510.8,142.7 511.3,142.2 511.8,141.7 512.3,141.2 512.9,140.6 513.4,140.0 513.9,139.4 514.4,138.7 515.0,138.1 515.5,137.4 516.0,136.7 516.5,136.0 517.1,135.3 517.6,134.6 518.1,133.9 518.6,133.2 519.2,132.5 519.7,131.9 520.2,131.2 520.7,130.6 521.3,130.0 521.8,129.5 522.3,129.0 522.8,128.5 523.4,128.1 523.9,127.8 524.4,127.5 525.0,127.2 525.5,127.0 526.0,126.9 526.5,126.8 527.1,126.8 527.6,126.9 528.1,127.0 528.6,127.1 529.2,127.4 529.7,127.7 530.2,128.0 530.7,128.4 531.3,128.8 531.8,129.3 532.3,129.8 532.8,130.4 533.4,131.0 533.9,131.6 534.4,132.3 534.9,132.9 535.5,133.6 536.0,134.3 536.5,135.0 537.0,135.7 537.6,136.4 538.1,137.0 538.6,137.7 539.1,138.4 539.7,139.0 540.2,139.6 540.7,140.2 541.2,140.8 541.8,141.4 542.3,141.9 542.8,142.4 543.3,142.9 543.9,143.3 544.4,143.7 544.9,144.1 545.4,144.5 546.0,144.8 546.5,145.1 547.0,145.4 547.5,145.7 548.1,145.9 548.6,146.1 549.1,146.3 549.6,146.4 550.2,146.6 550.7,146.7 551.2,146.8 551.7,146.8 552.3,146.8 552.8,146.8 553.3,146.8 553.8,146.7 554.4,146.6 554.9,146.5 555.4,146.4 555.9,146.2 556.5,146.0 557.0,145.7 557.5,145.5 558.0,145.2 558.6,144.9 559.1,144.5 559.6,144.1 560.1,143.7 560.7,143.3 561.2,142.9 561.7,142.4 562.2,142.0 562.8,141.5 563.3,141.0 563.8,140.6 564.3,140.1 564.9,139.7 565.4,139.3 565.9,138.9 566.4,138.5 567.0,138.2 567.5,137.9 568.0,137.7 568.6,137.5 569.1,137.4 569.6,137.3 570.1,137.3 570.7,137.3 571.2,137.4 571.7,137.5 572.2,137.7 572.8,138.0 573.3,138.3 573.8,138.6 574.3,139.0 574.9,139.4 575.4,139.8 575.9,140.2 576.4,140.7 577.0,141.2 577.5,141.7 578.0,142.2 578.5,142.7 579.1,143.2 579.6,143.6 580.1,144.1 580.6,144.5 581.2,145.0 581.7,145.4 582.2,145.8 582.7,146.1 583.3,146.4 583.8,146.7 584.3,147.0 584.8,147.3 585.4,147.5 585.9,147.7 586.4,147.9 586.9,148.1 587.5,148.2 588.0,148.3 588.5,148.5 589.0,148.6 589.6,148.6 590.1,148.7 590.6,148.8 591.1,148.8 591.7,148.9 592.2,148.9 592.7,149.0 593.2,149.0 593.8,149.0 594.3,149.0 594.8,149.0 595.3,149.1 595.9,149.1 596.4,149.1 596.9,149.1 597.4,149.1 598.0,149.1 598.5,149.1 599.0,149.1 599.5,149.1 600.1,149.1 600.6,149.1 601.1,149.1 601.6,149.1" stroke="#000000" stroke-width="2.0" fill="none" stroke-linecap="square" stroke-linejoin="round" clip-path="url(#cTR)"/>
<path d="M465.1,147.9 465.6,147.9 466.1,147.8 466.6,147.8 467.2,147.7 467.7,147.7 468.2,147.6 468.7,147.5 469.3,147.5 469.8,147.4 470.3,147.3 470.8,147.2 471.4,147.1 471.9,147.0 472.4,146.8 472.9,146.7 473.5,146.6 474.0,146.4 474.5,146.2 475.0,146.1 475.6,145.9 476.1,145.7 476.6,145.5 477.1,145.3 477.7,145.1 478.2,144.9 478.7,144.7 479.2,144.5 479.8,144.3 480.3,144.1 480.8,143.9 481.4,143.7 481.9,143.5 482.4,143.3 482.9,143.1 483.5,143.0 484.0,142.9 484.5,142.8 485.0,142.7 485.6,142.6 486.1,142.5 486.6,142.5 487.1,142.5 487.7,142.5 488.2,142.5 488.7,142.6 489.2,142.6 489.8,142.7 490.3,142.8 490.8,142.9 491.3,143.0 491.9,143.2 492.4,143.3 492.9,143.4 493.4,143.5 494.0,143.6 494.5,143.7 495.0,143.8 495.5,143.8 496.1,143.8 496.6,143.8 497.1,143.8 497.6,143.7 498.2,143.5 498.7,143.3 499.2,143.1 499.7,142.8 500.3,142.4 500.8,141.9 501.3,141.4 501.8,140.8 502.4,140.0 502.9,139.2 503.4,138.3 503.9,137.3 504.5,136.2 505.0,134.9 505.5,133.6 506.0,132.1 506.6,130.5 507.1,128.7 507.6,126.9 508.1,124.8 508.7,122.7 509.2,120.4 509.7,118.0 510.2,115.5 510.8,112.8 511.3,110.0 511.8,107.1 512.3,104.1 512.9,101.0 513.4,97.7 513.9,94.4 514.4,91.0 515.0,87.5 515.5,84.0 516.0,80.5 516.5,76.9 517.1,73.3 517.6,69.7 518.1,66.2 518.6,62.7 519.2,59.3 519.7,56.0 520.2,52.8 520.7,49.7 521.3,46.7 521.8,44.0 522.3,41.4 522.8,39.0 523.4,36.8 523.9,34.9 524.4,33.2 525.0,31.8 525.5,30.6 526.0,29.7 526.5,29.1 527.1,28.8 527.6,28.7 528.1,29.0 528.6,29.5 529.2,30.3 529.7,31.4 530.2,32.8 530.7,34.4 531.3,36.3 531.8,38.4 532.3,40.7 532.8,43.3 533.4,46.0 533.9,48.9 534.4,51.9 534.9,55.1 535.5,58.3 536.0,61.7 536.5,65.1 537.0,68.6 537.6,72.1 538.1,75.6 538.6,79.1 539.1,82.6 539.7,86.0 540.2,89.4 540.7,92.7 541.2,95.9 541.8,99.1 542.3,102.1 542.8,104.9 543.3,107.7 543.9,110.3 544.4,112.7 544.9,115.0 545.4,117.1 546.0,119.0 546.5,120.8 547.0,122.3 547.5,123.7 548.1,124.8 548.6,125.7 549.1,126.5 549.6,127.0 550.2,127.3 550.7,127.3 551.2,127.1 551.7,126.7 552.3,126.1 552.8,125.2 553.3,124.0 553.8,122.7 554.4,121.1 554.9,119.2 555.4,117.1 555.9,114.8 556.5,112.2 557.0,109.5 557.5,106.5 558.0,103.4 558.6,100.1 559.1,96.7 559.6,93.1 560.1,89.4 560.7,85.7 561.2,81.9 561.7,78.0 562.2,74.2 562.8,70.5 563.3,66.8 563.8,63.2 564.3,59.8 564.9,56.6 565.4,53.6 565.9,50.8 566.4,48.3 567.0,46.2 567.5,44.3 568.0,42.8 568.6,41.6 569.1,40.9 569.6,40.5 570.1,40.4 570.7,40.8 571.2,41.6 571.7,42.7 572.2,44.2 572.8,46.0 573.3,48.1 573.8,50.6 574.3,53.3 574.9,56.2 575.4,59.4 575.9,62.7 576.4,66.2 577.0,69.8 577.5,73.5 578.0,77.2 578.5,81.0 579.1,84.7 579.6,88.4 580.1,92.1 580.6,95.7 581.2,99.1 581.7,102.5 582.2,105.7 582.7,108.8 583.3,111.7 583.8,114.5 584.3,117.1 584.8,119.5 585.4,121.8 585.9,124.0 586.4,125.9 586.9,127.8 587.5,129.4 588.0,131.0 588.5,132.4 589.0,133.7 589.6,134.9 590.1,136.0 590.6,137.0 591.1,137.9 591.7,138.8 592.2,139.5 592.7,140.3 593.2,140.9 593.8,141.5 594.3,142.1 594.8,142.6 595.3,143.1 595.9,143.5 596.4,144.0 596.9,144.4 597.4,144.7 598.0,145.1 598.5,145.4 599.0,145.7 599.5,146.0 600.1,146.3 600.6,146.5 601.1,146.8 601.6,147.0" stroke="#ff0000" stroke-width="2.0" fill="none" stroke-dasharray="7.8 2.9" stroke-linecap="butt" clip-path="url(#cTR)"/>
<path d="M465.1,147.2 465.6,147.2 466.1,147.1 466.6,147.0 467.2,146.9 467.7,146.8 468.2,146.7 468.7,146.6 469.3,146.4 469.8,146.3 470.3,146.1 470.8,146.0 471.4,145.8 471.9,145.6 472.4,145.3 472.9,145.1 473.5,144.9 474.0,144.6 474.5,144.3 475.0,144.0 475.6,143.7 476.1,143.4 476.6,143.0 477.1,142.7 477.7,142.3 478.2,141.9 478.7,141.5 479.2,141.1 479.8,140.7 480.3,140.4 480.8,140.0 481.4,139.6 481.9,139.2 482.4,138.9 482.9,138.5 483.5,138.2 484.0,137.9 484.5,137.6 485.0,137.4 485.6,137.2 486.1,137.0 486.6,136.9 487.1,136.8 487.7,136.7 488.2,136.7 488.7,136.7 489.2,136.7 489.8,136.8 490.3,136.9 490.8,137.1 491.3,137.3 491.9,137.6 492.4,137.8 492.9,138.1 493.4,138.4 494.0,138.8 494.5,139.1 495.0,139.5 495.5,139.8 496.1,140.2 496.6,140.6 497.1,140.9 497.6,141.3 498.2,141.6 498.7,141.9 499.2,142.2 499.7,142.4 500.3,142.6 500.8,142.8 501.3,142.9 501.8,142.9 502.4,142.9 502.9,142.8 503.4,142.6 503.9,142.3 504.5,142.0 505.0,141.5 505.5,141.0 506.0,140.3 506.6,139.5 507.1,138.6 507.6,137.5 508.1,136.3 508.7,135.0 509.2,133.5 509.7,131.8 510.2,130.0 510.8,128.0 511.3,125.8 511.8,123.5 512.3,121.0 512.9,118.3 513.4,115.5 513.9,112.5 514.4,109.3 515.0,106.0 515.5,102.6 516.0,99.0 516.5,95.4 517.1,91.6 517.6,87.8 518.1,83.9 518.6,80.0 519.2,76.0 519.7,72.1 520.2,68.3 520.7,64.5 521.3,60.9 521.8,57.3 522.3,53.9 522.8,50.8 523.4,47.8 523.9,45.1 524.4,42.6 525.0,40.4 525.5,38.6 526.0,37.0 526.5,35.8 527.1,35.0 527.6,34.5 528.1,34.3 528.6,34.6 529.2,35.1 529.7,36.1 530.2,37.4 530.7,39.0 531.3,40.9 531.8,43.1 532.3,45.6 532.8,48.3 533.4,51.3 533.9,54.5 534.4,57.8 534.9,61.3 535.5,64.9 536.0,68.5 536.5,72.3 537.0,76.0 537.6,79.8 538.1,83.6 538.6,87.3 539.1,90.9 539.7,94.5 540.2,97.9 540.7,101.3 541.2,104.5 541.8,107.6 542.3,110.5 542.8,113.3 543.3,116.0 543.9,118.4 544.4,120.8 544.9,122.9 545.4,124.9 546.0,126.7 546.5,128.4 547.0,129.9 547.5,131.3 548.1,132.6 548.6,133.7 549.1,134.6 549.6,135.4 550.2,136.1 550.7,136.7 551.2,137.1 551.7,137.4 552.3,137.5 552.8,137.5 553.3,137.3 553.8,137.0 554.4,136.6 554.9,135.9 555.4,135.2 555.9,134.2 556.5,133.1 557.0,131.7 557.5,130.2 558.0,128.6 558.6,126.7 559.1,124.7 559.6,122.5 560.1,120.1 560.7,117.6 561.2,115.0 561.7,112.3 562.2,109.4 562.8,106.6 563.3,103.6 563.8,100.7 564.3,97.8 564.9,95.0 565.4,92.3 565.9,89.7 566.4,87.3 567.0,85.1 567.5,83.1 568.0,81.4 568.6,80.0 569.1,78.9 569.6,78.1 570.1,77.7 570.7,77.6 571.2,77.9 571.7,78.5 572.2,79.5 572.8,80.8 573.3,82.4 573.8,84.3 574.3,86.4 574.9,88.8 575.4,91.4 575.9,94.1 576.4,97.0 577.0,100.0 577.5,103.0 578.0,106.1 578.5,109.1 579.1,112.2 579.6,115.1 580.1,118.0 580.6,120.8 581.2,123.5 581.7,126.0 582.2,128.4 582.7,130.6 583.3,132.7 583.8,134.6 584.3,136.4 584.8,137.9 585.4,139.4 585.9,140.7 586.4,141.9 586.9,142.9 587.5,143.8 588.0,144.6 588.5,145.3 589.0,145.9 589.6,146.4 590.1,146.9 590.6,147.3 591.1,147.6 591.7,147.9 592.2,148.1 592.7,148.3 593.2,148.4 593.8,148.6 594.3,148.7 594.8,148.8 595.3,148.8 595.9,148.9 596.4,148.9 596.9,149.0 597.4,149.0 598.0,149.0 598.5,149.0 599.0,149.1 599.5,149.1 600.1,149.1 600.6,149.1 601.1,149.1 601.6,149.1" stroke="#008000" stroke-width="2.0" fill="none" stroke-dasharray="4.6 2.2 1.2 2.2" stroke-linecap="butt" clip-path="url(#cTR)"/>
<path d="M465.1,148.9 465.6,148.9 466.1,148.8 466.6,148.8 467.2,148.7 467.7,148.7 468.2,148.6 468.7,148.6 469.3,148.5 469.8,148.5 470.3,148.4 470.8,148.3 471.4,148.2 471.9,148.2 472.4,148.1 472.9,148.0 473.5,147.9 474.0,147.8 474.5,147.6 475.0,147.5 475.6,147.4 476.1,147.3 476.6,147.1 477.1,147.0 477.7,146.9 478.2,146.7 478.7,146.6 479.2,146.5 479.8,146.3 480.3,146.2 480.8,146.0 481.4,145.9 481.9,145.8 482.4,145.7 482.9,145.5 483.5,145.4 484.0,145.3 484.5,145.2 485.0,145.1 485.6,145.1 486.1,145.0 486.6,144.9 487.1,144.9 487.7,144.9 488.2,144.8 488.7,144.8 489.2,144.8 489.8,144.8 490.3,144.8 490.8,144.8 491.3,144.8 491.9,144.9 492.4,144.9 492.9,144.9 493.4,144.9 494.0,144.9 494.5,144.9 495.0,144.9 495.5,144.9 496.1,144.9 496.6,144.8 497.1,144.8 497.6,144.6 498.2,144.5 498.7,144.3 499.2,144.1 499.7,143.8 500.3,143.4 500.8,143.0 501.3,142.6 501.8,142.0 502.4,141.4 502.9,140.6 503.4,139.8 503.9,138.9 504.5,137.8 505.0,136.6 505.5,135.4 506.0,133.9 506.6,132.4 507.1,130.7 507.6,128.8 508.1,126.8 508.7,124.6 509.2,122.3 509.7,119.8 510.2,117.2 510.8,114.4 511.3,111.4 511.8,108.3 512.3,105.0 512.9,101.7 513.4,98.1 513.9,94.5 514.4,90.7 515.0,86.9 515.5,83.0 516.0,79.0 516.5,75.0 517.1,71.0 517.6,67.0 518.1,63.0 518.6,59.1 519.2,55.3 519.7,51.5 520.2,47.9 520.7,44.5 521.3,41.2 521.8,38.1 522.3,35.3 522.8,32.7 523.4,30.3 523.9,28.3 524.4,26.5 525.0,25.1 525.5,24.0 526.0,23.2 526.5,22.7 527.1,22.6 527.6,22.8 528.1,23.4 528.6,24.2 529.2,25.4 529.7,26.9 530.2,28.7 530.7,30.7 531.3,33.0 531.8,35.6 532.3,38.3 532.8,41.2 533.4,44.3 533.9,47.5 534.4,50.8 534.9,54.2 535.5,57.6 536.0,61.1 536.5,64.5 537.0,68.0 537.6,71.4 538.1,74.7 538.6,78.0 539.1,81.2 539.7,84.3 540.2,87.2 540.7,90.1 541.2,92.8 541.8,95.3 542.3,97.7 542.8,100.0 543.3,102.1 543.9,104.0 544.4,105.8 544.9,107.5 545.4,109.0 546.0,110.3 546.5,111.5 547.0,112.5 547.5,113.4 548.1,114.1 548.6,114.7 549.1,115.1 549.6,115.4 550.2,115.4 550.7,115.4 551.2,115.1 551.7,114.7 552.3,114.0 552.8,113.2 553.3,112.1 553.8,110.9 554.4,109.4 554.9,107.6 555.4,105.7 555.9,103.5 556.5,101.0 557.0,98.4 557.5,95.5 558.0,92.4 558.6,89.0 559.1,85.5 559.6,81.8 560.1,78.0 560.7,74.0 561.2,69.9 561.7,65.8 562.2,61.7 562.8,57.6 563.3,53.5 563.8,49.5 564.3,45.7 564.9,42.1 565.4,38.6 565.9,35.5 566.4,32.7 567.0,30.2 567.5,28.0 568.0,26.3 568.6,25.0 569.1,24.2 569.6,23.8 570.1,23.9 570.7,24.4 571.2,25.4 571.7,26.9 572.2,28.8 572.8,31.0 573.3,33.7 573.8,36.8 574.3,40.1 574.9,43.8 575.4,47.7 575.9,51.8 576.4,56.1 577.0,60.5 577.5,64.9 578.0,69.5 578.5,74.0 579.1,78.5 579.6,83.0 580.1,87.3 580.6,91.5 581.2,95.6 581.7,99.5 582.2,103.3 582.7,106.9 583.3,110.2 583.8,113.4 584.3,116.3 584.8,119.1 585.4,121.6 585.9,124.0 586.4,126.1 586.9,128.1 587.5,129.9 588.0,131.5 588.5,133.0 589.0,134.4 589.6,135.6 590.1,136.7 590.6,137.7 591.1,138.6 591.7,139.4 592.2,140.2 592.7,140.9 593.2,141.5 593.8,142.1 594.3,142.6 594.8,143.1 595.3,143.5 595.9,143.9 596.4,144.3 596.9,144.7 597.4,145.0 598.0,145.4 598.5,145.7 599.0,146.0 599.5,146.2 600.1,146.5 600.6,146.7 601.1,146.9 601.6,147.1" stroke="#0000ff" stroke-width="2.0" fill="none" stroke-dasharray="0.35 3.35" stroke-linecap="round" clip-path="url(#cTR)"/>
<path d="M349.5,284.3 350.0,284.2 350.6,284.1 351.1,284.0 351.6,283.9 352.1,283.8 352.7,283.7 353.2,283.5 353.7,283.4 354.2,283.3 354.8,283.2 355.3,283.1 355.8,283.0 356.3,282.8 356.9,282.7 357.4,282.5 357.9,282.4 358.4,282.3 359.0,282.1 359.5,281.9 360.0,281.8 360.5,281.6 361.1,281.4 361.6,281.2 362.1,281.0 362.6,280.8 363.2,280.7 363.7,280.5 364.2,280.3 364.7,280.1 365.3,279.9 365.8,279.7 366.3,279.6 366.8,279.4 367.4,279.3 367.9,279.2 368.4,279.0 368.9,278.9 369.5,278.8 370.0,278.7 370.5,278.6 371.0,278.5 371.6,278.3 372.1,278.1 372.6,277.9 373.1,277.6 373.7,277.3 374.2,276.8 374.7,276.2 375.2,275.5 375.8,274.7 376.3,273.7 376.8,272.5 377.3,271.0 377.9,269.4 378.4,267.6 378.9,265.5 379.4,263.1 380.0,260.6 380.5,257.9 381.0,254.9 381.5,251.9 382.1,248.7 382.6,245.4 383.1,242.2 383.6,239.1 384.2,236.1 384.7,233.3 385.2,230.8 385.7,228.7 386.3,227.1 386.8,225.9 387.3,225.2 387.8,225.2 388.4,225.6 388.9,226.7 389.4,228.2 389.9,230.3 390.5,232.8 391.0,235.6 391.5,238.8 392.0,242.1 392.6,245.6 393.1,249.1 393.6,252.6 394.2,256.1 394.7,259.3 395.2,262.4 395.7,265.3 396.3,267.9 396.8,270.3 397.3,272.4 397.8,274.3 398.4,275.9 398.9,277.3 399.4,278.5 399.9,279.5 400.5,280.3 401.0,281.1 401.5,281.7 402.0,282.2 402.6,282.6 403.1,282.9 403.6,283.2 404.1,283.5 404.7,283.7 405.2,283.9 405.7,284.1 406.2,284.2 406.8,284.4 407.3,284.5 407.8,284.6 408.3,284.7 408.9,284.8 409.4,284.9 409.9,285.0 410.4,285.1 411.0,285.1 411.5,285.2 412.0,285.2 412.5,285.3 413.1,285.3 413.6,285.3 414.1,285.4 414.6,285.4 415.2,285.4 415.7,285.4 416.2,285.4 416.7,285.5 417.3,285.5 417.8,285.5 418.3,285.5 418.8,285.5 419.4,285.5 419.9,285.5 420.4,285.5 420.9,285.5 421.5,285.5 422.0,285.5 422.5,285.5 423.0,285.5 423.6,285.5 424.1,285.5 424.6,285.5 425.1,285.5 425.7,285.5 426.2,285.5 426.7,285.5 427.2,285.5 427.8,285.5 428.3,285.5 428.8,285.5 429.3,285.5 429.9,285.5 430.4,285.5 430.9,285.5 431.4,285.5 432.0,285.5 432.5,285.5 433.0,285.5 433.5,285.5 434.1,285.5 434.6,285.5 435.1,285.5 435.6,285.5 436.2,285.5 436.7,285.5 437.2,285.5 437.8,285.5 438.3,285.5 438.8,285.5 439.3,285.5 439.9,285.5 440.4,285.5 440.9,285.5 441.4,285.5 442.0,285.5 442.5,285.5 443.0,285.5 443.5,285.5 444.1,285.5 444.6,285.5 445.1,285.5 445.6,285.5 446.2,285.5 446.7,285.5 447.2,285.5 447.7,285.5 448.3,285.5 448.8,285.5 449.3,285.5 449.8,285.5 450.4,285.5 450.9,285.5 451.4,285.5 451.9,285.5 452.5,285.5 453.0,285.5 453.5,285.5 454.0,285.5 454.6,285.5 455.1,285.5 455.6,285.5 456.1,285.5 456.7,285.5 457.2,285.5 457.7,285.5 458.2,285.5 458.8,285.5 459.3,285.5 459.8,285.5 460.3,285.5 460.9,285.5 461.4,285.5 461.9,285.5 462.4,285.5 463.0,285.5 463.5,285.5 464.0,285.5 464.5,285.5 465.1,285.5 465.6,285.5 466.1,285.5 466.6,285.5 467.2,285.5 467.7,285.5 468.2,285.5 468.7,285.4 469.3,285.4 469.8,285.4 470.3,285.4 470.8,285.4 471.4,285.4 471.9,285.4 472.4,285.3 472.9,285.3 473.5,285.3 474.0,285.3 474.5,285.3 475.0,285.3 475.6,285.2 476.1,285.2 476.6,285.2 477.1,285.2 477.7,285.2 478.2,285.1 478.7,285.1 479.2,285.1 479.8,285.1 480.3,285.1 480.8,285.0 481.4,285.0 481.9,285.0 482.4,285.0 482.9,285.0 483.5,285.0 484.0,285.0 484.5,284.9 485.0,284.9 485.6,284.9 486.1,284.9 486.6,284.9 487.1,284.9 487.7,284.9 488.2,284.9 488.7,284.9 489.2,284.9 489.8,285.0 490.3,285.0 490.8,285.0 491.3,285.0 491.9,285.0 492.4,285.0 492.9,285.0 493.4,285.0 494.0,285.1 494.5,285.1 495.0,285.1 495.5,285.1 496.1,285.1 496.6,285.1 497.1,285.1 497.6,285.2 498.2,285.2 498.7,285.2 499.2,285.2 499.7,285.2 500.3,285.2 500.8,285.2 501.3,285.2 501.8,285.2 502.4,285.2 502.9,285.2 503.4,285.2 503.9,285.2 504.5,285.2 505.0,285.2 505.5,285.1 506.0,285.1 506.6,285.1 507.1,285.1 507.6,285.0 508.1,285.0 508.7,285.0 509.2,284.9 509.7,284.9 510.2,284.9 510.8,284.8 511.3,284.8 511.8,284.7 512.3,284.7 512.9,284.6 513.4,284.6 513.9,284.5 514.4,284.4 515.0,284.4 515.5,284.3 516.0,284.3 516.5,284.2 517.1,284.1 517.6,284.1 518.1,284.0 518.6,283.9 519.2,283.9 519.7,283.8 520.2,283.8 520.7,283.7 521.3,283.7 521.8,283.6 522.3,283.6 522.8,283.5 523.4,283.5 523.9,283.4 524.4,283.4 525.0,283.4 525.5,283.3 526.0,283.3 526.5,283.3 527.1,283.3 527.6,283.3 528.1,283.3 528.6,283.3 529.2,283.3 529.7,283.3 530.2,283.3 530.7,283.3 531.3,283.3 531.8,283.4 532.3,283.4 532.8,283.4 533.4,283.5 533.9,283.5 534.4,283.5 534.9,283.6 535.5,283.6 536.0,283.7 536.5,283.8 537.0,283.8 537.6,283.9 538.1,283.9 538.6,284.0 539.1,284.1 539.7,284.1 540.2,284.2 540.7,284.2 541.2,284.3 541.8,284.4 542.3,284.4 542.8,284.5 543.3,284.5 543.9,284.6 544.4,284.7 544.9,284.7 545.4,284.8 546.0,284.8 546.5,284.9 547.0,284.9 547.5,285.0 548.1,285.0 548.6,285.0 549.1,285.1 549.6,285.1 550.2,285.1 550.7,285.2 551.2,285.2 551.7,285.2 552.3,285.2 552.8,285.2 553.3,285.3 553.8,285.3 554.4,285.3 554.9,285.3 555.4,285.3 555.9,285.3 556.5,285.3 557.0,285.3 557.5,285.2 558.0,285.2 558.6,285.2 559.1,285.2 559.6,285.1 560.1,285.1 560.7,285.1 561.2,285.0 561.7,285.0 562.2,284.9 562.8,284.9 563.3,284.9 563.8,284.8 564.3,284.8 564.9,284.7 565.4,284.7 565.9,284.6 566.4,284.6 567.0,284.5 567.5,284.5 568.0,284.5 568.6,284.4 569.1,284.4 569.6,284.4 570.1,284.4 570.7,284.4 571.2,284.4 571.7,284.4 572.2,284.4 572.8,284.5 573.3,284.5 573.8,284.5 574.3,284.6 574.9,284.6 575.4,284.6 575.9,284.7 576.4,284.7 577.0,284.8 577.5,284.8 578.0,284.9 578.5,284.9 579.1,285.0 579.6,285.0 580.1,285.1 580.6,285.1 581.2,285.1 581.7,285.2 582.2,285.2 582.7,285.3 583.3,285.3 583.8,285.3 584.3,285.3 584.8,285.4 585.4,285.4 585.9,285.4 586.4,285.4 586.9,285.4 587.5,285.4 588.0,285.4 588.5,285.5 589.0,285.5 589.6,285.5 590.1,285.5 590.6,285.5 591.1,285.5 591.7,285.5 592.2,285.5 592.7,285.5 593.2,285.5 593.8,285.5 594.3,285.5 594.8,285.5 595.3,285.5 595.9,285.5 596.4,285.5 596.9,285.5 597.4,285.5 598.0,285.5 598.5,285.5 599.0,285.5 599.5,285.5 600.1,285.5 600.6,285.5 601.1,285.5 601.6,285.5" stroke="#000000" stroke-width="2.0" fill="none" stroke-linecap="square" stroke-linejoin="round" clip-path="url(#cBR)"/>
<path d="M349.5,284.3 350.0,284.2 350.6,284.1 351.1,284.0 351.6,283.9 352.1,283.8 352.7,283.7 353.2,283.5 353.7,283.4 354.2,283.3 354.8,283.2 355.3,283.1 355.8,283.0 356.3,282.8 356.9,282.7 357.4,282.5 357.9,282.4 358.4,282.3 359.0,282.1 359.5,281.9 360.0,281.8 360.5,281.6 361.1,281.4 361.6,281.2 362.1,281.0 362.6,280.8 363.2,280.7 363.7,280.5 364.2,280.3 364.7,280.1 365.3,279.9 365.8,279.7 366.3,279.6 366.8,279.4 367.4,279.3 367.9,279.2 368.4,279.0 368.9,278.9 369.5,278.8 370.0,278.7 370.5,278.6 371.0,278.5 371.6,278.3 372.1,278.1 372.6,277.9 373.1,277.6 373.7,277.3 374.2,276.8 374.7,276.2 375.2,275.5 375.8,274.7 376.3,273.7 376.8,272.5 377.3,271.0 377.9,269.4 378.4,267.6 378.9,265.5 379.4,263.1 380.0,260.6 380.5,257.9 381.0,254.9 381.5,251.9 382.1,248.7 382.6,245.4 383.1,242.2 383.6,239.1 384.2,236.1 384.7,233.3 385.2,230.8 385.7,228.7 386.3,227.1 386.8,225.9 387.3,225.2 387.8,225.2 388.4,225.6 388.9,226.7 389.4,228.2 389.9,230.3 390.5,232.8 391.0,235.6 391.5,238.8 392.0,242.1 392.6,245.6 393.1,249.1 393.6,252.6 394.2,256.1 394.7,259.3 395.2,262.4 395.7,265.3 396.3,267.9 396.8,270.3 397.3,272.4 397.8,274.3 398.4,275.9 398.9,277.3 399.4,278.5 399.9,279.5 400.5,280.3 401.0,281.1 401.5,281.7 402.0,282.2 402.6,282.6 403.1,282.9 403.6,283.2 404.1,283.5 404.7,283.7 405.2,283.9 405.7,284.1 406.2,284.2 406.8,284.4 407.3,284.5 407.8,284.6 408.3,284.7 408.9,284.8 409.4,284.9 409.9,285.0 410.4,285.1 411.0,285.1 411.5,285.2 412.0,285.2 412.5,285.3 413.1,285.3 413.6,285.3 414.1,285.4 414.6,285.4 415.2,285.4 415.7,285.4 416.2,285.4 416.7,285.5 417.3,285.5 417.8,285.5 418.3,285.5 418.8,285.5 419.4,285.5 419.9,285.5 420.4,285.5 420.9,285.5 421.5,285.5 422.0,285.5 422.5,285.5 423.0,285.5 423.6,285.5 424.1,285.5 424.6,285.5 425.1,285.5 425.7,285.5 426.2,285.5 426.7,285.5 427.2,285.5 427.8,285.5 428.3,285.5 428.8,285.5 429.3,285.5 429.9,285.5 430.4,285.5 430.9,285.5 431.4,285.5 432.0,285.5 432.5,285.5 433.0,285.5 433.5,285.5 434.1,285.5 434.6,285.5 435.1,285.5 435.6,285.5 436.2,285.5 436.7,285.5 437.2,285.5 437.8,285.5 438.3,285.5 438.8,285.5 439.3,285.5 439.9,285.5 440.4,285.5 440.9,285.5 441.4,285.5 442.0,285.5 442.5,285.5 443.0,285.5 443.5,285.5 444.1,285.5 444.6,285.5 445.1,285.5 445.6,285.5 446.2,285.5 446.7,285.5 447.2,285.5 447.7,285.5 448.3,285.5 448.8,285.5 449.3,285.5 449.8,285.5 450.4,285.5 450.9,285.5 451.4,285.5 451.9,285.5 452.5,285.5 453.0,285.5 453.5,285.5 454.0,285.5 454.6,285.5 455.1,285.5 455.6,285.5 456.1,285.5 456.7,285.5 457.2,285.5 457.7,285.5 458.2,285.5 458.8,285.5 459.3,285.5 459.8,285.5 460.3,285.5 460.9,285.5 461.4,285.5 461.9,285.5 462.4,285.5 463.0,285.5 463.5,285.5 464.0,285.5 464.5,285.5 465.1,285.5 465.6,285.5 466.1,285.5 466.6,285.5 467.2,285.5 467.7,285.4 468.2,285.4 468.7,285.4 469.3,285.4 469.8,285.4 470.3,285.4 470.8,285.3 471.4,285.3 471.9,285.3 472.4,285.3 472.9,285.2 473.5,285.2 474.0,285.2 474.5,285.2 475.0,285.1 475.6,285.1 476.1,285.1 476.6,285.0 477.1,285.0 477.7,285.0 478.2,285.0 478.7,284.9 479.2,284.9 479.8,284.9 480.3,284.8 480.8,284.8 481.4,284.8 481.9,284.8 482.4,284.7 482.9,284.7 483.5,284.7 484.0,284.7 484.5,284.7 485.0,284.7 485.6,284.7 486.1,284.7 486.6,284.7 487.1,284.7 487.7,284.7 488.2,284.7 488.7,284.7 489.2,284.7 489.8,284.7 490.3,284.7 490.8,284.7 491.3,284.7 491.9,284.8 492.4,284.8 492.9,284.8 493.4,284.8 494.0,284.8 494.5,284.9 495.0,284.9 495.5,284.9 496.1,284.9 496.6,285.0 497.1,285.0 497.6,285.0 498.2,285.0 498.7,285.0 499.2,285.0 499.7,285.0 500.3,285.0 500.8,285.0 501.3,285.0 501.8,285.0 502.4,285.0 502.9,285.0 503.4,285.0 503.9,284.9 504.5,284.9 505.0,284.9 505.5,284.8 506.0,284.8 506.6,284.7 507.1,284.6 507.6,284.6 508.1,284.5 508.7,284.4 509.2,284.3 509.7,284.2 510.2,284.1 510.8,284.0 511.3,283.9 511.8,283.8 512.3,283.7 512.9,283.5 513.4,283.4 513.9,283.3 514.4,283.1 515.0,283.0 515.5,282.8 516.0,282.7 516.5,282.5 517.1,282.4 517.6,282.2 518.1,282.0 518.6,281.9 519.2,281.7 519.7,281.6 520.2,281.5 520.7,281.3 521.3,281.2 521.8,281.1 522.3,280.9 522.8,280.8 523.4,280.7 523.9,280.6 524.4,280.5 525.0,280.5 525.5,280.4 526.0,280.4 526.5,280.3 527.1,280.3 527.6,280.3 528.1,280.3 528.6,280.3 529.2,280.3 529.7,280.4 530.2,280.4 530.7,280.5 531.3,280.5 531.8,280.6 532.3,280.7 532.8,280.8 533.4,280.9 533.9,281.0 534.4,281.2 534.9,281.3 535.5,281.4 536.0,281.6 536.5,281.7 537.0,281.9 537.6,282.0 538.1,282.2 538.6,282.3 539.1,282.5 539.7,282.6 540.2,282.8 540.7,282.9 541.2,283.1 541.8,283.2 542.3,283.4 542.8,283.5 543.3,283.6 543.9,283.7 544.4,283.9 544.9,284.0 545.4,284.1 546.0,284.2 546.5,284.3 547.0,284.3 547.5,284.4 548.1,284.5 548.6,284.5 549.1,284.6 549.6,284.6 550.2,284.7 550.7,284.7 551.2,284.7 551.7,284.7 552.3,284.7 552.8,284.7 553.3,284.7 553.8,284.7 554.4,284.6 554.9,284.6 555.4,284.5 555.9,284.5 556.5,284.4 557.0,284.3 557.5,284.2 558.0,284.1 558.6,284.0 559.1,283.9 559.6,283.7 560.1,283.6 560.7,283.5 561.2,283.3 561.7,283.2 562.2,283.1 562.8,282.9 563.3,282.8 563.8,282.7 564.3,282.6 564.9,282.4 565.4,282.3 565.9,282.3 566.4,282.2 567.0,282.1 567.5,282.1 568.0,282.0 568.6,282.0 569.1,282.0 569.6,282.0 570.1,282.0 570.7,282.1 571.2,282.1 571.7,282.2 572.2,282.3 572.8,282.4 573.3,282.5 573.8,282.6 574.3,282.7 574.9,282.8 575.4,283.0 575.9,283.1 576.4,283.3 577.0,283.4 577.5,283.5 578.0,283.7 578.5,283.8 579.1,284.0 579.6,284.1 580.1,284.2 580.6,284.3 581.2,284.5 581.7,284.6 582.2,284.7 582.7,284.8 583.3,284.9 583.8,284.9 584.3,285.0 584.8,285.1 585.4,285.1 585.9,285.2 586.4,285.2 586.9,285.3 587.5,285.3 588.0,285.4 588.5,285.4 589.0,285.4 589.6,285.4 590.1,285.4 590.6,285.5 591.1,285.5 591.7,285.5 592.2,285.5 592.7,285.5 593.2,285.5 593.8,285.5 594.3,285.5 594.8,285.5 595.3,285.5 595.9,285.5 596.4,285.5 596.9,285.5 597.4,285.5 598.0,285.5 598.5,285.5 599.0,285.5 599.5,285.5 600.1,285.5 600.6,285.5 601.1,285.5 601.6,285.5" stroke="#ff0000" stroke-width="2.0" fill="none" stroke-dasharray="7.8 2.9" stroke-linecap="butt" clip-path="url(#cBR)"/>
<path d="M349.5,284.3 350.0,284.2 350.6,284.1 351.1,284.0 351.6,283.9 352.1,283.8 352.7,283.7 353.2,283.5 353.7,283.4 354.2,283.3 354.8,283.2 355.3,283.1 355.8,283.0 356.3,282.8 356.9,282.7 357.4,282.5 357.9,282.4 358.4,282.3 359.0,282.1 359.5,281.9 360.0,281.8 360.5,281.6 361.1,281.4 361.6,281.2 362.1,281.0 362.6,280.8 363.2,280.7 363.7,280.5 364.2,280.3 364.7,280.1 365.3,279.9 365.8,279.7 366.3,279.6 366.8,279.4 367.4,279.3 367.9,279.2 368.4,279.0 368.9,278.9 369.5,278.8 370.0,278.7 370.5,278.6 371.0,278.5 371.6,278.3 372.1,278.1 372.6,277.9 373.1,277.6 373.7,277.3 374.2,276.8 374.7,276.2 375.2,275.5 375.8,274.7 376.3,273.7 376.8,272.5 377.3,271.0 377.9,269.4 378.4,267.6 378.9,265.5 379.4,263.1 380.0,260.6 380.5,257.9 381.0,254.9 381.5,251.9 382.1,248.7 382.6,245.4 383.1,242.2 383.6,239.1 384.2,236.1 384.7,233.3 385.2,230.8 385.7,228.7 386.3,227.1 386.8,225.9 387.3,225.2 387.8,225.2 388.4,225.6 388.9,226.7 389.4,228.2 389.9,230.3 390.5,232.8 391.0,235.6 391.5,238.8 392.0,242.1 392.6,245.6 393.1,249.1 393.6,252.6 394.2,256.1 394.7,259.3 395.2,262.4 395.7,265.3 396.3,267.9 396.8,270.3 397.3,272.4 397.8,274.3 398.4,275.9 398.9,277.3 399.4,278.5 399.9,279.5 400.5,280.3 401.0,281.1 401.5,281.7 402.0,282.2 402.6,282.6 403.1,282.9 403.6,283.2 404.1,283.5 404.7,283.7 405.2,283.9 405.7,284.1 406.2,284.2 406.8,284.4 407.3,284.5 407.8,284.6 408.3,284.7 408.9,284.8 409.4,284.9 409.9,285.0 410.4,285.1 411.0,285.1 411.5,285.2 412.0,285.2 412.5,285.3 413.1,285.3 413.6,285.3 414.1,285.4 414.6,285.4 415.2,285.4 415.7,285.4 416.2,285.4 416.7,285.5 417.3,285.5 417.8,285.5 418.3,285.5 418.8,285.5 419.4,285.5 419.9,285.5 420.4,285.5 420.9,285.5 421.5,285.5 422.0,285.5 422.5,285.5 423.0,285.5 423.6,285.5 424.1,285.5 424.6,285.5 425.1,285.5 425.7,285.5 426.2,285.5 426.7,285.5 427.2,285.5 427.8,285.5 428.3,285.5 428.8,285.5 429.3,285.5 429.9,285.5 430.4,285.5 430.9,285.5 431.4,285.5 432.0,285.5 432.5,285.5 433.0,285.5 433.5,285.5 434.1,285.5 434.6,285.5 435.1,285.5 435.6,285.5 436.2,285.5 436.7,285.5 437.2,285.5 437.8,285.5 438.3,285.5 438.8,285.5 439.3,285.5 439.9,285.5 440.4,285.5 440.9,285.5 441.4,285.5 442.0,285.5 442.5,285.5 443.0,285.5 443.5,285.5 444.1,285.5 444.6,285.5 445.1,285.5 445.6,285.5 446.2,285.5 446.7,285.5 447.2,285.5 447.7,285.5 448.3,285.5 448.8,285.5 449.3,285.5 449.8,285.5 450.4,285.5 450.9,285.5 451.4,285.5 451.9,285.5 452.5,285.5 453.0,285.5 453.5,285.5 454.0,285.5 454.6,285.5 455.1,285.5 455.6,285.5 456.1,285.5 456.7,285.5 457.2,285.5 457.7,285.5 458.2,285.5 458.8,285.5 459.3,285.5 459.8,285.5 460.3,285.5 460.9,285.5 461.4,285.5 461.9,285.5 462.4,285.5 463.0,285.5 463.5,285.5 464.0,285.5 464.5,285.5 465.1,285.5 465.6,285.5 466.1,285.5 466.6,285.5 467.2,285.5 467.7,285.4 468.2,285.4 468.7,285.4 469.3,285.4 469.8,285.4 470.3,285.4 470.8,285.3 471.4,285.3 471.9,285.3 472.4,285.3 472.9,285.2 473.5,285.2 474.0,285.2 474.5,285.2 475.0,285.1 475.6,285.1 476.1,285.1 476.6,285.0 477.1,285.0 477.7,285.0 478.2,285.0 478.7,284.9 479.2,284.9 479.8,284.9 480.3,284.8 480.8,284.8 481.4,284.8 481.9,284.8 482.4,284.8 482.9,284.7 483.5,284.7 484.0,284.7 484.5,284.7 485.0,284.7 485.6,284.7 486.1,284.7 486.6,284.7 487.1,284.7 487.7,284.7 488.2,284.7 488.7,284.7 489.2,284.7 489.8,284.7 490.3,284.7 490.8,284.7 491.3,284.7 491.9,284.8 492.4,284.8 492.9,284.8 493.4,284.8 494.0,284.8 494.5,284.9 495.0,284.9 495.5,284.9 496.1,284.9 496.6,284.9 497.1,284.9 497.6,285.0 498.2,285.0 498.7,285.0 499.2,285.0 499.7,285.0 500.3,285.0 500.8,285.0 501.3,285.0 501.8,284.9 502.4,284.9 502.9,284.9 503.4,284.9 503.9,284.8 504.5,284.8 505.0,284.7 505.5,284.7 506.0,284.6 506.6,284.6 507.1,284.5 507.6,284.4 508.1,284.3 508.7,284.2 509.2,284.1 509.7,284.0 510.2,283.9 510.8,283.8 511.3,283.7 511.8,283.5 512.3,283.4 512.9,283.3 513.4,283.1 513.9,283.0 514.4,282.8 515.0,282.7 515.5,282.5 516.0,282.3 516.5,282.2 517.1,282.0 517.6,281.9 518.1,281.7 518.6,281.5 519.2,281.4 519.7,281.2 520.2,281.1 520.7,280.9 521.3,280.8 521.8,280.6 522.3,280.5 522.8,280.4 523.4,280.2 523.9,280.1 524.4,280.0 525.0,280.0 525.5,279.9 526.0,279.8 526.5,279.8 527.1,279.7 527.6,279.7 528.1,279.7 528.6,279.7 529.2,279.7 529.7,279.7 530.2,279.7 530.7,279.8 531.3,279.8 531.8,279.9 532.3,280.0 532.8,280.1 533.4,280.2 533.9,280.3 534.4,280.4 534.9,280.5 535.5,280.7 536.0,280.8 536.5,281.0 537.0,281.1 537.6,281.3 538.1,281.4 538.6,281.6 539.1,281.8 539.7,281.9 540.2,282.1 540.7,282.2 541.2,282.4 541.8,282.6 542.3,282.7 542.8,282.9 543.3,283.0 543.9,283.2 544.4,283.3 544.9,283.4 545.4,283.6 546.0,283.7 546.5,283.8 547.0,283.9 547.5,284.0 548.1,284.1 548.6,284.2 549.1,284.3 549.6,284.3 550.2,284.4 550.7,284.4 551.2,284.5 551.7,284.5 552.3,284.5 552.8,284.5 553.3,284.5 553.8,284.5 554.4,284.4 554.9,284.4 555.4,284.3 555.9,284.2 556.5,284.1 557.0,284.0 557.5,283.9 558.0,283.7 558.6,283.6 559.1,283.4 559.6,283.2 560.1,283.0 560.7,282.8 561.2,282.6 561.7,282.4 562.2,282.2 562.8,281.9 563.3,281.7 563.8,281.5 564.3,281.3 564.9,281.0 565.4,280.8 565.9,280.7 566.4,280.5 567.0,280.3 567.5,280.2 568.0,280.0 568.6,279.9 569.1,279.9 569.6,279.8 570.1,279.8 570.7,279.8 571.2,279.8 571.7,279.9 572.2,279.9 572.8,280.0 573.3,280.2 573.8,280.3 574.3,280.5 574.9,280.6 575.4,280.8 575.9,281.0 576.4,281.3 577.0,281.5 577.5,281.7 578.0,282.0 578.5,282.2 579.1,282.4 579.6,282.7 580.1,282.9 580.6,283.1 581.2,283.3 581.7,283.5 582.2,283.7 582.7,283.9 583.3,284.1 583.8,284.2 584.3,284.4 584.8,284.5 585.4,284.6 585.9,284.7 586.4,284.8 586.9,284.9 587.5,285.0 588.0,285.1 588.5,285.2 589.0,285.2 589.6,285.3 590.1,285.3 590.6,285.4 591.1,285.4 591.7,285.4 592.2,285.4 592.7,285.5 593.2,285.5 593.8,285.5 594.3,285.5 594.8,285.5 595.3,285.5 595.9,285.5 596.4,285.5 596.9,285.5 597.4,285.5 598.0,285.5 598.5,285.5 599.0,285.5 599.5,285.5 600.1,285.5 600.6,285.5 601.1,285.5 601.6,285.5" stroke="#008000" stroke-width="2.0" fill="none" stroke-dasharray="4.6 2.2 1.2 2.2" stroke-linecap="butt" clip-path="url(#cBR)"/>
<path d="M349.5,284.3 350.0,284.2 350.6,284.1 351.1,284.0 351.6,283.9 352.1,283.8 352.7,283.7 353.2,283.5 353.7,283.4 354.2,283.3 354.8,283.2 355.3,283.1 355.8,283.0 356.3,282.8 356.9,282.7 357.4,282.5 357.9,282.4 358.4,282.3 359.0,282.1 359.5,281.9 360.0,281.8 360.5,281.6 361.1,281.4 361.6,281.2 362.1,281.0 362.6,280.8 363.2,280.7 363.7,280.5 364.2,280.3 364.7,280.1 365.3,279.9 365.8,279.7 366.3,279.6 366.8,279.4 367.4,279.3 367.9,279.2 368.4,279.0 368.9,278.9 369.5,278.8 370.0,278.7 370.5,278.6 371.0,278.5 371.6,278.3 372.1,278.1 372.6,277.9 373.1,277.6 373.7,277.3 374.2,276.8 374.7,276.2 375.2,275.5 375.8,274.7 376.3,273.7 376.8,272.5 377.3,271.0 377.9,269.4 378.4,267.6 378.9,265.5 379.4,263.1 380.0,260.6 380.5,257.9 381.0,254.9 381.5,251.9 382.1,248.7 382.6,245.4 383.1,242.2 383.6,239.1 384.2,236.1 384.7,233.3 385.2,230.8 385.7,228.7 386.3,227.1 386.8,225.9 387.3,225.2 387.8,225.2 388.4,225.6 388.9,226.7 389.4,228.2 389.9,230.3 390.5,232.8 391.0,235.6 391.5,238.8 392.0,242.1 392.6,245.6 393.1,249.1 393.6,252.6 394.2,256.1 394.7,259.3 395.2,262.4 395.7,265.3 396.3,267.9 396.8,270.3 397.3,272.4 397.8,274.3 398.4,275.9 398.9,277.3 399.4,278.5 399.9,279.5 400.5,280.3 401.0,281.1 401.5,281.7 402.0,282.2 402.6,282.6 403.1,282.9 403.6,283.2 404.1,283.5 404.7,283.7 405.2,283.9 405.7,284.1 406.2,284.2 406.8,284.4 407.3,284.5 407.8,284.6 408.3,284.7 408.9,284.8 409.4,284.9 409.9,285.0 410.4,285.1 411.0,285.1 411.5,285.2 412.0,285.2 412.5,285.3 413.1,285.3 413.6,285.3 414.1,285.4 414.6,285.4 415.2,285.4 415.7,285.4 416.2,285.4 416.7,285.5 417.3,285.5 417.8,285.5 418.3,285.5 418.8,285.5 419.4,285.5 419.9,285.5 420.4,285.5 420.9,285.5 421.5,285.5 422.0,285.5 422.5,285.5 423.0,285.5 423.6,285.5 424.1,285.5 424.6,285.5 425.1,285.5 425.7,285.5 426.2,285.5 426.7,285.5 427.2,285.5 427.8,285.5 428.3,285.5 428.8,285.5 429.3,285.5 429.9,285.5 430.4,285.5 430.9,285.5 431.4,285.5 432.0,285.5 432.5,285.5 433.0,285.5 433.5,285.5 434.1,285.5 434.6,285.5 435.1,285.5 435.6,285.5 436.2,285.5 436.7,285.5 437.2,285.5 437.8,285.5 438.3,285.5 438.8,285.5 439.3,285.5 439.9,285.5 440.4,285.5 440.9,285.5 441.4,285.5 442.0,285.5 442.5,285.5 443.0,285.5 443.5,285.5 444.1,285.5 444.6,285.5 445.1,285.5 445.6,285.5 446.2,285.5 446.7,285.5 447.2,285.5 447.7,285.5 448.3,285.5 448.8,285.5 449.3,285.5 449.8,285.5 450.4,285.5 450.9,285.5 451.4,285.5 451.9,285.5 452.5,285.5 453.0,285.5 453.5,285.5 454.0,285.5 454.6,285.5 455.1,285.5 455.6,285.5 456.1,285.5 456.7,285.5 457.2,285.5 457.7,285.5 458.2,285.5 458.8,285.5 459.3,285.5 459.8,285.5 460.3,285.5 460.9,285.5 461.4,285.5 461.9,285.5 462.4,285.5 463.0,285.5 463.5,285.5 464.0,285.5 464.5,285.5 465.1,285.5 465.6,285.5 466.1,285.5 466.6,285.5 467.2,285.5 467.7,285.4 468.2,285.4 468.7,285.4 469.3,285.4 469.8,285.4 470.3,285.4 470.8,285.3 471.4,285.3 471.9,285.3 472.4,285.3 472.9,285.2 473.5,285.2 474.0,285.2 474.5,285.2 475.0,285.1 475.6,285.1 476.1,285.1 476.6,285.0 477.1,285.0 477.7,285.0 478.2,285.0 478.7,284.9 479.2,284.9 479.8,284.9 480.3,284.8 480.8,284.8 481.4,284.8 481.9,284.8 482.4,284.7 482.9,284.7 483.5,284.7 484.0,284.7 484.5,284.7 485.0,284.7 485.6,284.7 486.1,284.7 486.6,284.7 487.1,284.7 487.7,284.7 488.2,284.7 488.7,284.7 489.2,284.7 489.8,284.7 490.3,284.7 490.8,284.7 491.3,284.7 491.9,284.8 492.4,284.8 492.9,284.8 493.4,284.8 494.0,284.8 494.5,284.9 495.0,284.9 495.5,284.9 496.1,284.9 496.6,284.9 497.1,285.0 497.6,285.0 498.2,285.0 498.7,285.0 499.2,285.0 499.7,285.0 500.3,285.0 500.8,285.0 501.3,285.0 501.8,285.0 502.4,285.0 502.9,284.9 503.4,284.9 503.9,284.9 504.5,284.8 505.0,284.8 505.5,284.7 506.0,284.6 506.6,284.6 507.1,284.5 507.6,284.4 508.1,284.3 508.7,284.2 509.2,284.1 509.7,284.0 510.2,283.8 510.8,283.7 511.3,283.6 511.8,283.4 512.3,283.3 512.9,283.1 513.4,282.9 513.9,282.8 514.4,282.6 515.0,282.4 515.5,282.2 516.0,282.0 516.5,281.8 517.1,281.6 517.6,281.4 518.1,281.2 518.6,281.0 519.2,280.8 519.7,280.6 520.2,280.4 520.7,280.2 521.3,280.1 521.8,279.9 522.3,279.7 522.8,279.6 523.4,279.4 523.9,279.3 524.4,279.2 525.0,279.1 525.5,279.0 526.0,278.9 526.5,278.8 527.1,278.8 527.6,278.7 528.1,278.7 528.6,278.7 529.2,278.7 529.7,278.8 530.2,278.8 530.7,278.9 531.3,278.9 531.8,279.0 532.3,279.1 532.8,279.2 533.4,279.4 533.9,279.5 534.4,279.7 534.9,279.8 535.5,280.0 536.0,280.2 536.5,280.4 537.0,280.5 537.6,280.7 538.1,280.9 538.6,281.1 539.1,281.3 539.7,281.5 540.2,281.7 540.7,281.9 541.2,282.1 541.8,282.3 542.3,282.5 542.8,282.7 543.3,282.8 543.9,283.0 544.4,283.2 544.9,283.3 545.4,283.5 546.0,283.6 546.5,283.8 547.0,283.9 547.5,284.0 548.1,284.1 548.6,284.2 549.1,284.3 549.6,284.4 550.2,284.4 550.7,284.5 551.2,284.5 551.7,284.6 552.3,284.6 552.8,284.6 553.3,284.6 553.8,284.6 554.4,284.6 554.9,284.6 555.4,284.5 555.9,284.4 556.5,284.4 557.0,284.3 557.5,284.2 558.0,284.0 558.6,283.9 559.1,283.8 559.6,283.6 560.1,283.4 560.7,283.2 561.2,283.1 561.7,282.9 562.2,282.7 562.8,282.4 563.3,282.2 563.8,282.0 564.3,281.8 564.9,281.6 565.4,281.4 565.9,281.3 566.4,281.1 567.0,281.0 567.5,280.8 568.0,280.7 568.6,280.6 569.1,280.6 569.6,280.5 570.1,280.5 570.7,280.5 571.2,280.6 571.7,280.6 572.2,280.7 572.8,280.8 573.3,280.9 573.8,281.1 574.3,281.3 574.9,281.4 575.4,281.6 575.9,281.8 576.4,282.0 577.0,282.2 577.5,282.5 578.0,282.7 578.5,282.9 579.1,283.1 579.6,283.3 580.1,283.5 580.6,283.7 581.2,283.9 581.7,284.1 582.2,284.2 582.7,284.4 583.3,284.5 583.8,284.6 584.3,284.7 584.8,284.9 585.4,284.9 585.9,285.0 586.4,285.1 586.9,285.2 587.5,285.2 588.0,285.3 588.5,285.3 589.0,285.4 589.6,285.4 590.1,285.4 590.6,285.5 591.1,285.5 591.7,285.5 592.2,285.5 592.7,285.5 593.2,285.5 593.8,285.5 594.3,285.5 594.8,285.5 595.3,285.5 595.9,285.5 596.4,285.5 596.9,285.5 597.4,285.5 598.0,285.5 598.5,285.5 599.0,285.5 599.5,285.5 600.1,285.5 600.6,285.5 601.1,285.5 601.6,285.5" stroke="#0000ff" stroke-width="2.0" fill="none" stroke-dasharray="0.35 3.35" stroke-linecap="round" clip-path="url(#cBR)"/>
<path d="M465.1,285.0 465.6,284.9 466.1,284.9 466.6,284.8 467.2,284.7 467.7,284.6 468.2,284.5 468.7,284.4 469.3,284.3 469.8,284.2 470.3,284.0 470.8,283.9 471.4,283.7 471.9,283.6 472.4,283.4 472.9,283.3 473.5,283.1 474.0,282.9 474.5,282.7 475.0,282.5 475.6,282.3 476.1,282.1 476.6,281.9 477.1,281.7 477.7,281.5 478.2,281.3 478.7,281.1 479.2,280.9 479.8,280.7 480.3,280.5 480.8,280.4 481.4,280.2 481.9,280.0 482.4,279.9 482.9,279.8 483.5,279.7 484.0,279.6 484.5,279.5 485.0,279.4 485.6,279.3 486.1,279.3 486.6,279.3 487.1,279.3 487.7,279.3 488.2,279.3 488.7,279.4 489.2,279.5 489.8,279.5 490.3,279.6 490.8,279.7 491.3,279.9 491.9,280.0 492.4,280.1 492.9,280.3 493.4,280.4 494.0,280.6 494.5,280.7 495.0,280.9 495.5,281.0 496.1,281.2 496.6,281.3 497.1,281.4 497.6,281.6 498.2,281.7 498.7,281.8 499.2,281.9 499.7,281.9 500.3,282.0 500.8,282.0 501.3,282.0 501.8,282.0 502.4,282.0 502.9,282.0 503.4,281.9 503.9,281.8 504.5,281.7 505.0,281.5 505.5,281.3 506.0,281.1 506.6,280.9 507.1,280.6 507.6,280.3 508.1,280.0 508.7,279.7 509.2,279.3 509.7,278.9 510.2,278.5 510.8,278.1 511.3,277.6 511.8,277.1 512.3,276.6 512.9,276.1 513.4,275.5 513.9,275.0 514.4,274.4 515.0,273.8 515.5,273.2 516.0,272.6 516.5,272.0 517.1,271.3 517.6,270.7 518.1,270.1 518.6,269.5 519.2,268.9 519.7,268.3 520.2,267.7 520.7,267.2 521.3,266.6 521.8,266.1 522.3,265.6 522.8,265.2 523.4,264.7 523.9,264.4 524.4,264.0 525.0,263.7 525.5,263.4 526.0,263.2 526.5,263.0 527.1,262.8 527.6,262.7 528.1,262.7 528.6,262.7 529.2,262.7 529.7,262.8 530.2,262.9 530.7,263.1 531.3,263.3 531.8,263.6 532.3,263.9 532.8,264.2 533.4,264.6 533.9,265.0 534.4,265.5 534.9,266.0 535.5,266.5 536.0,267.0 536.5,267.5 537.0,268.1 537.6,268.7 538.1,269.3 538.6,269.9 539.1,270.5 539.7,271.2 540.2,271.8 540.7,272.4 541.2,273.0 541.8,273.7 542.3,274.3 542.8,274.9 543.3,275.4 543.9,276.0 544.4,276.6 544.9,277.1 545.4,277.6 546.0,278.1 546.5,278.6 547.0,279.1 547.5,279.5 548.1,279.9 548.6,280.3 549.1,280.7 549.6,281.0 550.2,281.3 550.7,281.6 551.2,281.9 551.7,282.1 552.3,282.3 552.8,282.5 553.3,282.6 553.8,282.7 554.4,282.8 554.9,282.8 555.4,282.8 555.9,282.8 556.5,282.7 557.0,282.6 557.5,282.4 558.0,282.2 558.6,282.0 559.1,281.7 559.6,281.4 560.1,281.1 560.7,280.7 561.2,280.3 561.7,279.9 562.2,279.5 562.8,279.0 563.3,278.5 563.8,278.0 564.3,277.5 564.9,277.1 565.4,276.6 565.9,276.2 566.4,275.8 567.0,275.4 567.5,275.0 568.0,274.7 568.6,274.5 569.1,274.3 569.6,274.1 570.1,274.1 570.7,274.0 571.2,274.1 571.7,274.2 572.2,274.3 572.8,274.6 573.3,274.8 573.8,275.2 574.3,275.5 574.9,275.9 575.4,276.3 575.9,276.8 576.4,277.3 577.0,277.8 577.5,278.3 578.0,278.8 578.5,279.3 579.1,279.7 579.6,280.2 580.1,280.7 580.6,281.1 581.2,281.5 581.7,281.9 582.2,282.2 582.7,282.5 583.3,282.8 583.8,283.1 584.3,283.4 584.8,283.6 585.4,283.8 585.9,283.9 586.4,284.1 586.9,284.2 587.5,284.4 588.0,284.5 588.5,284.5 589.0,284.6 589.6,284.7 590.1,284.7 590.6,284.8 591.1,284.8 591.7,284.9 592.2,284.9 592.7,285.0 593.2,285.0 593.8,285.0 594.3,285.0 594.8,285.1 595.3,285.1 595.9,285.1 596.4,285.1 596.9,285.2 597.4,285.2 598.0,285.2 598.5,285.2 599.0,285.2 599.5,285.3 600.1,285.3 600.6,285.3 601.1,285.3 601.6,285.3" stroke="#000000" stroke-width="2.0" fill="none" stroke-linecap="square" stroke-linejoin="round" clip-path="url(#cBR)"/>
<path d="M465.1,284.8 465.6,284.7 466.1,284.6 466.6,284.4 467.2,284.3 467.7,284.2 468.2,284.0 468.7,283.9 469.3,283.7 469.8,283.5 470.3,283.3 470.8,283.1 471.4,282.9 471.9,282.7 472.4,282.4 472.9,282.2 473.5,281.9 474.0,281.6 474.5,281.4 475.0,281.1 475.6,280.8 476.1,280.5 476.6,280.2 477.1,279.9 477.7,279.6 478.2,279.3 478.7,279.0 479.2,278.7 479.8,278.4 480.3,278.1 480.8,277.9 481.4,277.6 481.9,277.4 482.4,277.2 482.9,277.0 483.5,276.8 484.0,276.7 484.5,276.6 485.0,276.5 485.6,276.4 486.1,276.3 486.6,276.3 487.1,276.3 487.7,276.3 488.2,276.4 488.7,276.5 489.2,276.6 489.8,276.7 490.3,276.8 490.8,277.0 491.3,277.2 491.9,277.3 492.4,277.6 492.9,277.8 493.4,278.0 494.0,278.2 494.5,278.4 495.0,278.7 495.5,278.9 496.1,279.1 496.6,279.3 497.1,279.5 497.6,279.6 498.2,279.8 498.7,279.9 499.2,280.0 499.7,280.0 500.3,280.1 500.8,280.1 501.3,280.0 501.8,279.9 502.4,279.8 502.9,279.6 503.4,279.4 503.9,279.1 504.5,278.8 505.0,278.4 505.5,277.9 506.0,277.4 506.6,276.8 507.1,276.2 507.6,275.5 508.1,274.8 508.7,273.9 509.2,273.0 509.7,272.1 510.2,271.1 510.8,270.0 511.3,268.9 511.8,267.7 512.3,266.4 512.9,265.1 513.4,263.7 513.9,262.4 514.4,260.9 515.0,259.4 515.5,257.9 516.0,256.4 516.5,254.9 517.1,253.3 517.6,251.8 518.1,250.2 518.6,248.7 519.2,247.2 519.7,245.7 520.2,244.3 520.7,242.9 521.3,241.6 521.8,240.3 522.3,239.1 522.8,238.0 523.4,237.0 523.9,236.0 524.4,235.2 525.0,234.5 525.5,233.9 526.0,233.4 526.5,233.0 527.1,232.7 527.6,232.6 528.1,232.6 528.6,232.7 529.2,233.0 529.7,233.3 530.2,233.8 530.7,234.4 531.3,235.1 531.8,235.9 532.3,236.9 532.8,237.9 533.4,239.0 533.9,240.2 534.4,241.4 534.9,242.7 535.5,244.1 536.0,245.5 536.5,247.0 537.0,248.4 537.6,250.0 538.1,251.5 538.6,253.0 539.1,254.5 539.7,256.1 540.2,257.6 540.7,259.0 541.2,260.5 541.8,261.9 542.3,263.3 542.8,264.6 543.3,265.9 543.9,267.1 544.4,268.3 544.9,269.4 545.4,270.4 546.0,271.4 546.5,272.3 547.0,273.2 547.5,273.9 548.1,274.6 548.6,275.2 549.1,275.7 549.6,276.2 550.2,276.5 550.7,276.8 551.2,277.0 551.7,277.1 552.3,277.1 552.8,277.0 553.3,276.8 553.8,276.5 554.4,276.1 554.9,275.6 555.4,275.0 555.9,274.3 556.5,273.5 557.0,272.6 557.5,271.7 558.0,270.6 558.6,269.5 559.1,268.3 559.6,267.1 560.1,265.8 560.7,264.5 561.2,263.1 561.7,261.8 562.2,260.4 562.8,259.1 563.3,257.8 563.8,256.5 564.3,255.3 564.9,254.2 565.4,253.2 565.9,252.3 566.4,251.5 567.0,250.8 567.5,250.3 568.0,249.9 568.6,249.7 569.1,249.6 569.6,249.7 570.1,250.0 570.7,250.4 571.2,250.9 571.7,251.6 572.2,252.4 572.8,253.4 573.3,254.4 573.8,255.6 574.3,256.8 574.9,258.1 575.4,259.5 575.9,260.9 576.4,262.3 577.0,263.7 577.5,265.2 578.0,266.6 578.5,268.0 579.1,269.4 579.6,270.7 580.1,272.0 580.6,273.2 581.2,274.3 581.7,275.4 582.2,276.4 582.7,277.4 583.3,278.3 583.8,279.1 584.3,279.8 584.8,280.5 585.4,281.1 585.9,281.6 586.4,282.1 586.9,282.5 587.5,282.9 588.0,283.3 588.5,283.6 589.0,283.8 589.6,284.0 590.1,284.2 590.6,284.4 591.1,284.6 591.7,284.7 592.2,284.8 592.7,284.9 593.2,285.0 593.8,285.0 594.3,285.1 594.8,285.1 595.3,285.2 595.9,285.2 596.4,285.2 596.9,285.3 597.4,285.3 598.0,285.3 598.5,285.3 599.0,285.4 599.5,285.4 600.1,285.4 600.6,285.4 601.1,285.4 601.6,285.4" stroke="#ff0000" stroke-width="2.0" fill="none" stroke-dasharray="7.8 2.9" stroke-linecap="butt" clip-path="url(#cBR)"/>
<path d="M465.1,284.8 465.6,284.7 466.1,284.6 466.6,284.5 467.2,284.3 467.7,284.2 468.2,284.1 468.7,283.9 469.3,283.7 469.8,283.5 470.3,283.4 470.8,283.2 471.4,282.9 471.9,282.7 472.4,282.5 472.9,282.2 473.5,282.0 474.0,281.7 474.5,281.4 475.0,281.1 475.6,280.9 476.1,280.6 476.6,280.3 477.1,280.0 477.7,279.7 478.2,279.4 478.7,279.1 479.2,278.8 479.8,278.5 480.3,278.3 480.8,278.0 481.4,277.8 481.9,277.5 482.4,277.3 482.9,277.1 483.5,277.0 484.0,276.8 484.5,276.7 485.0,276.6 485.6,276.5 486.1,276.4 486.6,276.4 487.1,276.4 487.7,276.4 488.2,276.5 488.7,276.5 489.2,276.6 489.8,276.7 490.3,276.9 490.8,277.0 491.3,277.2 491.9,277.4 492.4,277.5 492.9,277.7 493.4,277.9 494.0,278.1 494.5,278.3 495.0,278.5 495.5,278.7 496.1,278.9 496.6,279.0 497.1,279.2 497.6,279.3 498.2,279.4 498.7,279.4 499.2,279.5 499.7,279.5 500.3,279.5 500.8,279.4 501.3,279.3 501.8,279.1 502.4,278.9 502.9,278.7 503.4,278.4 503.9,278.0 504.5,277.6 505.0,277.1 505.5,276.6 506.0,276.0 506.6,275.3 507.1,274.6 507.6,273.8 508.1,272.9 508.7,272.0 509.2,271.0 509.7,270.0 510.2,268.9 510.8,267.7 511.3,266.5 511.8,265.2 512.3,263.8 512.9,262.4 513.4,261.0 513.9,259.5 514.4,258.0 515.0,256.4 515.5,254.8 516.0,253.2 516.5,251.6 517.1,249.9 517.6,248.3 518.1,246.6 518.6,245.0 519.2,243.4 519.7,241.8 520.2,240.3 520.7,238.8 521.3,237.3 521.8,236.0 522.3,234.6 522.8,233.4 523.4,232.2 523.9,231.2 524.4,230.2 525.0,229.3 525.5,228.6 526.0,227.9 526.5,227.4 527.1,227.0 527.6,226.7 528.1,226.6 528.6,226.5 529.2,226.6 529.7,226.8 530.2,227.2 530.7,227.6 531.3,228.2 531.8,228.9 532.3,229.7 532.8,230.6 533.4,231.7 533.9,232.8 534.4,234.0 534.9,235.2 535.5,236.6 536.0,238.0 536.5,239.4 537.0,241.0 537.6,242.5 538.1,244.1 538.6,245.7 539.1,247.3 539.7,249.0 540.2,250.6 540.7,252.2 541.2,253.8 541.8,255.4 542.3,257.0 542.8,258.5 543.3,260.0 543.9,261.5 544.4,262.9 544.9,264.2 545.4,265.5 546.0,266.7 546.5,267.9 547.0,269.0 547.5,270.0 548.1,270.9 548.6,271.7 549.1,272.5 549.6,273.1 550.2,273.7 550.7,274.1 551.2,274.5 551.7,274.7 552.3,274.8 552.8,274.8 553.3,274.6 553.8,274.4 554.4,273.9 554.9,273.4 555.4,272.7 555.9,271.8 556.5,270.9 557.0,269.7 557.5,268.4 558.0,267.0 558.6,265.4 559.1,263.7 559.6,261.9 560.1,260.0 560.7,257.9 561.2,255.8 561.7,253.6 562.2,251.4 562.8,249.1 563.3,246.9 563.8,244.6 564.3,242.4 564.9,240.3 565.4,238.2 565.9,236.3 566.4,234.5 567.0,232.8 567.5,231.4 568.0,230.2 568.6,229.2 569.1,228.4 569.6,227.8 570.1,227.6 570.7,227.6 571.2,227.8 571.7,228.3 572.2,229.1 572.8,230.1 573.3,231.3 573.8,232.7 574.3,234.3 574.9,236.1 575.4,238.1 575.9,240.2 576.4,242.4 577.0,244.6 577.5,247.0 578.0,249.3 578.5,251.7 579.1,254.0 579.6,256.3 580.1,258.6 580.6,260.8 581.2,262.9 581.7,265.0 582.2,266.9 582.7,268.7 583.3,270.4 583.8,272.0 584.3,273.5 584.8,274.9 585.4,276.1 585.9,277.2 586.4,278.3 586.9,279.2 587.5,280.0 588.0,280.8 588.5,281.4 589.0,282.0 589.6,282.5 590.1,282.9 590.6,283.3 591.1,283.6 591.7,283.9 592.2,284.2 592.7,284.4 593.2,284.6 593.8,284.7 594.3,284.8 594.8,284.9 595.3,285.0 595.9,285.1 596.4,285.2 596.9,285.2 597.4,285.3 598.0,285.3 598.5,285.3 599.0,285.3 599.5,285.4 600.1,285.4 600.6,285.4 601.1,285.4 601.6,285.4" stroke="#008000" stroke-width="2.0" fill="none" stroke-dasharray="4.6 2.2 1.2 2.2" stroke-linecap="butt" clip-path="url(#cBR)"/>
<path d="M465.1,284.8 465.6,284.7 466.1,284.6 466.6,284.5 467.2,284.4 467.7,284.3 468.2,284.1 468.7,284.0 469.3,283.8 469.8,283.6 470.3,283.5 470.8,283.3 471.4,283.0 471.9,282.8 472.4,282.6 472.9,282.3 473.5,282.1 474.0,281.8 474.5,281.5 475.0,281.2 475.6,280.9 476.1,280.6 476.6,280.3 477.1,280.0 477.7,279.7 478.2,279.4 478.7,279.1 479.2,278.8 479.8,278.5 480.3,278.2 480.8,278.0 481.4,277.7 481.9,277.5 482.4,277.3 482.9,277.1 483.5,276.9 484.0,276.7 484.5,276.6 485.0,276.5 485.6,276.4 486.1,276.4 486.6,276.3 487.1,276.3 487.7,276.4 488.2,276.4 488.7,276.5 489.2,276.6 489.8,276.7 490.3,276.9 490.8,277.0 491.3,277.2 491.9,277.4 492.4,277.6 492.9,277.8 493.4,278.0 494.0,278.3 494.5,278.5 495.0,278.7 495.5,278.9 496.1,279.1 496.6,279.3 497.1,279.5 497.6,279.6 498.2,279.7 498.7,279.8 499.2,279.9 499.7,279.9 500.3,279.9 500.8,279.8 501.3,279.7 501.8,279.6 502.4,279.4 502.9,279.1 503.4,278.8 503.9,278.4 504.5,278.0 505.0,277.4 505.5,276.9 506.0,276.2 506.6,275.5 507.1,274.7 507.6,273.8 508.1,272.9 508.7,271.8 509.2,270.7 509.7,269.5 510.2,268.3 510.8,266.9 511.3,265.5 511.8,264.0 512.3,262.4 512.9,260.8 513.4,259.1 513.9,257.3 514.4,255.5 515.0,253.6 515.5,251.7 516.0,249.8 516.5,247.8 517.1,245.8 517.6,243.8 518.1,241.8 518.6,239.8 519.2,237.8 519.7,235.9 520.2,234.0 520.7,232.1 521.3,230.3 521.8,228.6 522.3,227.0 522.8,225.4 523.4,224.0 523.9,222.7 524.4,221.5 525.0,220.4 525.5,219.4 526.0,218.6 526.5,218.0 527.1,217.5 527.6,217.2 528.1,217.0 528.6,216.9 529.2,217.1 529.7,217.4 530.2,217.8 530.7,218.4 531.3,219.2 531.8,220.1 532.3,221.1 532.8,222.3 533.4,223.6 533.9,225.0 534.4,226.5 534.9,228.1 535.5,229.8 536.0,231.5 536.5,233.3 537.0,235.2 537.6,237.1 538.1,239.1 538.6,241.0 539.1,243.0 539.7,245.0 540.2,247.0 540.7,248.9 541.2,250.9 541.8,252.8 542.3,254.6 542.8,256.4 543.3,258.2 543.9,259.9 544.4,261.5 544.9,263.1 545.4,264.6 546.0,266.0 546.5,267.3 547.0,268.6 547.5,269.8 548.1,270.8 548.6,271.8 549.1,272.7 549.6,273.5 550.2,274.2 550.7,274.8 551.2,275.3 551.7,275.7 552.3,275.9 552.8,276.1 553.3,276.1 553.8,276.0 554.4,275.8 554.9,275.4 555.4,274.9 555.9,274.2 556.5,273.5 557.0,272.5 557.5,271.5 558.0,270.2 558.6,268.9 559.1,267.4 559.6,265.8 560.1,264.1 560.7,262.3 561.2,260.4 561.7,258.4 562.2,256.3 562.8,254.3 563.3,252.2 563.8,250.1 564.3,248.1 564.9,246.1 565.4,244.3 565.9,242.5 566.4,240.9 567.0,239.4 567.5,238.1 568.0,237.1 568.6,236.2 569.1,235.6 569.6,235.2 570.1,235.0 570.7,235.2 571.2,235.5 571.7,236.1 572.2,237.0 572.8,238.0 573.3,239.3 573.8,240.8 574.3,242.4 574.9,244.2 575.4,246.1 575.9,248.1 576.4,250.2 577.0,252.3 577.5,254.5 578.0,256.7 578.5,258.8 579.1,260.9 579.6,263.0 580.1,265.0 580.6,266.9 581.2,268.7 581.7,270.4 582.2,272.0 582.7,273.5 583.3,274.9 583.8,276.2 584.3,277.3 584.8,278.4 585.4,279.3 585.9,280.2 586.4,280.9 586.9,281.6 587.5,282.2 588.0,282.7 588.5,283.1 589.0,283.5 589.6,283.8 590.1,284.1 590.6,284.4 591.1,284.6 591.7,284.7 592.2,284.9 592.7,285.0 593.2,285.1 593.8,285.2 594.3,285.2 594.8,285.3 595.3,285.3 595.9,285.4 596.4,285.4 596.9,285.4 597.4,285.4 598.0,285.4 598.5,285.5 599.0,285.5 599.5,285.5 600.1,285.5 600.6,285.5 601.1,285.5 601.6,285.5" stroke="#0000ff" stroke-width="2.0" fill="none" stroke-dasharray="0.35 3.35" stroke-linecap="round" clip-path="url(#cBR)"/>

<g stroke="#2a2a2a" stroke-width="1.1" fill="none">
<line x1="13.0" y1="15.2" x2="602.5" y2="15.2" stroke-width="1.3"/>
<line x1="13.0" y1="150.8" x2="602.5" y2="150.8" stroke-width="1.3"/>
<line x1="13.0" y1="286.7" x2="602.5" y2="286.7" stroke-width="1.4"/>
<line x1="13.55" y1="14.5" x2="13.55" y2="287"/>
<line x1="349.6" y1="14.5" x2="349.6" y2="287"/>
<line x1="602.0" y1="14.5" x2="602.0" y2="287"/>
</g>
<g stroke="#2a2a2a" stroke-width="1.1"><line x1="34.53" y1="286.4" x2="34.53" y2="290.59999999999997"/><line x1="87.06" y1="286.4" x2="87.06" y2="290.59999999999997"/><line x1="139.60" y1="286.4" x2="139.60" y2="290.59999999999997"/><line x1="192.13" y1="286.4" x2="192.13" y2="290.59999999999997"/><line x1="244.67" y1="286.4" x2="244.67" y2="290.59999999999997"/><line x1="297.20" y1="286.4" x2="297.20" y2="290.59999999999997"/><line x1="349.73" y1="286.4" x2="349.73" y2="290.59999999999997"/><line x1="360.35" y1="286.4" x2="360.35" y2="290.59999999999997"/><line x1="412.88" y1="286.4" x2="412.88" y2="290.59999999999997"/><line x1="465.41" y1="286.4" x2="465.41" y2="290.59999999999997"/><line x1="517.94" y1="286.4" x2="517.94" y2="290.59999999999997"/><line x1="570.47" y1="286.4" x2="570.47" y2="290.59999999999997"/></g>
<g font-family="Liberation Sans, sans-serif" fill="#000" stroke="#000" stroke-width="0.22">
<text x="34.53" y="301.8" font-size="9.6" text-anchor="middle" textLength="15.6" lengthAdjust="spacingAndGlyphs" >400</text><text x="87.06" y="301.8" font-size="9.6" text-anchor="middle" textLength="15.6" lengthAdjust="spacingAndGlyphs" >450</text><text x="139.60" y="301.8" font-size="9.6" text-anchor="middle" textLength="15.6" lengthAdjust="spacingAndGlyphs" >500</text><text x="192.13" y="301.8" font-size="9.6" text-anchor="middle" textLength="15.6" lengthAdjust="spacingAndGlyphs" >550</text><text x="244.67" y="301.8" font-size="9.6" text-anchor="middle" textLength="15.6" lengthAdjust="spacingAndGlyphs" >600</text><text x="297.20" y="301.8" font-size="9.6" text-anchor="middle" textLength="15.6" lengthAdjust="spacingAndGlyphs" >650</text><text x="360.35" y="301.8" font-size="9.6" text-anchor="middle" textLength="15.6" lengthAdjust="spacingAndGlyphs" >400</text><text x="412.88" y="301.8" font-size="9.6" text-anchor="middle" textLength="15.6" lengthAdjust="spacingAndGlyphs" >450</text><text x="465.41" y="301.8" font-size="9.6" text-anchor="middle" textLength="15.6" lengthAdjust="spacingAndGlyphs" >500</text><text x="517.94" y="301.8" font-size="9.6" text-anchor="middle" textLength="15.6" lengthAdjust="spacingAndGlyphs" >550</text><text x="570.47" y="301.8" font-size="9.6" text-anchor="middle" textLength="15.6" lengthAdjust="spacingAndGlyphs" >600</text><text x="181.5" y="314.7" font-size="9.6" text-anchor="middle" textLength="73.2" lengthAdjust="spacingAndGlyphs" >wavelength / nm</text><text x="475.7" y="314.7" font-size="9.6" text-anchor="middle" textLength="72.8" lengthAdjust="spacingAndGlyphs" >wavelength / nm</text><text x="110.8" y="108.2" font-size="9.6" text-anchor="middle" textLength="15.5" lengthAdjust="spacingAndGlyphs" >x12</text><text x="110.8" y="244.2" font-size="9.6" text-anchor="middle" textLength="15.5" lengthAdjust="spacingAndGlyphs" >x12</text><text x="484.2" y="108.3" font-size="9.6" text-anchor="middle" textLength="16.2" lengthAdjust="spacingAndGlyphs" >x10</text><text x="484.2" y="244.4" font-size="9.6" text-anchor="middle" textLength="16.2" lengthAdjust="spacingAndGlyphs" >x10</text><text x="137.6" y="7" font-size="9.6" textLength="87.7" lengthAdjust="spacingAndGlyphs">with H<tspan font-size="6.9" dy="1.2">2</tspan><tspan dy="-1.2">TPP attached</tspan></text><text x="475.5" y="7" font-size="9.6" text-anchor="middle" textLength="88.3" lengthAdjust="spacingAndGlyphs" >with ZnTPP attached</text><text transform="translate(7.8,82.8) rotate(-90)" font-size="9.6" text-anchor="middle" textLength="57.6" lengthAdjust="spacingAndGlyphs">experimental</text><text transform="translate(8.0,218.9) rotate(-90)" font-size="9.6" text-anchor="middle" textLength="42.2" lengthAdjust="spacingAndGlyphs">simulated</text><text x="174.4" y="331" font-size="9.6" text-anchor="start" textLength="34.0" lengthAdjust="spacingAndGlyphs" >Legend:</text><text x="261.7" y="331" font-size="9.6" textLength="18.2" lengthAdjust="spacingAndGlyphs">SiO<tspan font-size="6.9" dy="1.2">2</tspan></text><text x="323.5" y="331" font-size="9.6" text-anchor="start" textLength="16.3" lengthAdjust="spacingAndGlyphs" >NP3</text><text x="382.7" y="331" font-size="9.6" text-anchor="start" textLength="15.9" lengthAdjust="spacingAndGlyphs" >NP2</text><text x="441.5" y="331" font-size="9.6" text-anchor="start" textLength="16.3" lengthAdjust="spacingAndGlyphs" >NP1</text>
</g>

<line x1="237.4" y1="328" x2="254.3" y2="328" stroke="#000" stroke-width="2" stroke-linecap="square"/>
<line x1="299.3" y1="328" x2="315.8" y2="328" stroke="#f00" stroke-width="2" stroke-dasharray="7.8 2.9"/>
<line x1="358.3" y1="328" x2="374.8" y2="328" stroke="#008000" stroke-width="2" stroke-dasharray="4.6 2.2 1.2 2.2"/>
<line x1="417.6" y1="328" x2="433.6" y2="328" stroke="#00f" stroke-width="2" stroke-dasharray="0.35 3.35" stroke-linecap="round"/>

</svg>
</body></html>
